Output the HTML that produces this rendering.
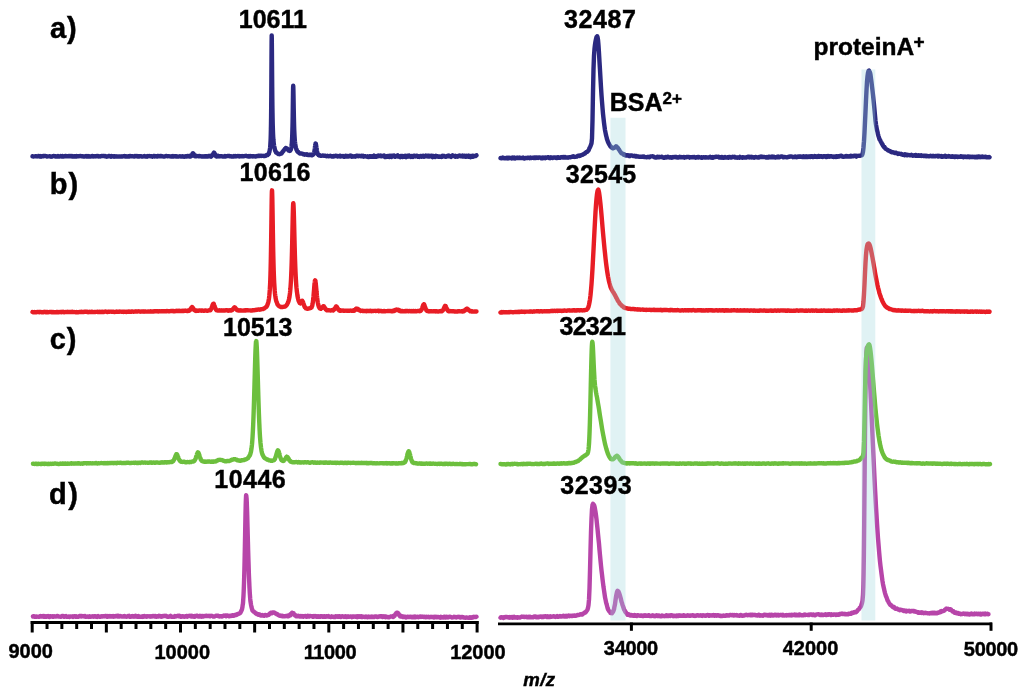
<!DOCTYPE html>
<html><head><meta charset="utf-8"><style>
html,body{margin:0;padding:0;background:#fff;}
svg{display:block;filter:blur(0.45px);}
text{font-family:"Liberation Sans",sans-serif;font-weight:bold;fill:#000;stroke:#000;stroke-width:0.45px;}
</style></head><body>
<svg width="1024" height="692" viewBox="0 0 1024 692">
<rect width="1024" height="692" fill="#fff"/>
<g fill="none" stroke-width="4.4" stroke-linejoin="round" stroke-linecap="round">
<path d="M32.5 156.27 L33.0 156.33 L33.5 156.58 L34.0 156.38 L34.5 156.33 L35.0 156.37 L35.5 156.12 L36.0 156.24 L36.5 156.36 L37.0 156.51 L37.5 156.11 L38.0 156.10 L38.5 155.96 L39.0 156.38 L39.5 156.45 L40.0 156.05 L40.5 156.53 L41.0 156.68 L41.5 156.53 L42.0 156.45 L42.5 156.13 L43.0 155.92 L43.5 156.19 L44.0 155.97 L44.5 155.98 L45.0 156.02 L45.5 155.89 L46.0 156.13 L46.5 156.20 L47.0 156.49 L47.5 156.38 L48.0 156.42 L48.5 156.34 L49.0 156.42 L49.5 156.31 L50.0 156.16 L50.5 156.57 L51.0 156.72 L51.5 156.67 L52.0 156.56 L52.5 156.27 L53.0 156.11 L53.5 156.10 L54.0 155.95 L54.5 156.35 L55.0 156.25 L55.5 156.51 L56.0 156.30 L56.5 156.59 L57.0 156.63 L57.5 156.09 L58.0 156.04 L58.5 156.47 L59.0 156.34 L59.5 156.62 L60.0 156.35 L60.5 156.04 L61.0 156.29 L61.5 156.48 L62.0 156.21 L62.5 156.00 L63.0 156.08 L63.5 156.52 L64.0 156.54 L64.5 156.14 L65.0 156.08 L65.5 155.96 L66.0 155.89 L66.5 156.35 L67.0 156.11 L67.5 156.27 L68.0 156.25 L68.5 156.08 L69.0 156.37 L69.5 156.08 L70.0 156.32 L70.5 156.05 L71.0 156.16 L71.5 156.06 L72.0 156.07 L72.5 156.52 L73.0 156.57 L73.5 156.27 L74.0 156.54 L74.5 156.19 L75.0 156.19 L75.5 156.49 L76.0 156.46 L76.5 156.09 L77.0 156.54 L77.5 156.20 L78.0 156.10 L78.5 156.41 L79.0 156.22 L79.5 156.14 L80.0 155.96 L80.5 155.91 L81.0 156.22 L81.5 156.10 L82.0 156.29 L82.5 156.21 L83.0 156.24 L83.5 156.57 L84.0 156.38 L84.5 156.38 L85.0 156.56 L85.5 156.18 L86.0 156.03 L86.5 156.47 L87.0 156.56 L87.5 156.23 L88.0 156.07 L88.5 156.37 L89.0 156.61 L89.5 156.21 L90.0 156.56 L90.5 156.64 L91.0 156.48 L91.5 156.31 L92.0 156.04 L92.5 155.91 L93.0 156.46 L93.5 156.18 L94.0 156.39 L94.5 156.17 L95.0 156.46 L95.5 156.42 L96.0 156.20 L96.5 156.05 L97.0 156.35 L97.5 156.04 L98.0 156.03 L98.5 156.24 L99.0 156.51 L99.5 156.44 L100.0 156.20 L100.5 156.54 L101.0 156.19 L101.5 155.94 L102.0 156.02 L102.5 156.16 L103.0 155.96 L103.5 155.97 L104.0 156.10 L104.5 156.27 L105.0 156.05 L105.5 156.12 L106.0 156.49 L106.5 156.68 L107.0 156.53 L107.5 156.50 L108.0 156.42 L108.5 156.11 L109.0 155.93 L109.5 155.85 L110.0 156.41 L110.5 156.47 L111.0 156.66 L111.5 156.11 L112.0 156.32 L112.5 156.29 L113.0 156.44 L113.5 156.23 L114.0 156.60 L114.5 156.12 L115.0 156.27 L115.5 156.44 L116.0 156.61 L116.5 156.56 L117.0 156.52 L117.5 156.56 L118.0 156.66 L118.5 156.33 L119.0 156.43 L119.5 156.60 L120.0 156.64 L120.5 156.36 L121.0 156.51 L121.5 156.61 L122.0 156.45 L122.5 156.43 L123.0 156.27 L123.5 156.34 L124.0 156.38 L124.5 156.05 L125.0 156.30 L125.5 156.62 L126.0 156.65 L126.5 156.57 L127.0 156.32 L127.5 156.46 L128.0 156.40 L128.5 156.29 L129.0 156.51 L129.5 156.10 L130.0 156.39 L130.5 156.02 L131.0 156.26 L131.5 156.27 L132.0 156.11 L132.5 156.36 L133.0 156.31 L133.5 156.38 L134.0 156.60 L134.5 156.24 L135.0 155.96 L135.5 156.05 L136.0 156.32 L136.5 156.11 L137.0 156.01 L137.5 156.46 L138.0 156.46 L138.5 156.31 L139.0 156.55 L139.5 156.27 L140.0 156.39 L140.5 156.13 L141.0 156.19 L141.5 156.46 L142.0 156.62 L142.5 156.65 L143.0 156.34 L143.5 156.36 L144.0 156.20 L144.5 156.02 L145.0 156.20 L145.5 156.48 L146.0 156.58 L146.5 156.53 L147.0 156.67 L147.5 156.28 L148.0 156.07 L148.5 156.18 L149.0 156.11 L149.5 156.04 L150.0 156.15 L150.5 156.32 L151.0 156.30 L151.5 156.17 L152.0 156.47 L152.5 156.67 L153.0 156.39 L153.5 156.05 L154.0 155.90 L154.5 156.40 L155.0 156.03 L155.5 156.34 L156.0 156.35 L156.5 156.19 L157.0 156.44 L157.5 156.03 L158.0 155.96 L158.5 156.15 L159.0 155.93 L159.5 156.38 L160.0 156.15 L160.5 156.01 L161.0 155.90 L161.5 156.24 L162.0 156.24 L162.5 156.36 L163.0 156.41 L163.5 156.53 L164.0 156.67 L164.5 156.54 L165.0 156.18 L165.5 156.24 L166.0 156.06 L166.5 155.89 L167.0 156.13 L167.5 156.37 L168.0 156.11 L168.5 156.08 L169.0 156.11 L169.5 156.36 L170.0 156.32 L170.5 156.38 L171.0 156.48 L171.5 156.29 L172.0 156.48 L172.5 156.62 L173.0 156.13 L173.5 156.51 L174.0 156.51 L174.5 156.12 L175.0 156.20 L175.5 156.34 L176.0 156.57 L176.5 156.30 L177.0 156.34 L177.5 156.55 L178.0 156.57 L178.5 156.67 L179.0 156.40 L179.5 156.42 L180.0 156.14 L180.5 156.38 L181.0 156.52 L181.5 156.46 L182.0 156.48 L182.5 156.16 L183.0 156.50 L183.5 156.67 L184.0 156.72 L184.5 156.45 L185.0 156.52 L185.5 156.24 L186.0 156.52 L186.5 156.59 L187.0 156.27 L187.5 155.99 L188.0 156.12 L188.5 156.23 L189.0 156.40 L189.1 156.28 L189.2 155.94 L189.3 156.32 L189.4 155.97 L189.5 156.32 L189.6 156.04 L189.7 156.04 L189.8 156.33 L189.9 156.01 L190.0 155.90 L190.1 156.09 L190.2 156.29 L190.3 156.42 L190.4 156.36 L190.5 156.50 L190.6 156.23 L190.7 156.42 L190.8 155.90 L190.9 155.78 L191.0 155.91 L191.1 155.76 L191.2 155.94 L191.3 155.89 L191.4 155.73 L191.5 155.81 L191.6 155.56 L191.7 155.22 L191.8 155.04 L191.9 155.16 L192.0 155.11 L192.1 154.51 L192.2 154.59 L192.3 154.56 L192.4 154.13 L192.5 153.90 L192.6 153.47 L192.7 153.45 L192.8 153.37 L192.9 153.37 L193.0 153.28 L193.1 153.51 L193.2 153.46 L193.3 153.45 L193.4 153.81 L193.5 153.90 L193.6 154.01 L193.7 154.32 L193.8 154.15 L193.9 154.53 L194.0 154.71 L194.1 155.24 L194.2 155.51 L194.3 155.28 L194.4 155.41 L194.5 155.31 L194.6 155.54 L194.7 155.93 L194.8 156.16 L194.9 156.01 L195.0 155.88 L195.1 155.79 L195.2 156.05 L195.3 156.36 L195.4 155.96 L195.5 156.26 L195.6 155.88 L195.7 155.87 L195.8 155.89 L195.9 156.20 L196.0 156.08 L196.1 156.06 L196.2 156.23 L196.3 155.96 L196.4 156.27 L196.5 155.99 L196.6 156.14 L196.7 156.03 L196.8 155.96 L196.9 156.15 L197.0 156.16 L197.5 156.13 L198.0 156.15 L198.5 156.24 L199.0 156.03 L199.5 155.99 L200.0 156.25 L200.5 156.35 L201.0 156.31 L201.5 156.51 L202.0 156.42 L202.5 156.55 L203.0 156.19 L203.5 156.39 L204.0 156.51 L204.5 156.61 L205.0 156.26 L205.5 156.14 L206.0 156.49 L206.5 156.15 L207.0 156.54 L207.5 156.60 L208.0 156.13 L208.5 156.03 L209.0 156.31 L209.5 156.09 L210.0 155.90 L210.1 156.32 L210.2 156.19 L210.3 156.39 L210.4 156.02 L210.5 156.07 L210.6 156.27 L210.7 155.90 L210.8 155.88 L210.9 156.19 L211.0 156.44 L211.1 156.55 L211.2 156.03 L211.3 156.10 L211.4 156.27 L211.5 156.15 L211.6 156.21 L211.7 155.89 L211.8 155.68 L211.9 155.59 L212.0 155.48 L212.1 155.73 L212.2 155.73 L212.3 155.71 L212.4 155.34 L212.5 155.15 L212.6 155.00 L212.7 155.24 L212.8 155.30 L212.9 155.14 L213.0 154.40 L213.1 153.97 L213.2 154.24 L213.3 153.86 L213.4 153.78 L213.5 153.32 L213.6 153.14 L213.7 153.00 L213.8 152.83 L213.9 152.85 L214.0 152.77 L214.1 152.83 L214.2 153.11 L214.3 152.88 L214.4 153.10 L214.5 153.50 L214.6 153.57 L214.7 153.62 L214.8 153.77 L214.9 154.20 L215.0 154.17 L215.1 154.87 L215.2 155.18 L215.3 155.34 L215.4 155.60 L215.5 155.63 L215.6 155.57 L215.7 155.74 L215.8 155.79 L215.9 156.17 L216.0 156.22 L216.1 155.91 L216.2 156.26 L216.3 156.29 L216.4 156.34 L216.5 156.39 L216.6 156.16 L216.7 156.40 L216.8 156.48 L216.9 156.40 L217.0 156.42 L217.1 156.43 L217.2 156.21 L217.3 156.34 L217.4 155.96 L217.5 156.01 L217.6 156.11 L217.7 155.85 L217.8 155.99 L217.9 156.22 L218.0 156.29 L218.5 156.08 L219.0 156.47 L219.5 156.43 L220.0 156.20 L220.5 156.33 L221.0 156.32 L221.5 156.30 L222.0 156.20 L222.5 156.56 L223.0 156.45 L223.5 156.45 L224.0 156.49 L224.5 156.65 L225.0 156.08 L225.5 156.27 L226.0 156.42 L226.5 156.15 L227.0 156.16 L227.5 155.93 L228.0 155.94 L228.5 156.06 L229.0 155.93 L229.5 155.98 L230.0 156.42 L230.5 156.34 L231.0 156.29 L231.5 156.57 L232.0 156.41 L232.5 156.63 L233.0 156.47 L233.5 156.53 L234.0 156.07 L234.5 156.25 L235.0 156.41 L235.5 156.01 L236.0 156.44 L236.5 156.09 L237.0 156.17 L237.5 156.00 L238.0 156.15 L238.5 156.28 L239.0 155.96 L239.5 156.43 L240.0 156.25 L240.5 156.26 L241.0 156.30 L241.5 156.17 L242.0 156.07 L242.5 156.27 L243.0 156.28 L243.5 156.10 L244.0 156.32 L244.5 156.12 L245.0 155.87 L245.5 155.92 L246.0 155.81 L246.5 155.85 L247.0 156.24 L247.5 156.14 L248.0 156.44 L248.5 156.44 L249.0 155.99 L249.5 156.44 L250.0 156.56 L250.5 156.04 L251.0 156.39 L251.5 156.20 L252.0 156.17 L252.5 156.47 L253.0 156.10 L253.5 156.15 L254.0 156.43 L254.5 156.39 L255.0 156.20 L255.5 156.46 L256.0 156.44 L256.5 156.29 L257.0 155.92 L257.5 156.11 L258.0 156.06 L258.5 155.87 L259.0 155.69 L259.5 155.93 L260.0 155.74 L260.5 155.87 L261.0 156.04 L261.5 155.95 L262.0 155.77 L262.5 155.90 L263.0 155.81 L263.5 155.98 L264.0 155.85 L264.5 156.06 L265.0 156.05 L265.5 155.85 L266.0 155.37 L266.5 155.02 L267.0 155.27 L267.5 155.10 L267.7 154.90 L267.8 154.63 L267.9 154.42 L268.0 154.57 L268.1 154.48 L268.2 154.40 L268.3 154.32 L268.4 154.29 L268.5 153.83 L268.6 153.61 L268.7 153.90 L268.8 153.84 L268.9 153.66 L269.0 152.90 L269.1 152.49 L269.2 152.29 L269.3 152.11 L269.4 151.94 L269.5 151.27 L269.6 151.01 L269.7 150.27 L269.8 149.62 L269.9 149.31 L270.0 148.58 L270.1 147.75 L270.2 146.56 L270.3 145.34 L270.4 143.70 L270.5 141.95 L270.6 140.06 L270.7 137.53 L270.8 133.72 L270.9 129.30 L271.0 124.11 L271.1 116.77 L271.2 107.08 L271.3 93.84 L271.4 77.46 L271.5 58.67 L271.6 42.48 L271.7 35.34 L271.8 38.91 L271.9 48.76 L272.0 61.24 L272.1 74.60 L272.2 86.94 L272.3 97.21 L272.4 105.91 L272.5 112.79 L272.6 118.25 L272.7 123.29 L272.8 126.69 L272.9 129.68 L273.0 132.54 L273.1 134.76 L273.2 136.76 L273.3 138.15 L273.4 139.77 L273.5 140.60 L273.6 141.63 L273.7 142.85 L273.8 143.42 L273.9 144.23 L274.0 145.22 L274.1 145.93 L274.2 146.28 L274.3 146.64 L274.4 147.21 L274.5 147.94 L274.6 148.23 L274.7 148.41 L274.8 149.10 L274.9 149.46 L275.0 150.03 L275.1 150.43 L275.2 150.73 L275.3 150.70 L275.4 151.08 L275.5 151.04 L275.6 151.18 L275.7 151.41 L275.8 151.97 L275.9 152.25 L276.0 152.04 L276.1 152.14 L276.2 152.27 L276.3 152.40 L276.5 152.67 L277.0 153.17 L277.5 153.37 L278.0 153.77 L278.5 154.11 L279.0 154.06 L279.5 154.21 L280.0 154.02 L280.5 153.59 L281.0 153.66 L281.5 153.53 L282.0 152.79 L282.5 151.96 L283.0 151.52 L283.5 150.85 L284.0 150.08 L284.5 149.56 L285.0 148.76 L285.5 148.37 L285.8 147.98 L286.0 147.93 L286.5 148.32 L287.0 148.37 L287.5 148.80 L288.0 149.76 L288.5 150.50 L289.0 150.42 L289.2 150.71 L289.3 150.49 L289.4 150.82 L289.5 150.87 L289.6 150.63 L289.7 150.51 L289.8 150.80 L289.9 150.71 L290.0 150.61 L290.1 150.54 L290.2 150.34 L290.3 150.60 L290.4 150.41 L290.5 150.11 L290.6 149.90 L290.7 149.80 L290.8 149.58 L290.9 149.43 L291.0 148.82 L291.1 148.60 L291.2 148.11 L291.3 147.70 L291.4 147.12 L291.5 146.45 L291.6 145.69 L291.7 144.82 L291.8 143.54 L291.9 142.11 L292.0 140.64 L292.1 138.89 L292.2 136.45 L292.3 133.68 L292.4 130.17 L292.5 126.43 L292.6 121.74 L292.7 115.45 L292.8 108.23 L292.9 100.56 L293.0 93.34 L293.1 87.75 L293.2 85.79 L293.3 86.78 L293.4 90.28 L293.5 95.23 L293.6 101.36 L293.7 107.42 L293.8 112.61 L293.9 117.35 L294.0 121.83 L294.1 125.66 L294.2 129.06 L294.3 131.25 L294.4 133.41 L294.5 135.36 L294.6 137.06 L294.7 138.53 L294.8 140.12 L294.9 141.26 L295.0 142.01 L295.1 142.77 L295.2 143.57 L295.3 144.21 L295.4 145.20 L295.5 145.61 L295.6 146.24 L295.7 146.93 L295.8 147.22 L295.9 147.44 L296.0 148.16 L296.1 148.65 L296.2 148.65 L296.3 148.98 L296.4 149.54 L296.5 149.59 L296.6 149.60 L296.7 149.64 L296.8 150.37 L296.9 150.67 L297.0 150.62 L297.1 150.82 L297.2 150.99 L297.3 150.99 L297.4 151.56 L297.5 151.63 L297.6 151.47 L298.0 151.69 L298.5 152.36 L299.0 152.72 L299.5 153.26 L300.0 153.52 L300.5 153.63 L301.0 153.47 L301.5 153.48 L302.0 153.66 L302.5 153.75 L303.0 154.23 L303.5 154.22 L304.0 154.35 L304.5 154.67 L305.0 154.36 L305.5 154.46 L306.0 154.29 L306.5 154.67 L307.0 154.34 L307.5 154.79 L308.0 155.00 L308.5 155.08 L309.0 154.65 L309.5 154.65 L310.0 154.95 L310.5 154.66 L311.0 154.81 L311.5 154.85 L311.6 155.18 L311.7 155.05 L311.8 155.17 L311.9 154.85 L312.0 155.05 L312.1 154.87 L312.2 155.12 L312.3 154.66 L312.4 154.97 L312.5 154.66 L312.6 154.76 L312.7 154.76 L312.8 154.51 L312.9 154.83 L313.0 154.58 L313.1 154.45 L313.2 154.22 L313.3 154.23 L313.4 154.28 L313.5 154.39 L313.6 154.10 L313.7 154.10 L313.8 153.58 L313.9 153.42 L314.0 153.20 L314.1 153.21 L314.2 152.84 L314.3 152.27 L314.4 151.27 L314.5 150.73 L314.6 150.28 L314.7 149.30 L314.8 148.62 L314.9 147.74 L315.0 146.57 L315.1 146.25 L315.2 145.50 L315.3 144.43 L315.4 144.02 L315.5 143.50 L315.6 143.51 L315.7 143.58 L315.8 143.71 L315.9 144.09 L316.0 144.64 L316.1 145.43 L316.2 145.91 L316.3 146.51 L316.4 147.54 L316.5 148.11 L316.6 149.16 L316.7 149.71 L316.8 150.41 L316.9 150.77 L317.0 151.55 L317.1 151.66 L317.2 152.00 L317.3 152.33 L317.4 153.04 L317.5 153.50 L317.6 153.47 L317.7 153.75 L317.8 154.25 L317.9 154.37 L318.0 154.17 L318.1 154.27 L318.2 154.32 L318.3 154.38 L318.4 154.63 L318.5 154.54 L318.6 155.10 L318.7 155.01 L318.8 155.06 L318.9 155.20 L319.0 155.34 L319.1 155.46 L319.2 155.23 L319.3 155.14 L319.4 155.18 L319.5 154.95 L319.6 155.14 L320.0 155.47 L320.5 155.84 L321.0 155.88 L321.5 155.85 L322.0 155.83 L322.5 155.45 L323.0 155.55 L323.5 155.61 L324.0 155.86 L324.5 155.58 L325.0 155.69 L325.5 155.84 L326.0 156.11 L326.5 156.24 L327.0 156.14 L327.5 155.78 L328.0 156.12 L328.5 156.35 L329.0 156.17 L329.5 155.97 L330.0 156.01 L330.5 155.76 L331.0 156.12 L331.5 156.48 L332.0 156.23 L332.5 156.31 L333.0 156.45 L333.5 155.97 L334.0 156.43 L334.5 156.33 L335.0 155.94 L335.5 155.70 L336.0 155.76 L336.5 156.07 L337.0 156.29 L337.5 156.05 L338.0 156.49 L338.5 156.15 L339.0 156.12 L339.5 155.81 L340.0 156.47 L340.5 155.94 L341.0 156.46 L341.5 156.32 L342.0 156.28 L342.5 156.27 L343.0 155.99 L343.5 156.51 L344.0 156.77 L344.5 156.70 L345.0 156.47 L345.5 155.92 L346.0 156.42 L346.5 156.07 L347.0 156.55 L347.5 156.06 L348.0 156.23 L348.5 156.55 L349.0 156.00 L349.5 156.19 L350.0 155.76 L350.5 155.56 L351.0 155.65 L351.5 156.53 L352.0 156.79 L352.5 156.59 L353.0 156.14 L353.5 156.38 L354.0 156.54 L354.5 156.20 L355.0 156.32 L355.5 156.59 L356.0 155.81 L356.5 155.74 L357.0 156.02 L357.5 155.75 L358.0 155.93 L358.5 156.21 L359.0 155.84 L359.5 156.12 L360.0 155.92 L360.5 156.20 L361.0 156.03 L361.5 156.33 L362.0 155.72 L362.5 156.26 L363.0 155.82 L363.5 156.65 L364.0 156.51 L364.5 156.30 L365.0 156.15 L365.5 156.36 L366.0 156.52 L366.5 156.67 L367.0 156.71 L367.5 156.39 L368.0 156.93 L368.5 156.92 L369.0 156.94 L369.5 156.37 L370.0 156.21 L370.5 156.32 L371.0 156.81 L371.5 156.48 L372.0 156.37 L372.5 156.20 L373.0 156.78 L373.5 156.20 L374.0 155.63 L374.5 156.34 L375.0 156.83 L375.5 156.78 L376.0 156.57 L376.5 156.72 L377.0 156.15 L377.5 156.35 L378.0 155.69 L378.5 155.53 L379.0 155.93 L379.5 156.15 L380.0 156.07 L380.5 155.55 L381.0 156.29 L381.5 156.31 L382.0 155.90 L382.5 155.86 L383.0 155.97 L383.5 155.78 L384.0 155.48 L384.5 156.58 L385.0 157.04 L385.5 156.77 L386.0 156.97 L386.5 156.40 L387.0 156.75 L387.5 156.04 L388.0 156.54 L388.5 156.46 L389.0 156.91 L389.5 155.92 L390.0 156.56 L390.5 155.83 L391.0 156.17 L391.5 156.88 L392.0 155.77 L392.5 155.73 L393.0 155.79 L393.5 155.85 L394.0 155.50 L394.5 156.56 L395.0 156.82 L395.5 156.32 L396.0 156.08 L396.5 156.33 L397.0 155.64 L397.5 155.38 L398.0 156.53 L398.5 156.09 L399.0 156.21 L399.5 156.87 L400.0 157.16 L400.5 156.55 L401.0 155.95 L401.5 155.87 L402.0 156.74 L402.5 157.00 L403.0 156.09 L403.5 156.69 L404.0 156.21 L404.5 156.21 L405.0 155.78 L405.5 156.65 L406.0 157.11 L406.5 156.14 L407.0 156.42 L407.5 155.88 L408.0 156.68 L408.5 155.77 L409.0 155.54 L409.5 156.34 L410.0 156.03 L410.5 156.76 L411.0 156.98 L411.5 156.83 L412.0 155.95 L412.5 156.44 L413.0 156.96 L413.5 156.44 L414.0 155.73 L414.5 155.69 L415.0 155.80 L415.5 156.41 L416.0 155.89 L416.5 155.69 L417.0 155.69 L417.5 156.31 L418.0 156.71 L418.5 156.25 L419.0 156.50 L419.5 156.91 L420.0 156.63 L420.5 156.01 L421.0 155.90 L421.5 156.76 L422.0 156.69 L422.5 156.10 L423.0 156.42 L423.5 155.74 L424.0 156.78 L424.5 156.37 L425.0 156.35 L425.5 156.35 L426.0 155.66 L426.5 156.21 L427.0 155.95 L427.5 155.81 L428.0 156.55 L428.5 155.79 L429.0 155.80 L429.5 156.48 L430.0 155.99 L430.5 155.86 L431.0 156.21 L431.5 155.81 L432.0 156.68 L432.5 157.12 L433.0 155.91 L433.5 156.10 L434.0 156.58 L434.5 156.22 L435.0 156.88 L435.5 156.49 L436.0 155.90 L436.5 156.23 L437.0 156.47 L437.5 156.15 L438.0 156.46 L438.5 156.75 L439.0 156.47 L439.5 156.36 L440.0 156.80 L440.5 156.73 L441.0 156.47 L441.5 157.00 L442.0 156.07 L442.5 156.61 L443.0 155.92 L443.5 156.31 L444.0 155.92 L444.5 156.07 L445.0 156.60 L445.5 156.81 L446.0 156.88 L446.5 156.12 L447.0 156.21 L447.5 155.86 L448.0 156.25 L448.5 156.27 L449.0 155.62 L449.5 156.19 L450.0 156.56 L450.5 156.49 L451.0 156.89 L451.5 156.04 L452.0 155.70 L452.5 155.39 L453.0 155.97 L453.5 156.08 L454.0 156.13 L454.5 155.89 L455.0 156.58 L455.5 155.78 L456.0 156.69 L456.5 156.53 L457.0 156.43 L457.5 156.76 L458.0 156.08 L458.5 155.71 L459.0 155.81 L459.5 155.47 L460.0 155.74 L460.5 156.27 L461.0 156.32 L461.5 155.96 L462.0 156.30 L462.5 155.70 L463.0 156.54 L463.5 155.91 L464.0 155.80 L464.5 155.63 L465.0 156.33 L465.5 156.78 L466.0 156.87 L466.5 155.86 L467.0 156.01 L467.5 156.00 L468.0 155.78 L468.5 156.78 L469.0 155.81 L469.5 156.11 L470.0 156.60 L470.5 157.09 L471.0 156.06 L471.5 156.15 L472.0 156.59 L472.5 155.74 L473.0 155.73 L473.5 156.65 L474.0 155.90 L474.5 156.00 L475.0 155.90 L475.5 156.05 L476.0 155.60 L476.5 155.38" stroke="#2b2981"/>
<path d="M500.5 158.09 L501.0 158.24 L501.5 158.30 L502.0 157.85 L502.5 157.57 L503.0 157.80 L503.5 157.78 L504.0 158.27 L504.5 158.32 L505.0 158.26 L505.5 158.20 L506.0 158.27 L506.5 157.82 L507.0 157.93 L507.5 157.72 L508.0 158.31 L508.5 157.75 L509.0 158.24 L509.5 157.74 L510.0 158.12 L510.5 157.93 L511.0 157.92 L511.5 158.32 L512.0 157.70 L512.5 157.52 L513.0 158.24 L513.5 158.11 L514.0 157.69 L514.5 158.35 L515.0 158.55 L515.5 157.86 L516.0 157.89 L516.5 157.64 L517.0 157.71 L517.5 158.02 L518.0 157.71 L518.5 158.08 L519.0 157.62 L519.5 157.57 L520.0 158.13 L520.5 157.95 L521.0 157.90 L521.5 158.04 L522.0 157.98 L522.5 157.87 L523.0 157.51 L523.5 158.02 L524.0 158.41 L524.5 158.55 L525.0 158.32 L525.5 157.95 L526.0 157.83 L526.5 158.08 L527.0 158.15 L527.5 157.66 L528.0 157.60 L528.5 157.69 L529.0 157.85 L529.5 158.18 L530.0 158.01 L530.5 157.52 L531.0 158.07 L531.5 157.90 L532.0 157.92 L532.5 157.65 L533.0 157.74 L533.5 157.74 L534.0 158.08 L534.5 157.59 L535.0 157.82 L535.5 157.56 L536.0 157.94 L536.5 157.46 L537.0 157.51 L537.5 157.59 L538.0 157.88 L538.5 157.44 L539.0 157.66 L539.5 157.50 L540.0 157.51 L540.5 157.69 L541.0 158.18 L541.5 157.92 L542.0 158.25 L542.5 157.65 L543.0 158.12 L543.5 157.78 L544.0 157.49 L544.5 157.89 L545.0 158.18 L545.5 157.45 L546.0 157.43 L546.5 157.87 L547.0 157.64 L547.5 157.46 L548.0 157.18 L548.5 157.10 L549.0 157.60 L549.5 158.10 L550.0 158.28 L550.5 157.89 L551.0 157.31 L551.5 157.37 L552.0 157.81 L552.5 158.00 L553.0 157.88 L553.5 157.46 L554.0 157.58 L554.5 157.56 L555.0 157.69 L555.5 157.39 L556.0 157.90 L556.5 158.03 L557.0 157.40 L557.5 157.28 L558.0 157.76 L558.5 157.38 L559.0 157.84 L559.5 157.61 L560.0 157.68 L560.5 157.70 L561.0 157.25 L561.5 157.15 L562.0 157.07 L562.5 157.42 L563.0 157.54 L563.5 157.06 L564.0 157.56 L564.5 157.30 L565.0 157.03 L565.5 157.10 L566.0 157.60 L566.5 157.37 L567.0 157.34 L567.5 157.57 L568.0 157.68 L568.5 157.51 L569.0 157.11 L569.5 157.11 L570.0 157.37 L570.5 157.33 L571.0 157.10 L571.5 156.78 L572.0 156.66 L572.5 156.92 L573.0 156.82 L573.5 156.26 L574.0 156.65 L574.5 156.93 L575.0 156.88 L575.5 156.91 L576.0 156.89 L576.5 156.49 L577.0 156.52 L577.5 156.11 L578.0 155.64 L578.5 155.64 L579.0 155.53 L579.5 155.98 L580.0 155.83 L580.5 155.55 L581.0 155.43 L581.5 154.83 L582.0 154.87 L582.5 154.91 L583.0 154.50 L583.5 154.07 L584.0 153.89 L584.5 153.56 L585.0 153.57 L585.5 152.84 L586.0 152.28 L586.5 151.99 L587.0 151.92 L587.5 151.58 L588.0 150.95 L588.5 150.52 L589.0 149.31 L589.5 147.97 L590.0 147.22 L590.5 146.11 L591.0 144.56 L591.5 143.32 L592.0 138.47 L592.5 120.55 L593.0 92.24 L593.5 69.55 L594.0 55.61 L594.5 48.81 L595.0 44.59 L595.5 41.35 L596.0 38.95 L596.5 36.93 L597.0 36.56 L597.2 36.20 L597.5 36.98 L598.0 39.78 L598.5 45.55 L599.0 53.12 L599.5 61.80 L600.0 70.14 L600.5 78.86 L601.0 87.47 L601.5 95.21 L602.0 101.63 L602.5 107.94 L603.0 113.69 L603.5 118.30 L604.0 122.74 L604.5 126.52 L605.0 130.08 L605.5 132.64 L606.0 135.14 L606.5 137.00 L607.0 139.12 L607.5 140.47 L608.0 141.95 L608.5 143.09 L609.0 144.09 L609.5 144.83 L610.0 145.64 L610.5 146.60 L611.0 146.97 L611.5 147.12 L612.0 147.99 L612.5 147.85 L613.0 148.33 L613.5 148.06 L614.0 147.58 L614.5 147.63 L615.0 147.45 L615.5 146.70 L616.0 146.20 L616.5 146.59 L616.7 146.66 L617.0 147.06 L617.5 147.69 L618.0 148.08 L618.5 148.97 L619.0 149.53 L619.5 150.40 L620.0 151.18 L620.5 151.89 L621.0 152.52 L621.5 153.41 L622.0 153.39 L622.5 153.61 L623.0 153.89 L623.5 154.77 L624.0 154.78 L624.5 154.44 L625.0 155.11 L625.5 155.45 L626.0 155.59 L626.5 155.28 L627.0 155.56 L627.5 155.33 L628.0 155.14 L628.5 155.78 L629.0 156.02 L629.5 155.58 L630.0 156.07 L630.5 155.50 L631.0 155.60 L631.5 155.40 L632.0 155.50 L632.5 155.56 L633.0 156.12 L633.5 155.96 L634.0 155.83 L634.5 155.80 L635.0 155.94 L635.5 156.51 L636.0 156.50 L636.5 156.06 L637.0 156.45 L637.5 156.47 L638.0 156.42 L638.5 156.49 L639.0 156.65 L639.5 156.86 L640.0 156.68 L640.5 156.75 L641.0 156.63 L641.5 156.76 L642.0 156.60 L642.5 156.57 L643.0 156.67 L643.5 156.90 L644.0 156.60 L644.5 157.09 L645.0 156.88 L645.5 157.15 L646.0 157.10 L646.5 157.34 L647.0 157.18 L647.5 156.90 L648.0 156.79 L648.5 156.95 L649.0 157.15 L649.5 157.30 L650.0 156.72 L650.5 156.46 L651.0 156.42 L651.5 156.39 L652.0 156.36 L652.5 156.31 L653.0 156.52 L653.5 156.48 L654.0 156.99 L654.5 157.11 L655.0 157.48 L655.5 157.61 L656.0 157.46 L656.5 157.60 L657.0 156.82 L657.5 156.73 L658.0 157.34 L658.5 157.15 L659.0 156.84 L659.5 157.24 L660.0 157.08 L660.5 157.14 L661.0 156.95 L661.5 156.83 L662.0 156.64 L662.5 157.06 L663.0 157.52 L663.5 157.72 L664.0 157.59 L664.5 157.70 L665.0 157.22 L665.5 157.00 L666.0 157.49 L666.5 157.37 L667.0 157.40 L667.5 156.81 L668.0 156.81 L668.5 157.04 L669.0 157.35 L669.5 157.54 L670.0 157.55 L670.5 157.18 L671.0 157.09 L671.5 157.49 L672.0 157.76 L672.5 157.39 L673.0 157.00 L673.5 157.26 L674.0 157.27 L674.5 157.11 L675.0 156.94 L675.5 157.02 L676.0 157.26 L676.5 156.90 L677.0 157.16 L677.5 157.62 L678.0 157.60 L678.5 157.14 L679.0 157.13 L679.5 156.85 L680.0 157.32 L680.5 157.40 L681.0 157.01 L681.5 157.21 L682.0 157.33 L682.5 157.35 L683.0 157.18 L683.5 157.06 L684.0 157.06 L684.5 157.64 L685.0 157.24 L685.5 157.26 L686.0 157.23 L686.5 156.96 L687.0 157.07 L687.5 156.93 L688.0 156.99 L688.5 157.05 L689.0 157.06 L689.5 157.60 L690.0 157.20 L690.5 157.10 L691.0 157.36 L691.5 157.21 L692.0 157.27 L692.5 157.41 L693.0 156.94 L693.5 157.31 L694.0 156.93 L694.5 156.93 L695.0 157.44 L695.5 157.78 L696.0 157.61 L696.5 157.10 L697.0 157.16 L697.5 157.04 L698.0 157.51 L698.5 157.12 L699.0 156.95 L699.5 157.29 L700.0 157.41 L700.5 157.41 L701.0 157.31 L701.5 157.71 L702.0 157.39 L702.5 157.72 L703.0 157.34 L703.5 157.27 L704.0 157.15 L704.5 157.43 L705.0 157.56 L705.5 157.14 L706.0 157.26 L706.5 157.48 L707.0 157.35 L707.5 157.45 L708.0 157.45 L708.5 157.53 L709.0 157.24 L709.5 157.09 L710.0 156.78 L710.5 157.46 L711.0 157.61 L711.5 157.29 L712.0 157.71 L712.5 157.79 L713.0 157.14 L713.5 157.54 L714.0 157.30 L714.5 157.11 L715.0 157.00 L715.5 157.10 L716.0 156.81 L716.5 156.70 L717.0 156.72 L717.5 156.91 L718.0 156.83 L718.5 156.77 L719.0 157.40 L719.5 157.21 L720.0 157.24 L720.5 157.35 L721.0 157.69 L721.5 157.09 L722.0 156.96 L722.5 157.49 L723.0 157.72 L723.5 157.81 L724.0 157.48 L724.5 157.22 L725.0 156.96 L725.5 157.53 L726.0 157.60 L726.5 157.42 L727.0 157.58 L727.5 157.15 L728.0 157.25 L728.5 157.62 L729.0 157.03 L729.5 157.28 L730.0 156.98 L730.5 157.46 L731.0 157.63 L731.5 157.52 L732.0 157.28 L732.5 156.83 L733.0 157.09 L733.5 157.07 L734.0 157.09 L734.5 156.81 L735.0 157.47 L735.5 157.34 L736.0 157.33 L736.5 157.58 L737.0 157.72 L737.5 157.45 L738.0 157.35 L738.5 157.59 L739.0 157.24 L739.5 157.60 L740.0 156.93 L740.5 157.40 L741.0 157.31 L741.5 157.37 L742.0 157.72 L742.5 157.15 L743.0 157.11 L743.5 157.46 L744.0 157.53 L744.5 157.35 L745.0 157.52 L745.5 157.49 L746.0 157.65 L746.5 157.51 L747.0 157.19 L747.5 157.01 L748.0 156.76 L748.5 156.71 L749.0 156.62 L749.5 157.44 L750.0 156.96 L750.5 157.21 L751.0 156.87 L751.5 157.51 L752.0 157.33 L752.5 156.94 L753.0 157.40 L753.5 157.58 L754.0 157.75 L754.5 157.12 L755.0 157.06 L755.5 157.27 L756.0 157.00 L756.5 157.16 L757.0 157.33 L757.5 157.44 L758.0 157.54 L758.5 157.50 L759.0 157.06 L759.5 157.33 L760.0 157.13 L760.5 156.82 L761.0 156.57 L761.5 157.03 L762.0 156.95 L762.5 156.67 L763.0 156.94 L763.5 156.96 L764.0 156.88 L764.5 157.07 L765.0 157.11 L765.5 157.11 L766.0 157.52 L766.5 157.59 L767.0 157.06 L767.5 157.39 L768.0 157.00 L768.5 157.42 L769.0 156.77 L769.5 156.77 L770.0 157.33 L770.5 157.28 L771.0 157.30 L771.5 156.84 L772.0 156.61 L772.5 157.28 L773.0 156.70 L773.5 156.60 L774.0 156.79 L774.5 157.21 L775.0 157.22 L775.5 157.52 L776.0 157.42 L776.5 157.07 L777.0 157.37 L777.5 156.94 L778.0 156.54 L778.5 157.22 L779.0 157.39 L779.5 157.24 L780.0 157.02 L780.5 156.69 L781.0 156.59 L781.5 156.41 L782.0 156.37 L782.5 156.70 L783.0 157.20 L783.5 157.40 L784.0 157.09 L784.5 157.12 L785.0 156.94 L785.5 157.15 L786.0 157.16 L786.5 157.42 L787.0 157.37 L787.5 157.20 L788.0 157.06 L788.5 156.63 L789.0 156.75 L789.5 156.76 L790.0 156.50 L790.5 156.45 L791.0 156.62 L791.5 156.46 L792.0 156.81 L792.5 156.66 L793.0 157.20 L793.5 157.11 L794.0 156.93 L794.5 156.78 L795.0 156.69 L795.5 156.48 L796.0 157.10 L796.5 157.27 L797.0 157.08 L797.5 157.02 L798.0 156.53 L798.5 156.72 L799.0 156.44 L799.5 156.48 L800.0 156.73 L800.5 156.44 L801.0 156.39 L801.5 156.82 L802.0 156.74 L802.5 157.08 L803.0 156.53 L803.5 156.27 L804.0 156.95 L804.5 156.89 L805.0 156.94 L805.5 156.83 L806.0 156.42 L806.5 157.02 L807.0 156.79 L807.5 157.09 L808.0 156.49 L808.5 156.40 L809.0 156.61 L809.5 156.41 L810.0 156.89 L810.5 156.51 L811.0 156.21 L811.5 156.18 L812.0 156.26 L812.5 156.91 L813.0 157.06 L813.5 156.93 L814.0 156.65 L814.5 156.20 L815.0 156.76 L815.5 156.31 L816.0 156.22 L816.5 156.40 L817.0 156.85 L817.5 156.38 L818.0 156.11 L818.5 156.78 L819.0 156.19 L819.5 156.64 L820.0 156.26 L820.5 156.26 L821.0 156.18 L821.5 156.35 L822.0 156.85 L822.5 156.95 L823.0 156.70 L823.5 156.21 L824.0 156.11 L824.5 156.18 L825.0 156.66 L825.5 156.93 L826.0 156.21 L826.5 156.24 L827.0 156.82 L827.5 156.28 L828.0 156.02 L828.5 156.10 L829.0 156.69 L829.5 156.32 L830.0 156.61 L830.5 156.16 L831.0 156.49 L831.5 156.15 L832.0 156.42 L832.5 156.64 L833.0 156.84 L833.5 156.51 L834.0 156.89 L834.5 156.49 L835.0 156.84 L835.5 156.93 L836.0 157.03 L836.5 156.25 L837.0 156.13 L837.5 156.47 L838.0 156.75 L838.5 156.28 L839.0 156.58 L839.5 156.41 L840.0 155.92 L840.5 155.82 L841.0 155.71 L841.5 155.87 L842.0 156.56 L842.5 156.57 L843.0 156.73 L843.5 156.84 L844.0 156.39 L844.5 156.51 L845.0 156.51 L845.5 156.54 L846.0 156.00 L846.5 156.53 L847.0 156.05 L847.5 156.14 L848.0 156.39 L848.5 156.52 L849.0 156.64 L849.5 156.21 L850.0 156.04 L850.5 156.37 L851.0 155.86 L851.5 156.43 L852.0 156.12 L852.5 156.07 L853.0 155.98 L853.5 156.31 L854.0 155.93 L854.5 155.75 L855.0 155.62 L855.5 155.63 L856.0 156.07 L856.5 156.56 L857.0 155.82 L857.5 155.98 L858.0 155.92 L858.5 155.86 L859.0 155.85 L859.5 155.63 L860.0 155.82 L860.5 155.71 L861.0 155.40 L861.5 155.14 L862.0 155.25 L862.5 154.01 L863.0 151.83 L863.5 147.67 L864.0 141.40 L864.5 132.56 L865.0 122.10 L865.5 111.59 L866.0 100.39 L866.5 90.36 L867.0 81.74 L867.5 76.41 L868.0 72.90 L868.5 70.94 L869.0 70.56 L869.1 70.94 L869.5 71.53 L870.0 72.49 L870.5 74.77 L871.0 78.58 L871.5 82.25 L872.0 86.50 L872.5 90.59 L873.0 95.01 L873.5 99.89 L874.0 104.79 L874.5 109.86 L875.0 115.33 L875.5 120.77 L876.0 124.61 L876.5 127.38 L877.0 130.04 L877.5 131.83 L878.0 134.22 L878.5 136.11 L879.0 137.65 L879.5 139.25 L880.0 139.85 L880.5 140.99 L881.0 142.01 L881.5 142.63 L882.0 144.08 L882.5 144.32 L883.0 145.70 L883.5 146.31 L884.0 147.17 L884.5 146.97 L885.0 147.98 L885.5 148.68 L886.0 149.03 L886.5 149.22 L887.0 149.58 L887.5 149.77 L888.0 150.38 L888.5 150.53 L889.0 150.73 L889.5 150.84 L890.0 151.23 L890.5 151.48 L891.0 152.02 L891.5 152.19 L892.0 151.96 L892.5 152.35 L893.0 152.16 L893.5 152.41 L894.0 152.64 L894.5 152.99 L895.0 152.61 L895.5 152.62 L896.0 152.74 L896.5 153.25 L897.0 153.09 L897.5 153.46 L898.0 153.94 L898.5 153.76 L899.0 153.57 L899.5 153.90 L900.0 153.90 L900.5 153.97 L901.0 153.81 L901.5 154.26 L902.0 154.16 L902.5 154.75 L903.0 154.55 L903.5 154.69 L904.0 155.00 L904.5 155.19 L905.0 154.42 L905.5 155.01 L906.0 154.50 L906.5 155.12 L907.0 155.23 L907.5 154.81 L908.0 155.11 L908.5 155.10 L909.0 155.03 L909.5 155.18 L910.0 155.11 L910.5 155.29 L911.0 155.41 L911.5 154.85 L912.0 155.25 L912.5 155.47 L913.0 155.72 L913.5 155.52 L914.0 155.48 L914.5 155.12 L915.0 155.06 L915.5 155.70 L916.0 155.18 L916.5 155.78 L917.0 155.30 L917.5 155.38 L918.0 155.64 L918.5 155.21 L919.0 155.46 L919.5 155.88 L920.0 155.66 L920.5 155.41 L921.0 155.23 L921.5 155.99 L922.0 155.50 L922.5 155.86 L923.0 155.96 L923.5 155.69 L924.0 155.86 L924.5 156.04 L925.0 155.69 L925.5 155.61 L926.0 156.21 L926.5 155.78 L927.0 155.89 L927.5 155.91 L928.0 156.22 L928.5 156.41 L929.0 156.41 L929.5 156.29 L930.0 156.18 L930.5 155.74 L931.0 156.04 L931.5 156.02 L932.0 156.32 L932.5 156.08 L933.0 155.78 L933.5 155.92 L934.0 156.38 L934.5 156.25 L935.0 156.37 L935.5 155.86 L936.0 155.84 L936.5 155.88 L937.0 156.10 L937.5 155.85 L938.0 156.53 L938.5 156.21 L939.0 155.81 L939.5 155.89 L940.0 156.16 L940.5 156.37 L941.0 156.63 L941.5 156.07 L942.0 156.68 L942.5 156.80 L943.0 156.53 L943.5 156.57 L944.0 156.28 L944.5 156.04 L945.0 155.83 L945.5 156.63 L946.0 156.86 L946.5 156.53 L947.0 156.57 L947.5 156.47 L948.0 156.64 L948.5 156.17 L949.0 156.60 L949.5 156.23 L950.0 156.49 L950.5 156.61 L951.0 156.87 L951.5 156.75 L952.0 156.31 L952.5 156.75 L953.0 156.50 L953.5 156.60 L954.0 156.85 L954.5 157.10 L955.0 156.40 L955.5 156.48 L956.0 156.39 L956.5 156.84 L957.0 156.60 L957.5 156.98 L958.0 157.02 L958.5 156.69 L959.0 156.90 L959.5 156.90 L960.0 156.39 L960.5 156.38 L961.0 156.24 L961.5 156.82 L962.0 156.64 L962.5 156.49 L963.0 156.82 L963.5 157.19 L964.0 156.55 L964.5 156.83 L965.0 156.51 L965.5 156.92 L966.0 157.02 L966.5 157.08 L967.0 156.94 L967.5 156.48 L968.0 156.98 L968.5 156.49 L969.0 156.75 L969.5 157.19 L970.0 156.72 L970.5 156.75 L971.0 156.94 L971.5 156.99 L972.0 156.71 L972.5 156.70 L973.0 157.14 L973.5 157.13 L974.0 156.64 L974.5 156.93 L975.0 157.20 L975.5 157.07 L976.0 157.29 L976.5 156.80 L977.0 156.65 L977.5 157.13 L978.0 156.75 L978.5 156.50 L979.0 156.43 L979.5 157.08 L980.0 157.26 L980.5 156.76 L981.0 157.08 L981.5 156.70 L982.0 156.96 L982.5 156.50 L983.0 156.85 L983.5 157.14 L984.0 157.02 L984.5 157.09 L985.0 156.66 L985.5 156.82 L986.0 157.18 L986.5 156.93 L987.0 157.19 L987.5 157.15 L988.0 157.33 L988.5 157.33 L989.0 156.94 L989.5 157.27" stroke="#2b2981"/>
<path d="M32.5 312.03 L33.0 312.22 L33.5 312.25 L34.0 312.19 L34.5 312.05 L35.0 312.26 L35.5 312.34 L36.0 312.23 L36.5 312.19 L37.0 312.05 L37.5 311.90 L38.0 312.01 L38.5 312.14 L39.0 311.95 L39.5 312.22 L40.0 312.05 L40.5 311.99 L41.0 311.88 L41.5 312.28 L42.0 312.30 L42.5 312.36 L43.0 312.27 L43.5 311.97 L44.0 312.00 L44.5 312.08 L45.0 311.94 L45.5 312.26 L46.0 312.11 L46.5 311.96 L47.0 312.21 L47.5 311.98 L48.0 312.26 L48.5 312.14 L49.0 312.14 L49.5 312.05 L50.0 312.08 L50.5 311.95 L51.0 311.84 L51.5 312.17 L52.0 312.00 L52.5 312.19 L53.0 311.99 L53.5 312.27 L54.0 312.33 L54.5 312.29 L55.0 312.27 L55.5 312.18 L56.0 312.22 L56.5 311.95 L57.0 312.02 L57.5 312.20 L58.0 311.98 L58.5 312.23 L59.0 312.30 L59.5 312.10 L60.0 312.01 L60.5 312.02 L61.0 311.99 L61.5 312.26 L62.0 312.07 L62.5 311.84 L63.0 311.79 L63.5 312.05 L64.0 312.27 L64.5 312.12 L65.0 312.06 L65.5 312.07 L66.0 312.16 L66.5 311.95 L67.0 312.05 L67.5 312.06 L68.0 312.09 L68.5 311.90 L69.0 311.83 L69.5 311.88 L70.0 312.16 L70.5 311.99 L71.0 312.05 L71.5 311.93 L72.0 311.80 L72.5 311.73 L73.0 312.05 L73.5 312.14 L74.0 311.99 L74.5 312.08 L75.0 312.10 L75.5 312.21 L76.0 312.27 L76.5 312.04 L77.0 312.23 L77.5 312.28 L78.0 312.12 L78.5 312.20 L79.0 312.05 L79.5 311.94 L80.0 311.84 L80.5 312.09 L81.0 311.86 L81.5 311.73 L82.0 312.02 L82.5 312.10 L83.0 312.00 L83.5 312.12 L84.0 311.81 L84.5 311.79 L85.0 311.79 L85.5 311.85 L86.0 311.76 L86.5 311.68 L87.0 311.77 L87.5 312.06 L88.0 312.20 L88.5 312.13 L89.0 311.99 L89.5 311.83 L90.0 312.10 L90.5 311.99 L91.0 312.05 L91.5 311.75 L92.0 311.72 L92.5 312.00 L93.0 312.07 L93.5 312.14 L94.0 312.03 L94.5 311.91 L95.0 311.94 L95.5 312.07 L96.0 311.87 L96.5 311.90 L97.0 311.79 L97.5 311.98 L98.0 311.69 L98.5 311.90 L99.0 312.09 L99.5 311.74 L100.0 311.87 L100.5 311.94 L101.0 312.05 L101.5 311.97 L102.0 311.79 L102.5 311.80 L103.0 312.05 L103.5 312.11 L104.0 311.78 L104.5 311.64 L105.0 311.60 L105.5 311.55 L106.0 311.72 L106.5 311.64 L107.0 311.94 L107.5 311.95 L108.0 311.71 L108.5 311.81 L109.0 311.75 L109.5 311.80 L110.0 311.69 L110.5 311.63 L111.0 311.61 L111.5 311.69 L112.0 311.87 L112.5 311.86 L113.0 311.63 L113.5 311.84 L114.0 311.99 L114.5 312.00 L115.0 312.01 L115.5 311.65 L116.0 311.73 L116.5 311.58 L117.0 311.84 L117.5 311.66 L118.0 311.84 L118.5 311.70 L119.0 311.85 L119.5 311.72 L120.0 311.55 L120.5 311.65 L121.0 311.64 L121.5 311.90 L122.0 311.71 L122.5 311.74 L123.0 311.76 L123.5 311.95 L124.0 311.62 L124.5 311.74 L125.0 311.73 L125.5 311.82 L126.0 311.96 L126.5 311.70 L127.0 311.79 L127.5 311.73 L128.0 311.73 L128.5 311.49 L129.0 311.75 L129.5 311.91 L130.0 311.68 L130.5 311.58 L131.0 311.84 L131.5 311.53 L132.0 311.40 L132.5 311.35 L133.0 311.67 L133.5 311.75 L134.0 311.63 L134.5 311.66 L135.0 311.40 L135.5 311.58 L136.0 311.55 L136.5 311.57 L137.0 311.52 L137.5 311.50 L138.0 311.41 L138.5 311.29 L139.0 311.42 L139.5 311.38 L140.0 311.57 L140.5 311.68 L141.0 311.67 L141.5 311.55 L142.0 311.40 L142.5 311.41 L143.0 311.45 L143.5 311.53 L144.0 311.71 L144.5 311.36 L145.0 311.42 L145.5 311.44 L146.0 311.54 L146.5 311.66 L147.0 311.64 L147.5 311.56 L148.0 311.59 L148.5 311.55 L149.0 311.62 L149.5 311.57 L150.0 311.54 L150.5 311.33 L151.0 311.55 L151.5 311.39 L152.0 311.43 L152.5 311.54 L153.0 311.63 L153.5 311.67 L154.0 311.24 L154.5 311.22 L155.0 311.21 L155.5 311.24 L156.0 311.13 L156.5 311.27 L157.0 311.10 L157.5 311.14 L158.0 311.44 L158.5 311.45 L159.0 311.32 L159.5 311.11 L160.0 311.42 L160.5 311.41 L161.0 311.18 L161.5 311.15 L162.0 311.27 L162.5 311.33 L163.0 311.16 L163.5 311.40 L164.0 311.20 L164.5 311.09 L165.0 311.32 L165.5 311.08 L166.0 311.23 L166.5 311.06 L167.0 311.18 L167.5 311.07 L168.0 311.08 L168.5 311.33 L169.0 311.20 L169.5 311.13 L170.0 311.19 L170.5 311.05 L171.0 310.95 L171.5 311.00 L172.0 310.97 L172.5 310.91 L173.0 311.24 L173.5 310.93 L174.0 311.17 L174.5 311.30 L175.0 311.24 L175.5 310.90 L176.0 311.00 L176.5 310.82 L177.0 311.01 L177.5 311.11 L178.0 310.94 L178.5 310.76 L179.0 310.94 L179.5 310.79 L180.0 310.83 L180.5 310.91 L181.0 311.13 L181.5 310.96 L182.0 310.79 L182.5 311.03 L183.0 311.12 L183.5 311.01 L184.0 310.74 L184.5 310.71 L185.0 310.78 L185.5 310.87 L186.0 310.74 L186.5 310.94 L187.0 311.02 L187.5 311.06 L188.0 311.03 L188.1 310.63 L188.2 310.73 L188.3 310.53 L188.4 310.83 L188.5 310.85 L188.6 310.85 L188.7 310.57 L188.8 310.40 L188.9 310.66 L189.0 310.63 L189.1 310.60 L189.2 310.49 L189.3 310.57 L189.4 310.35 L189.5 310.20 L189.6 310.14 L189.7 310.04 L189.8 310.10 L189.9 310.17 L190.0 309.76 L190.1 309.54 L190.2 309.58 L190.3 309.59 L190.4 309.28 L190.5 309.11 L190.6 308.86 L190.7 308.66 L190.8 308.70 L190.9 308.69 L191.0 308.57 L191.1 308.20 L191.2 307.95 L191.3 308.14 L191.4 307.94 L191.5 307.73 L191.6 307.72 L191.7 307.67 L191.8 307.51 L191.9 307.22 L192.0 307.45 L192.1 307.34 L192.2 307.11 L192.3 307.24 L192.4 307.41 L192.5 307.57 L192.6 307.49 L192.7 307.79 L192.8 307.88 L192.9 307.85 L193.0 308.26 L193.1 308.48 L193.2 308.70 L193.3 308.78 L193.4 308.70 L193.5 309.02 L193.6 309.29 L193.7 309.31 L193.8 309.57 L193.9 309.77 L194.0 309.66 L194.1 309.94 L194.2 310.10 L194.3 310.16 L194.4 309.87 L194.5 309.98 L194.6 310.18 L194.7 310.29 L194.8 310.43 L194.9 310.46 L195.0 310.28 L195.1 310.59 L195.2 310.54 L195.3 310.70 L195.4 310.47 L195.5 310.76 L195.6 310.67 L195.7 310.75 L195.8 310.77 L195.9 310.85 L196.0 310.65 L196.1 310.45 L196.5 310.55 L197.0 310.49 L197.5 310.64 L198.0 310.82 L198.5 310.67 L199.0 310.52 L199.5 310.41 L200.0 310.55 L200.5 310.67 L201.0 310.46 L201.5 310.68 L202.0 310.54 L202.5 310.45 L203.0 310.79 L203.5 310.72 L204.0 310.86 L204.5 310.73 L205.0 310.50 L205.5 310.46 L206.0 310.53 L206.5 310.64 L207.0 310.73 L207.5 310.73 L208.0 310.67 L208.5 310.44 L209.0 310.41 L209.4 310.32 L209.5 310.34 L209.6 310.23 L209.7 310.30 L209.8 310.26 L209.9 310.03 L210.0 310.28 L210.1 310.22 L210.2 310.26 L210.3 310.20 L210.4 310.12 L210.5 310.16 L210.6 309.82 L210.7 309.64 L210.8 309.31 L210.9 309.41 L211.0 309.30 L211.1 309.14 L211.2 309.16 L211.3 308.66 L211.4 308.35 L211.5 308.32 L211.6 308.18 L211.7 307.80 L211.8 307.28 L211.9 307.06 L212.0 306.98 L212.1 306.60 L212.2 306.25 L212.3 305.88 L212.4 305.66 L212.5 305.37 L212.6 305.13 L212.7 304.94 L212.8 304.66 L212.9 304.26 L213.0 303.94 L213.1 303.98 L213.2 303.93 L213.3 303.95 L213.4 303.67 L213.5 303.84 L213.6 303.99 L213.7 303.77 L213.8 303.92 L213.9 304.26 L214.0 304.32 L214.1 304.83 L214.2 304.94 L214.3 305.36 L214.4 305.54 L214.5 305.77 L214.6 306.05 L214.7 306.49 L214.8 306.94 L214.9 307.06 L215.0 307.50 L215.1 307.67 L215.2 308.04 L215.3 308.20 L215.4 308.32 L215.5 308.47 L215.6 308.61 L215.7 309.06 L215.8 309.19 L215.9 309.20 L216.0 309.63 L216.1 309.75 L216.2 309.57 L216.3 309.88 L216.4 309.98 L216.5 310.00 L216.6 310.06 L216.7 310.33 L216.8 310.19 L216.9 310.28 L217.0 310.33 L217.1 310.25 L217.2 310.23 L217.3 310.42 L217.4 310.45 L217.5 310.38 L218.0 310.45 L218.5 310.35 L219.0 310.58 L219.5 310.33 L220.0 310.53 L220.5 310.52 L221.0 310.41 L221.5 310.54 L222.0 310.59 L222.5 310.38 L223.0 310.49 L223.5 310.38 L224.0 310.63 L224.5 310.50 L225.0 310.45 L225.5 310.38 L226.0 310.28 L226.5 310.30 L227.0 310.29 L227.5 310.50 L228.0 310.67 L228.5 310.43 L229.0 310.29 L229.5 310.43 L230.0 310.27 L230.5 310.32 L230.6 310.50 L230.7 310.30 L230.8 310.45 L230.9 310.42 L231.0 310.20 L231.1 310.18 L231.2 310.32 L231.3 310.12 L231.4 310.09 L231.5 310.23 L231.6 310.36 L231.7 310.25 L231.8 310.24 L231.9 309.91 L232.0 309.89 L232.1 309.85 L232.2 310.07 L232.3 309.84 L232.4 309.90 L232.5 309.52 L232.6 309.54 L232.7 309.65 L232.8 309.57 L232.9 309.37 L233.0 309.04 L233.1 309.18 L233.2 308.76 L233.3 308.93 L233.4 308.81 L233.5 308.66 L233.6 308.43 L233.7 308.10 L233.8 307.98 L233.9 308.01 L234.0 307.95 L234.1 307.74 L234.2 307.81 L234.3 307.45 L234.4 307.41 L234.5 307.29 L234.6 307.51 L234.7 307.60 L234.8 307.70 L234.9 307.49 L235.0 307.55 L235.1 307.54 L235.2 307.85 L235.3 307.94 L235.4 307.95 L235.5 308.10 L235.6 308.47 L235.7 308.48 L235.8 308.70 L235.9 308.83 L236.0 308.89 L236.1 309.03 L236.2 309.07 L236.3 309.09 L236.4 309.30 L236.5 309.35 L236.6 309.44 L236.7 309.47 L236.8 309.86 L236.9 309.82 L237.0 309.75 L237.1 309.69 L237.2 309.78 L237.3 310.14 L237.4 310.06 L237.5 310.20 L237.6 310.07 L237.7 310.24 L237.8 310.22 L237.9 310.36 L238.0 310.32 L238.1 310.25 L238.2 310.19 L238.3 310.32 L238.4 310.48 L238.5 310.48 L238.6 310.39 L239.0 310.30 L239.5 310.54 L240.0 310.60 L240.5 310.31 L241.0 310.45 L241.5 310.53 L242.0 310.52 L242.5 310.64 L243.0 310.64 L243.5 310.35 L244.0 310.59 L244.5 310.36 L245.0 310.30 L245.5 310.55 L246.0 310.26 L246.5 310.25 L247.0 310.35 L247.5 310.22 L248.0 310.16 L248.5 310.37 L249.0 310.35 L249.5 310.40 L250.0 310.42 L250.5 310.46 L251.0 310.47 L251.5 310.43 L252.0 310.48 L252.5 310.26 L253.0 310.26 L253.5 310.16 L254.0 310.32 L254.5 310.21 L255.0 310.05 L255.5 310.08 L256.0 309.90 L256.5 309.74 L257.0 309.77 L257.5 309.64 L258.0 309.50 L258.5 309.46 L259.0 309.56 L259.5 309.70 L260.0 309.37 L260.5 309.47 L261.0 309.21 L261.5 309.23 L262.0 309.06 L262.5 308.98 L263.0 308.96 L263.5 308.69 L264.0 308.44 L264.5 308.32 L265.0 307.78 L265.5 307.42 L266.0 307.12 L266.5 306.63 L267.0 305.95 L267.5 304.62 L268.0 303.27 L268.1 302.80 L268.2 302.57 L268.3 302.28 L268.4 301.57 L268.5 301.10 L268.6 300.87 L268.7 300.16 L268.8 299.64 L268.9 299.11 L269.0 298.21 L269.1 297.62 L269.2 296.49 L269.3 295.64 L269.4 294.59 L269.5 293.56 L269.6 292.32 L269.7 290.89 L269.8 289.74 L269.9 287.93 L270.0 286.23 L270.1 284.24 L270.2 282.11 L270.3 279.62 L270.4 276.67 L270.5 273.22 L270.6 269.80 L270.7 265.49 L270.8 261.22 L270.9 255.93 L271.0 250.15 L271.1 243.81 L271.2 237.01 L271.3 229.85 L271.4 222.26 L271.5 214.49 L271.6 207.04 L271.7 200.18 L271.8 194.85 L271.9 191.40 L272.0 190.33 L272.1 191.30 L272.2 193.84 L272.3 197.27 L272.4 202.47 L272.5 208.29 L272.6 214.34 L272.7 220.83 L272.8 227.33 L272.9 233.34 L273.0 239.41 L273.1 245.21 L273.2 250.43 L273.3 255.23 L273.4 259.24 L273.5 263.38 L273.6 266.94 L273.7 270.40 L273.8 273.10 L273.9 275.87 L274.0 278.15 L274.1 280.61 L274.2 282.68 L274.3 284.21 L274.4 285.90 L274.5 287.36 L274.6 288.94 L274.7 290.28 L274.8 291.21 L274.9 292.60 L275.0 293.71 L275.1 294.41 L275.2 295.24 L275.3 295.91 L275.4 296.70 L275.5 297.30 L275.6 297.91 L275.7 298.62 L275.8 298.94 L275.9 299.41 L276.0 300.08 L276.5 301.80 L277.0 303.05 L277.5 304.41 L278.0 304.97 L278.5 305.60 L279.0 306.03 L279.5 306.34 L280.0 306.64 L280.5 306.93 L281.0 306.91 L281.5 307.13 L282.0 307.00 L282.5 306.95 L283.0 306.94 L283.5 306.87 L284.0 306.79 L284.5 306.59 L285.0 306.58 L285.5 306.25 L286.0 305.75 L286.5 305.32 L287.0 304.64 L287.5 303.61 L288.0 302.57 L288.5 301.20 L289.0 299.19 L289.3 297.78 L289.4 297.19 L289.5 296.71 L289.6 295.82 L289.7 295.23 L289.8 294.66 L289.9 293.73 L290.0 293.01 L290.1 291.78 L290.2 290.97 L290.3 289.77 L290.4 288.81 L290.5 287.50 L290.6 286.19 L290.7 284.64 L290.8 283.05 L290.9 281.64 L291.0 279.82 L291.1 277.84 L291.2 275.46 L291.3 273.14 L291.4 270.93 L291.5 267.97 L291.6 265.08 L291.7 261.99 L291.8 258.50 L291.9 254.82 L292.0 251.06 L292.1 246.86 L292.2 242.19 L292.3 237.59 L292.4 232.86 L292.5 228.19 L292.6 223.48 L292.7 218.72 L292.8 214.58 L292.9 210.70 L293.0 207.31 L293.1 204.97 L293.2 203.54 L293.3 203.15 L293.4 203.56 L293.5 204.93 L293.6 206.86 L293.7 209.26 L293.8 212.38 L293.9 215.74 L294.0 219.56 L294.1 223.75 L294.2 227.59 L294.3 231.83 L294.4 236.03 L294.5 240.12 L294.6 244.12 L294.7 247.78 L294.8 251.64 L294.9 255.29 L295.0 258.28 L295.1 261.21 L295.2 264.10 L295.3 266.99 L295.4 269.30 L295.5 271.81 L295.6 273.77 L295.7 275.90 L295.8 277.88 L295.9 279.64 L296.0 281.00 L296.1 282.82 L296.2 284.29 L296.3 285.46 L296.4 286.81 L296.5 287.89 L296.6 288.73 L296.7 289.76 L296.8 290.90 L296.9 291.69 L297.0 292.29 L297.1 293.04 L297.2 293.77 L297.3 294.63 L297.5 295.97 L298.0 298.44 L298.4 299.96 L298.5 300.53 L298.6 300.65 L298.7 301.02 L298.8 301.11 L298.9 301.44 L299.0 301.56 L299.1 301.70 L299.2 301.98 L299.3 302.09 L299.4 302.35 L299.5 302.65 L299.6 302.79 L299.7 303.01 L299.8 302.99 L299.9 302.85 L300.0 303.11 L300.1 303.06 L300.2 303.20 L300.3 303.34 L300.4 303.15 L300.5 302.91 L300.6 302.83 L300.7 302.79 L300.8 302.62 L300.9 302.37 L301.0 302.33 L301.1 302.33 L301.2 302.29 L301.3 302.15 L301.4 302.04 L301.5 301.86 L301.6 301.52 L301.7 301.41 L301.8 301.03 L301.9 301.16 L302.0 301.12 L302.1 300.88 L302.2 300.89 L302.3 300.82 L302.4 300.99 L302.5 301.08 L302.6 301.33 L302.7 301.61 L302.8 301.78 L302.9 301.82 L303.0 302.00 L303.1 302.52 L303.2 302.88 L303.3 302.89 L303.4 303.18 L303.5 303.68 L303.6 304.05 L303.7 304.17 L303.8 304.48 L303.9 305.02 L304.0 305.00 L304.1 305.25 L304.2 305.69 L304.3 306.11 L304.4 306.43 L304.5 306.46 L304.6 306.74 L304.7 307.04 L304.8 306.96 L304.9 306.99 L305.0 307.10 L305.1 307.46 L305.2 307.37 L305.3 307.59 L305.4 307.90 L305.5 307.74 L305.6 307.92 L305.7 307.98 L305.8 308.25 L305.9 308.17 L306.0 308.16 L306.1 308.38 L306.2 308.41 L306.3 308.17 L306.4 308.41 L306.5 308.32 L307.0 308.67 L307.5 308.82 L308.0 308.68 L308.5 308.59 L309.0 308.45 L309.5 308.37 L310.0 308.22 L310.5 308.00 L311.0 307.92 L311.1 307.61 L311.2 307.68 L311.3 307.63 L311.4 307.58 L311.5 307.39 L311.6 307.38 L311.7 306.95 L311.8 306.57 L311.9 306.50 L312.0 306.15 L312.1 306.14 L312.2 305.88 L312.3 305.42 L312.4 305.03 L312.5 304.30 L312.6 303.80 L312.7 303.18 L312.8 302.50 L312.9 301.80 L313.0 301.08 L313.1 300.35 L313.2 299.20 L313.3 298.38 L313.4 297.22 L313.5 296.47 L313.6 295.25 L313.7 294.05 L313.8 292.69 L313.9 291.55 L314.0 290.31 L314.1 289.12 L314.2 287.73 L314.3 286.29 L314.4 285.19 L314.5 283.85 L314.6 283.07 L314.7 282.08 L314.8 281.51 L314.9 280.77 L315.0 280.58 L315.1 280.48 L315.2 280.30 L315.3 280.60 L315.4 281.27 L315.5 281.68 L315.6 282.35 L315.7 283.23 L315.8 284.20 L315.9 284.85 L316.0 285.93 L316.1 287.04 L316.2 288.13 L316.3 289.02 L316.4 290.10 L316.5 291.33 L316.6 292.21 L316.7 293.31 L316.8 294.42 L316.9 295.55 L317.0 296.29 L317.1 297.32 L317.2 298.05 L317.3 298.80 L317.4 299.72 L317.5 300.59 L317.6 301.34 L317.7 302.15 L317.8 302.47 L317.9 303.10 L318.0 303.63 L318.1 304.02 L318.2 304.74 L318.3 304.89 L318.4 305.23 L318.5 305.47 L318.6 306.02 L318.7 306.40 L318.8 306.49 L318.9 306.99 L319.0 307.16 L319.1 307.14 L319.5 308.01 L319.6 308.18 L319.7 308.05 L319.8 308.31 L319.9 308.12 L320.0 308.19 L320.1 308.29 L320.2 308.59 L320.3 308.43 L320.4 308.43 L320.5 308.36 L320.6 308.62 L320.7 308.42 L320.8 308.65 L320.9 308.49 L321.0 308.51 L321.1 308.64 L321.2 308.38 L321.3 308.37 L321.4 308.37 L321.5 308.30 L321.6 308.14 L321.7 308.13 L321.8 307.90 L321.9 307.68 L322.0 307.46 L322.1 307.57 L322.2 307.51 L322.3 307.50 L322.4 307.12 L322.5 307.14 L322.6 306.96 L322.7 306.85 L322.8 306.88 L322.9 306.68 L323.0 306.51 L323.1 306.51 L323.2 306.24 L323.3 306.46 L323.4 306.37 L323.5 306.33 L323.6 306.28 L323.7 306.59 L323.8 306.77 L323.9 306.65 L324.0 306.61 L324.1 307.00 L324.2 306.93 L324.3 306.89 L324.4 307.09 L324.5 307.37 L324.6 307.67 L324.7 307.61 L324.8 307.82 L324.9 308.18 L325.0 308.24 L325.1 308.28 L325.2 308.64 L325.3 308.73 L325.4 308.96 L325.5 309.02 L325.6 309.27 L325.7 309.29 L325.8 309.57 L325.9 309.65 L326.0 309.69 L326.1 309.64 L326.2 309.72 L326.3 309.68 L326.4 309.57 L326.5 309.92 L326.6 310.04 L326.7 310.09 L326.8 310.17 L326.9 310.08 L327.0 310.26 L327.1 310.11 L327.2 310.30 L327.3 309.97 L327.4 310.00 L327.5 310.11 L328.0 310.32 L328.5 310.28 L329.0 310.41 L329.5 310.28 L330.0 310.39 L330.5 310.49 L331.0 310.45 L331.5 310.17 L332.0 310.35 L332.3 310.10 L332.4 310.15 L332.5 310.07 L332.6 310.33 L332.7 310.14 L332.8 310.31 L332.9 310.06 L333.0 310.02 L333.1 310.21 L333.2 310.35 L333.3 309.99 L333.4 310.08 L333.5 309.98 L333.6 310.00 L333.7 309.72 L333.8 309.54 L333.9 309.45 L334.0 309.72 L334.1 309.57 L334.2 309.49 L334.3 309.17 L334.4 309.22 L334.5 309.24 L334.6 308.83 L334.7 308.85 L334.8 308.77 L334.9 308.70 L335.0 308.37 L335.1 308.17 L335.2 307.85 L335.3 307.82 L335.4 307.49 L335.5 307.41 L335.6 307.28 L335.7 307.31 L335.8 307.15 L335.9 306.72 L336.0 306.55 L336.1 306.54 L336.2 306.54 L336.3 306.62 L336.4 306.55 L336.5 306.68 L336.6 306.73 L336.7 306.75 L336.8 306.99 L336.9 307.07 L337.0 307.45 L337.1 307.31 L337.2 307.73 L337.3 307.87 L337.4 307.96 L337.5 307.93 L337.6 308.30 L337.7 308.62 L337.8 308.63 L337.9 308.91 L338.0 309.03 L338.1 308.97 L338.2 309.38 L338.3 309.37 L338.4 309.52 L338.5 309.77 L338.6 309.97 L338.7 310.10 L338.8 309.97 L338.9 310.19 L339.0 310.00 L339.1 310.15 L339.2 310.18 L339.3 310.42 L339.4 310.47 L339.5 310.48 L339.6 310.57 L339.7 310.41 L339.8 310.42 L339.9 310.28 L340.0 310.35 L340.1 310.32 L340.2 310.56 L340.3 310.38 L340.5 310.69 L341.0 310.69 L341.5 310.64 L342.0 310.48 L342.5 310.59 L343.0 310.69 L343.5 310.54 L344.0 310.87 L344.5 310.72 L345.0 310.70 L345.5 310.63 L346.0 310.66 L346.5 310.62 L347.0 310.88 L347.5 310.62 L348.0 310.66 L348.5 310.78 L349.0 310.78 L349.5 310.70 L350.0 310.75 L350.5 310.57 L351.0 310.62 L351.5 310.69 L352.0 310.85 L352.5 310.72 L353.0 310.62 L353.1 310.70 L353.2 310.54 L353.3 310.60 L353.4 310.44 L353.5 310.56 L353.6 310.55 L353.7 310.58 L353.8 310.67 L353.9 310.64 L354.0 310.69 L354.1 310.34 L354.2 310.52 L354.3 310.32 L354.4 310.18 L354.5 310.14 L354.6 310.30 L354.7 310.34 L354.8 310.24 L354.9 309.94 L355.0 309.71 L355.1 309.63 L355.2 309.77 L355.3 309.79 L355.4 309.46 L355.5 309.28 L355.6 309.62 L355.7 309.40 L355.8 309.15 L355.9 309.21 L356.0 309.03 L356.1 309.25 L356.2 309.17 L356.3 309.15 L356.4 309.25 L356.5 308.90 L356.6 308.80 L356.7 309.01 L356.8 309.00 L356.9 308.91 L357.0 308.91 L357.1 308.94 L357.2 309.14 L357.3 309.23 L357.4 309.26 L357.5 309.33 L357.6 308.99 L357.7 308.86 L357.8 309.21 L357.9 309.11 L358.0 309.24 L358.1 309.30 L358.2 309.60 L358.3 309.50 L358.4 309.37 L358.5 309.40 L358.6 309.78 L358.7 309.91 L358.8 309.70 L358.9 310.04 L359.0 309.93 L359.1 310.10 L359.2 310.12 L359.3 310.30 L359.4 310.23 L359.5 310.03 L359.6 310.23 L359.7 310.47 L359.8 310.38 L359.9 310.57 L360.0 310.49 L360.1 310.44 L360.2 310.45 L360.3 310.41 L360.4 310.54 L360.5 310.82 L360.6 310.76 L360.7 310.83 L360.8 310.61 L360.9 310.63 L361.0 310.74 L361.5 310.76 L362.0 310.61 L362.5 310.96 L363.0 310.76 L363.5 310.93 L364.0 311.15 L364.5 310.92 L365.0 310.83 L365.5 310.83 L366.0 310.93 L366.5 311.17 L367.0 310.88 L367.5 310.83 L368.0 311.11 L368.5 310.93 L369.0 311.04 L369.5 311.11 L370.0 310.81 L370.5 310.72 L371.0 311.03 L371.5 311.21 L372.0 311.17 L372.5 311.06 L373.0 310.85 L373.5 310.98 L374.0 310.84 L374.5 310.89 L375.0 310.77 L375.5 310.95 L376.0 311.00 L376.5 310.93 L377.0 310.88 L377.5 310.80 L378.0 310.75 L378.5 310.78 L379.0 311.18 L379.5 310.90 L380.0 311.11 L380.5 311.06 L381.0 311.11 L381.5 311.00 L382.0 311.27 L382.5 311.29 L383.0 311.11 L383.5 311.07 L384.0 311.27 L384.5 311.00 L385.0 311.23 L385.5 311.20 L386.0 311.16 L386.5 311.14 L387.0 311.15 L387.5 310.93 L388.0 310.93 L388.5 310.97 L389.0 310.93 L389.5 310.85 L390.0 311.11 L390.5 311.06 L391.0 311.19 L391.5 311.07 L392.0 311.26 L392.5 310.99 L393.0 310.98 L393.1 310.94 L393.2 311.09 L393.3 310.83 L393.4 310.91 L393.5 310.89 L393.6 310.94 L393.7 310.77 L393.8 310.83 L393.9 311.04 L394.0 310.69 L394.1 310.94 L394.2 311.01 L394.3 310.77 L394.4 310.50 L394.5 310.57 L394.6 310.78 L394.7 310.39 L394.8 310.56 L394.9 310.61 L395.0 310.29 L395.1 310.37 L395.2 310.16 L395.3 310.03 L395.4 310.14 L395.5 310.05 L395.6 310.15 L395.7 310.09 L395.8 309.90 L395.9 310.12 L396.0 309.75 L396.1 309.96 L396.2 309.77 L396.3 309.96 L396.4 309.87 L396.5 309.76 L396.6 309.59 L396.7 309.81 L396.8 309.89 L396.9 309.95 L397.0 309.67 L397.1 309.92 L397.2 309.95 L397.3 309.87 L397.4 309.70 L397.5 309.79 L397.6 309.72 L397.7 309.93 L397.8 309.91 L397.9 310.08 L398.0 310.18 L398.1 310.18 L398.2 309.96 L398.3 309.98 L398.4 309.91 L398.5 310.03 L398.6 310.02 L398.7 310.12 L398.8 310.41 L398.9 310.24 L399.0 310.57 L399.1 310.72 L399.2 310.73 L399.3 310.52 L399.4 310.50 L399.5 310.59 L399.6 310.72 L399.7 310.93 L399.8 310.62 L399.9 310.56 L400.0 310.89 L400.1 310.66 L400.2 310.99 L400.3 310.80 L400.4 311.11 L400.5 311.00 L400.6 311.04 L400.7 311.16 L400.8 311.21 L400.9 311.05 L401.0 311.03 L401.5 311.22 L402.0 311.05 L402.5 311.03 L403.0 311.28 L403.5 311.38 L404.0 311.39 L404.5 311.18 L405.0 311.11 L405.5 310.98 L406.0 311.27 L406.5 311.02 L407.0 310.99 L407.5 310.91 L408.0 311.08 L408.5 311.39 L409.0 311.08 L409.5 311.05 L410.0 311.05 L410.5 311.25 L411.0 311.16 L411.5 311.05 L412.0 311.24 L412.5 311.41 L413.0 311.13 L413.5 310.98 L414.0 311.09 L414.5 311.36 L415.0 311.06 L415.5 310.99 L416.0 311.19 L416.5 311.30 L417.0 311.20 L417.5 310.97 L418.0 311.10 L418.5 310.93 L419.0 310.83 L419.5 310.75 L419.8 311.09 L419.9 310.83 L420.0 310.89 L420.1 311.05 L420.2 310.80 L420.3 310.77 L420.4 310.92 L420.5 310.83 L420.6 310.59 L420.7 310.62 L420.8 310.79 L420.9 310.71 L421.0 310.68 L421.1 310.17 L421.2 309.92 L421.3 309.94 L421.4 309.63 L421.5 309.83 L421.6 309.48 L421.7 309.34 L421.8 309.29 L421.9 308.91 L422.0 308.76 L422.1 308.26 L422.2 308.03 L422.3 307.88 L422.4 307.52 L422.5 307.05 L422.6 306.99 L422.7 306.54 L422.8 306.43 L422.9 305.92 L423.0 305.79 L423.1 305.25 L423.2 305.15 L423.3 305.10 L423.4 304.82 L423.5 304.53 L423.6 304.63 L423.7 304.62 L423.8 304.31 L423.9 304.29 L424.0 304.21 L424.1 304.51 L424.2 304.51 L424.3 304.62 L424.4 305.05 L424.5 305.55 L424.6 305.61 L424.7 306.08 L424.8 306.51 L424.9 306.86 L425.0 306.80 L425.1 307.01 L425.2 307.65 L425.3 308.08 L425.4 308.05 L425.5 308.22 L425.6 308.69 L425.7 308.73 L425.8 308.89 L425.9 309.11 L426.0 309.50 L426.1 309.66 L426.2 310.03 L426.3 309.94 L426.4 310.33 L426.5 310.49 L426.6 310.42 L426.7 310.56 L426.8 310.69 L426.9 310.53 L427.0 310.88 L427.1 310.82 L427.2 310.86 L427.3 311.05 L427.4 310.76 L427.5 310.79 L427.6 310.71 L427.7 311.02 L427.8 310.91 L428.0 311.12 L428.5 311.25 L429.0 311.43 L429.5 311.14 L430.0 311.16 L430.5 311.34 L431.0 311.26 L431.5 311.12 L432.0 311.30 L432.5 311.42 L433.0 311.31 L433.5 311.25 L434.0 311.11 L434.5 311.19 L435.0 311.42 L435.5 311.28 L436.0 311.50 L436.5 311.31 L437.0 311.29 L437.5 311.42 L438.0 311.53 L438.5 311.53 L439.0 311.33 L439.5 311.27 L440.0 311.09 L440.5 311.19 L441.0 311.32 L441.3 311.06 L441.4 311.02 L441.5 310.88 L441.6 311.00 L441.7 311.03 L441.8 311.25 L441.9 311.16 L442.0 311.22 L442.1 310.88 L442.2 310.83 L442.3 310.90 L442.4 310.59 L442.5 310.66 L442.6 310.65 L442.7 310.31 L442.8 310.19 L442.9 310.34 L443.0 310.02 L443.1 310.02 L443.2 309.82 L443.3 309.62 L443.4 309.65 L443.5 309.31 L443.6 309.27 L443.7 309.09 L443.8 308.75 L443.9 308.27 L444.0 308.05 L444.1 308.09 L444.2 307.63 L444.3 307.46 L444.4 307.06 L444.5 307.02 L444.6 306.85 L444.7 306.75 L444.8 306.48 L444.9 306.07 L445.0 306.16 L445.1 306.05 L445.2 306.15 L445.3 305.91 L445.4 305.88 L445.5 305.94 L445.6 306.09 L445.7 306.30 L445.8 306.46 L445.9 306.74 L446.0 306.83 L446.1 306.86 L446.2 307.33 L446.3 307.58 L446.4 307.58 L446.5 307.88 L446.6 308.33 L446.7 308.52 L446.8 308.53 L446.9 309.01 L447.0 309.26 L447.1 309.24 L447.2 309.58 L447.3 309.89 L447.4 309.97 L447.5 310.27 L447.6 310.28 L447.7 310.12 L447.8 310.43 L447.9 310.68 L448.0 310.87 L448.1 310.91 L448.2 311.06 L448.3 311.09 L448.4 310.98 L448.5 310.79 L448.6 310.80 L448.7 310.77 L448.8 311.18 L448.9 311.29 L449.0 311.38 L449.1 311.37 L449.2 311.23 L449.3 311.25 L449.5 311.03 L450.0 311.05 L450.5 311.18 L451.0 311.08 L451.5 311.18 L452.0 311.31 L452.5 311.20 L453.0 311.18 L453.5 311.13 L454.0 311.29 L454.5 311.52 L455.0 311.43 L455.5 311.51 L456.0 311.55 L456.5 311.61 L457.0 311.62 L457.5 311.50 L458.0 311.24 L458.5 311.21 L459.0 311.25 L459.5 311.29 L460.0 311.42 L460.5 311.41 L461.0 311.31 L461.5 311.21 L462.0 311.41 L462.5 311.56 L463.0 311.41 L463.1 311.12 L463.2 311.25 L463.3 311.32 L463.4 311.21 L463.5 311.19 L463.6 311.27 L463.7 311.09 L463.8 311.11 L463.9 310.84 L464.0 311.02 L464.1 310.93 L464.2 310.69 L464.3 310.76 L464.4 310.84 L464.5 310.65 L464.6 310.48 L464.7 310.56 L464.8 310.66 L464.9 310.64 L465.0 310.28 L465.1 310.18 L465.2 310.04 L465.3 309.83 L465.4 309.89 L465.5 309.74 L465.6 309.72 L465.7 309.81 L465.8 309.67 L465.9 309.77 L466.0 309.40 L466.1 309.21 L466.2 309.05 L466.3 309.25 L466.4 309.09 L466.5 308.98 L466.6 309.10 L466.7 309.29 L466.8 309.23 L466.9 309.30 L467.0 309.02 L467.1 309.14 L467.2 308.96 L467.3 309.16 L467.4 309.00 L467.5 308.91 L467.6 309.06 L467.7 309.31 L467.8 309.40 L467.9 309.37 L468.0 309.28 L468.1 309.32 L468.2 309.59 L468.3 309.68 L468.4 309.80 L468.5 309.98 L468.6 310.02 L468.7 310.23 L468.8 310.38 L468.9 310.30 L469.0 310.25 L469.1 310.35 L469.2 310.32 L469.3 310.32 L469.4 310.62 L469.5 310.64 L469.6 310.49 L469.7 310.65 L469.8 310.71 L469.9 310.64 L470.0 310.64 L470.1 310.93 L470.2 311.15 L470.3 311.27 L470.4 311.22 L470.5 311.06 L470.6 311.21 L470.7 311.12 L470.8 311.08 L470.9 311.13 L471.0 311.07 L471.5 311.12 L472.0 311.56 L472.5 311.31 L473.0 311.64 L473.5 311.64 L474.0 311.66 L474.5 311.39 L475.0 311.56 L475.5 311.41 L476.0 311.49 L476.5 311.51" stroke="#e81d25"/>
<path d="M500.5 312.54 L501.0 312.23 L501.5 312.06 L502.0 312.43 L502.5 312.19 L503.0 312.06 L503.5 312.25 L504.0 312.17 L504.5 312.38 L505.0 312.15 L505.5 312.39 L506.0 312.17 L506.5 312.22 L507.0 312.38 L507.5 312.31 L508.0 312.39 L508.5 312.31 L509.0 311.97 L509.5 312.23 L510.0 312.17 L510.5 312.02 L511.0 311.90 L511.5 312.15 L512.0 312.11 L512.5 312.25 L513.0 312.22 L513.5 312.28 L514.0 312.11 L514.5 312.11 L515.0 312.06 L515.5 311.87 L516.0 312.12 L516.5 311.90 L517.0 312.03 L517.5 312.15 L518.0 312.04 L518.5 311.76 L519.0 311.97 L519.5 311.96 L520.0 311.73 L520.5 311.58 L521.0 311.74 L521.5 311.56 L522.0 311.89 L522.5 311.81 L523.0 311.78 L523.5 311.71 L524.0 311.79 L524.5 311.93 L525.0 311.69 L525.5 311.63 L526.0 311.69 L526.5 311.58 L527.0 311.67 L527.5 311.66 L528.0 311.60 L528.5 311.68 L529.0 311.64 L529.5 311.41 L530.0 311.74 L530.5 311.55 L531.0 311.52 L531.5 311.48 L532.0 311.70 L532.5 311.78 L533.0 311.60 L533.5 311.47 L534.0 311.28 L534.5 311.57 L535.0 311.34 L535.5 311.42 L536.0 311.35 L536.5 311.30 L537.0 311.29 L537.5 311.21 L538.0 311.10 L538.5 311.28 L539.0 311.45 L539.5 311.43 L540.0 311.22 L540.5 311.36 L541.0 311.11 L541.5 311.17 L542.0 311.38 L542.5 311.48 L543.0 311.30 L543.5 311.41 L544.0 311.28 L544.5 311.23 L545.0 311.24 L545.5 311.42 L546.0 311.36 L546.5 311.21 L547.0 311.26 L547.5 311.23 L548.0 311.08 L548.5 311.22 L549.0 311.27 L549.5 311.19 L550.0 311.30 L550.5 310.91 L551.0 310.99 L551.5 311.07 L552.0 310.95 L552.5 310.82 L553.0 311.01 L553.5 310.95 L554.0 310.84 L554.5 310.69 L555.0 311.06 L555.5 310.89 L556.0 310.72 L556.5 310.70 L557.0 310.70 L557.5 310.97 L558.0 310.74 L558.5 310.70 L559.0 310.59 L559.5 310.72 L560.0 310.63 L560.5 310.66 L561.0 310.84 L561.5 310.98 L562.0 310.97 L562.5 310.60 L563.0 310.62 L563.5 310.83 L564.0 310.53 L564.5 310.49 L565.0 310.60 L565.5 310.58 L566.0 310.73 L566.5 310.76 L567.0 310.65 L567.5 310.50 L568.0 310.43 L568.5 310.42 L569.0 310.31 L569.5 310.54 L570.0 310.38 L570.5 310.65 L571.0 310.62 L571.5 310.33 L572.0 310.43 L572.5 310.50 L573.0 310.26 L573.5 310.37 L574.0 310.19 L574.5 310.46 L575.0 310.19 L575.5 310.38 L576.0 310.59 L576.5 310.60 L577.0 310.31 L577.5 310.34 L578.0 310.16 L578.5 310.18 L579.0 310.42 L579.5 310.47 L580.0 310.11 L580.5 310.16 L581.0 310.30 L581.5 310.13 L582.0 310.36 L582.5 310.48 L583.0 310.36 L583.5 310.22 L584.0 310.38 L584.5 310.26 L585.0 310.03 L585.5 309.91 L586.0 309.69 L586.5 309.73 L587.0 309.29 L587.5 308.76 L588.0 307.96 L588.5 306.79 L589.0 304.70 L589.5 302.29 L590.0 299.34 L590.5 295.31 L591.0 290.11 L591.5 284.08 L592.0 276.75 L592.5 268.53 L593.0 259.47 L593.5 250.00 L594.0 240.06 L594.5 230.29 L595.0 221.07 L595.5 212.11 L596.0 204.65 L596.5 198.69 L597.0 194.09 L597.5 191.15 L598.0 189.92 L598.3 189.61 L598.5 190.08 L599.0 192.15 L599.5 195.49 L600.0 199.69 L600.5 204.19 L601.0 209.36 L601.5 214.95 L602.0 220.84 L602.5 226.86 L603.0 232.64 L603.5 238.01 L604.0 243.41 L604.5 248.61 L605.0 253.32 L605.5 258.14 L606.0 262.50 L606.5 266.39 L607.0 270.10 L607.5 273.41 L608.0 276.35 L608.5 278.88 L609.0 281.20 L609.5 283.26 L610.0 285.00 L610.5 286.94 L611.0 288.12 L611.5 289.09 L612.0 290.15 L612.5 290.95 L613.0 291.87 L613.5 292.63 L614.0 293.34 L614.5 294.37 L615.0 295.19 L615.5 296.07 L616.0 297.18 L616.5 297.95 L617.0 298.92 L617.5 300.00 L618.0 300.98 L618.5 301.60 L619.0 302.17 L619.5 303.25 L620.0 303.87 L620.5 304.35 L621.0 304.83 L621.5 305.37 L622.0 305.87 L622.5 306.22 L623.0 306.51 L623.5 307.24 L624.0 307.57 L624.5 307.51 L625.0 307.77 L625.5 308.12 L626.0 308.19 L626.5 308.10 L627.0 308.26 L627.5 308.40 L628.0 308.74 L628.5 308.76 L629.0 308.76 L629.5 308.87 L630.0 308.69 L630.5 308.95 L631.0 309.13 L631.5 309.16 L632.0 309.06 L632.5 309.01 L633.0 308.90 L633.5 308.92 L634.0 308.98 L634.5 309.16 L635.0 309.39 L635.5 309.24 L636.0 309.32 L636.5 309.44 L637.0 309.50 L637.5 309.26 L638.0 309.60 L638.5 309.58 L639.0 309.46 L639.5 309.41 L640.0 309.61 L640.5 309.80 L641.0 309.61 L641.5 309.58 L642.0 309.66 L642.5 309.52 L643.0 309.59 L643.5 309.86 L644.0 309.80 L644.5 309.91 L645.0 309.70 L645.5 309.92 L646.0 309.96 L646.5 309.73 L647.0 309.80 L647.5 309.90 L648.0 309.90 L648.5 309.92 L649.0 309.77 L649.5 309.86 L650.0 309.82 L650.5 310.01 L651.0 309.89 L651.5 310.13 L652.0 310.04 L652.5 309.85 L653.0 309.88 L653.5 309.76 L654.0 310.01 L654.5 309.78 L655.0 309.97 L655.5 309.90 L656.0 310.10 L656.5 309.87 L657.0 310.05 L657.5 310.14 L658.0 309.95 L658.5 309.85 L659.0 309.92 L659.5 310.08 L660.0 309.96 L660.5 309.81 L661.0 309.96 L661.5 310.18 L662.0 309.97 L662.5 310.26 L663.0 310.16 L663.5 309.98 L664.0 309.89 L664.5 309.98 L665.0 310.07 L665.5 309.97 L666.0 309.89 L666.5 310.06 L667.0 310.01 L667.5 310.08 L668.0 310.11 L668.5 310.24 L669.0 310.23 L669.5 310.07 L670.0 310.00 L670.5 310.28 L671.0 310.02 L671.5 309.96 L672.0 309.92 L672.5 310.26 L673.0 310.24 L673.5 310.42 L674.0 310.35 L674.5 310.19 L675.0 310.18 L675.5 310.32 L676.0 310.14 L676.5 310.34 L677.0 310.24 L677.5 310.03 L678.0 310.10 L678.5 310.23 L679.0 310.09 L679.5 310.38 L680.0 310.50 L680.5 310.35 L681.0 310.48 L681.5 310.43 L682.0 310.35 L682.5 310.15 L683.0 310.44 L683.5 310.53 L684.0 310.35 L684.5 310.26 L685.0 310.09 L685.5 310.28 L686.0 310.46 L686.5 310.31 L687.0 310.21 L687.5 310.33 L688.0 310.45 L688.5 310.21 L689.0 310.18 L689.5 310.34 L690.0 310.12 L690.5 310.40 L691.0 310.27 L691.5 310.46 L692.0 310.36 L692.5 310.19 L693.0 310.07 L693.5 310.07 L694.0 310.14 L694.5 310.39 L695.0 310.50 L695.5 310.46 L696.0 310.31 L696.5 310.41 L697.0 310.49 L697.5 310.35 L698.0 310.17 L698.5 310.28 L699.0 310.21 L699.5 310.17 L700.0 310.25 L700.5 310.14 L701.0 310.48 L701.5 310.31 L702.0 310.54 L702.5 310.55 L703.0 310.22 L703.5 310.51 L704.0 310.57 L704.5 310.47 L705.0 310.60 L705.5 310.46 L706.0 310.20 L706.5 310.17 L707.0 310.24 L707.5 310.51 L708.0 310.59 L708.5 310.30 L709.0 310.30 L709.5 310.20 L710.0 310.22 L710.5 310.28 L711.0 310.33 L711.5 310.23 L712.0 310.43 L712.5 310.31 L713.0 310.56 L713.5 310.47 L714.0 310.41 L714.5 310.54 L715.0 310.40 L715.5 310.31 L716.0 310.22 L716.5 310.27 L717.0 310.26 L717.5 310.48 L718.0 310.39 L718.5 310.52 L719.0 310.37 L719.5 310.23 L720.0 310.28 L720.5 310.34 L721.0 310.60 L721.5 310.37 L722.0 310.29 L722.5 310.24 L723.0 310.27 L723.5 310.60 L724.0 310.71 L724.5 310.43 L725.0 310.25 L725.5 310.38 L726.0 310.48 L726.5 310.30 L727.0 310.37 L727.5 310.56 L728.0 310.28 L728.5 310.51 L729.0 310.57 L729.5 310.64 L730.0 310.53 L730.5 310.48 L731.0 310.49 L731.5 310.32 L732.0 310.44 L732.5 310.35 L733.0 310.36 L733.5 310.24 L734.0 310.25 L734.5 310.21 L735.0 310.41 L735.5 310.35 L736.0 310.47 L736.5 310.49 L737.0 310.38 L737.5 310.29 L738.0 310.47 L738.5 310.57 L739.0 310.62 L739.5 310.55 L740.0 310.56 L740.5 310.31 L741.0 310.35 L741.5 310.59 L742.0 310.49 L742.5 310.33 L743.0 310.41 L743.5 310.63 L744.0 310.38 L744.5 310.29 L745.0 310.44 L745.5 310.66 L746.0 310.52 L746.5 310.41 L747.0 310.61 L747.5 310.37 L748.0 310.38 L748.5 310.52 L749.0 310.69 L749.5 310.75 L750.0 310.53 L750.5 310.43 L751.0 310.44 L751.5 310.33 L752.0 310.36 L752.5 310.60 L753.0 310.78 L753.5 310.52 L754.0 310.34 L754.5 310.58 L755.0 310.77 L755.5 310.76 L756.0 310.58 L756.5 310.67 L757.0 310.71 L757.5 310.72 L758.0 310.61 L758.5 310.80 L759.0 310.77 L759.5 310.51 L760.0 310.51 L760.5 310.36 L761.0 310.43 L761.5 310.66 L762.0 310.59 L762.5 310.58 L763.0 310.70 L763.5 310.42 L764.0 310.45 L764.5 310.52 L765.0 310.55 L765.5 310.65 L766.0 310.80 L766.5 310.79 L767.0 310.67 L767.5 310.69 L768.0 310.63 L768.5 310.82 L769.0 310.71 L769.5 310.67 L770.0 310.56 L770.5 310.54 L771.0 310.69 L771.5 310.56 L772.0 310.76 L772.5 310.75 L773.0 310.85 L773.5 310.77 L774.0 310.68 L774.5 310.56 L775.0 310.36 L775.5 310.58 L776.0 310.70 L776.5 310.73 L777.0 310.76 L777.5 310.44 L778.0 310.63 L778.5 310.51 L779.0 310.52 L779.5 310.74 L780.0 310.60 L780.5 310.59 L781.0 310.39 L781.5 310.38 L782.0 310.40 L782.5 310.40 L783.0 310.54 L783.5 310.38 L784.0 310.34 L784.5 310.33 L785.0 310.62 L785.5 310.83 L786.0 310.80 L786.5 310.68 L787.0 310.47 L787.5 310.69 L788.0 310.47 L788.5 310.37 L789.0 310.54 L789.5 310.75 L790.0 310.58 L790.5 310.77 L791.0 310.60 L791.5 310.82 L792.0 310.80 L792.5 310.85 L793.0 310.92 L793.5 310.87 L794.0 310.57 L794.5 310.61 L795.0 310.64 L795.5 310.73 L796.0 310.54 L796.5 310.63 L797.0 310.53 L797.5 310.45 L798.0 310.55 L798.5 310.74 L799.0 310.69 L799.5 310.59 L800.0 310.49 L800.5 310.52 L801.0 310.55 L801.5 310.50 L802.0 310.50 L802.5 310.47 L803.0 310.48 L803.5 310.66 L804.0 310.70 L804.5 310.72 L805.0 310.86 L805.5 310.79 L806.0 310.53 L806.5 310.56 L807.0 310.62 L807.5 310.75 L808.0 310.69 L808.5 310.48 L809.0 310.57 L809.5 310.69 L810.0 310.79 L810.5 310.67 L811.0 310.53 L811.5 310.39 L812.0 310.56 L812.5 310.73 L813.0 310.50 L813.5 310.61 L814.0 310.68 L814.5 310.69 L815.0 310.54 L815.5 310.43 L816.0 310.35 L816.5 310.46 L817.0 310.76 L817.5 310.65 L818.0 310.87 L818.5 310.88 L819.0 310.77 L819.5 310.66 L820.0 310.68 L820.5 310.82 L821.0 310.63 L821.5 310.49 L822.0 310.78 L822.5 310.75 L823.0 310.63 L823.5 310.60 L824.0 310.45 L824.5 310.61 L825.0 310.77 L825.5 310.69 L826.0 310.75 L826.5 310.79 L827.0 310.62 L827.5 310.70 L828.0 310.88 L828.5 310.83 L829.0 310.56 L829.5 310.69 L830.0 310.72 L830.5 310.80 L831.0 310.79 L831.5 310.88 L832.0 310.94 L832.5 310.61 L833.0 310.62 L833.5 310.42 L834.0 310.78 L834.5 310.50 L835.0 310.55 L835.5 310.65 L836.0 310.60 L836.5 310.46 L837.0 310.57 L837.5 310.47 L838.0 310.56 L838.5 310.69 L839.0 310.54 L839.5 310.56 L840.0 310.65 L840.5 310.63 L841.0 310.74 L841.5 310.82 L842.0 310.88 L842.5 310.53 L843.0 310.55 L843.5 310.39 L844.0 310.59 L844.5 310.52 L845.0 310.69 L845.5 310.58 L846.0 310.68 L846.5 310.36 L847.0 310.51 L847.5 310.46 L848.0 310.63 L848.5 310.35 L849.0 310.24 L849.5 310.46 L850.0 310.36 L850.5 310.37 L851.0 310.35 L851.5 310.59 L852.0 310.50 L852.5 310.54 L853.0 310.55 L853.5 310.54 L854.0 310.33 L854.5 310.16 L855.0 310.18 L855.5 310.33 L856.0 310.35 L856.5 310.14 L857.0 310.23 L857.5 310.15 L858.0 309.75 L858.5 309.83 L859.0 309.87 L859.5 309.47 L860.0 309.41 L860.5 309.43 L861.0 309.27 L861.5 309.10 L862.0 308.62 L862.5 307.93 L863.0 306.29 L863.5 301.87 L864.0 294.44 L864.5 284.36 L865.0 273.07 L865.5 262.86 L866.0 254.92 L866.5 249.70 L867.0 246.55 L867.5 244.59 L868.0 243.86 L868.5 243.69 L868.8 243.55 L869.0 243.75 L869.5 244.58 L870.0 245.96 L870.5 247.77 L871.0 250.03 L871.5 252.54 L872.0 255.20 L872.5 257.60 L873.0 260.61 L873.5 263.44 L874.0 266.29 L874.5 269.10 L875.0 272.30 L875.5 275.20 L876.0 277.77 L876.5 280.30 L877.0 282.62 L877.5 285.25 L878.0 287.48 L878.5 289.31 L879.0 291.35 L879.5 293.39 L880.0 294.81 L880.5 296.33 L881.0 297.74 L881.5 299.04 L882.0 300.12 L882.5 301.40 L883.0 302.29 L883.5 303.34 L884.0 304.11 L884.5 304.99 L885.0 305.65 L885.5 306.28 L886.0 306.50 L886.5 307.15 L887.0 307.62 L887.5 307.78 L888.0 307.91 L888.5 308.17 L889.0 308.72 L889.5 309.13 L890.0 308.99 L890.5 309.12 L891.0 309.33 L891.5 309.34 L892.0 309.67 L892.5 309.95 L893.0 310.10 L893.5 309.90 L894.0 310.21 L894.5 310.30 L895.0 310.08 L895.5 310.36 L896.0 310.52 L896.5 310.58 L897.0 310.56 L897.5 310.61 L898.0 310.52 L898.5 310.27 L899.0 310.50 L899.5 310.52 L900.0 310.38 L900.5 310.34 L901.0 310.68 L901.5 310.82 L902.0 310.50 L902.5 310.38 L903.0 310.66 L903.5 310.58 L904.0 310.83 L904.5 310.74 L905.0 310.83 L905.5 310.57 L906.0 310.82 L906.5 310.66 L907.0 310.71 L907.5 310.76 L908.0 310.72 L908.5 310.67 L909.0 310.76 L909.5 310.61 L910.0 310.62 L910.5 310.61 L911.0 310.95 L911.5 310.83 L912.0 311.10 L912.5 311.16 L913.0 310.85 L913.5 311.07 L914.0 311.21 L914.5 311.02 L915.0 310.97 L915.5 311.05 L916.0 311.00 L916.5 310.88 L917.0 311.06 L917.5 310.90 L918.0 310.92 L918.5 310.77 L919.0 310.86 L919.5 311.11 L920.0 310.90 L920.5 310.86 L921.0 310.94 L921.5 310.93 L922.0 310.80 L922.5 310.78 L923.0 310.84 L923.5 311.14 L924.0 311.24 L924.5 311.30 L925.0 311.27 L925.5 311.40 L926.0 311.11 L926.5 311.22 L927.0 311.15 L927.5 311.36 L928.0 311.20 L928.5 311.28 L929.0 311.33 L929.5 311.44 L930.0 311.39 L930.5 311.18 L931.0 311.26 L931.5 311.35 L932.0 311.46 L932.5 311.18 L933.0 311.31 L933.5 311.35 L934.0 311.12 L934.5 311.02 L935.0 311.19 L935.5 311.27 L936.0 311.18 L936.5 311.28 L937.0 311.11 L937.5 311.25 L938.0 311.28 L938.5 311.43 L939.0 311.44 L939.5 311.15 L940.0 311.27 L940.5 311.12 L941.0 311.25 L941.5 311.37 L942.0 311.43 L942.5 311.14 L943.0 311.27 L943.5 311.16 L944.0 311.28 L944.5 311.32 L945.0 311.33 L945.5 311.46 L946.0 311.30 L946.5 311.33 L947.0 311.24 L947.5 311.19 L948.0 311.37 L948.5 311.22 L949.0 311.47 L949.5 311.36 L950.0 311.21 L950.5 311.46 L951.0 311.21 L951.5 311.25 L952.0 311.43 L952.5 311.20 L953.0 311.44 L953.5 311.46 L954.0 311.66 L954.5 311.43 L955.0 311.59 L955.5 311.72 L956.0 311.54 L956.5 311.30 L957.0 311.33 L957.5 311.56 L958.0 311.28 L958.5 311.47 L959.0 311.49 L959.5 311.59 L960.0 311.47 L960.5 311.68 L961.0 311.39 L961.5 311.43 L962.0 311.39 L962.5 311.50 L963.0 311.38 L963.5 311.42 L964.0 311.47 L964.5 311.70 L965.0 311.38 L965.5 311.38 L966.0 311.33 L966.5 311.57 L967.0 311.68 L967.5 311.38 L968.0 311.63 L968.5 311.76 L969.0 311.62 L969.5 311.63 L970.0 311.73 L970.5 311.83 L971.0 311.55 L971.5 311.67 L972.0 311.43 L972.5 311.48 L973.0 311.75 L973.5 311.72 L974.0 311.66 L974.5 311.61 L975.0 311.60 L975.5 311.40 L976.0 311.58 L976.5 311.82 L977.0 311.53 L977.5 311.39 L978.0 311.61 L978.5 311.79 L979.0 311.67 L979.5 311.47 L980.0 311.66 L980.5 311.74 L981.0 311.57 L981.5 311.78 L982.0 311.74 L982.5 311.83 L983.0 311.62 L983.5 311.61 L984.0 311.74 L984.5 311.79 L985.0 311.89 L985.5 311.98 L986.0 311.91 L986.5 311.56 L987.0 311.65 L987.5 311.78 L988.0 311.87 L988.5 311.70 L989.0 311.53 L989.5 311.70" stroke="#e81d25"/>
<path d="M33.0 616.39 L33.5 616.21 L34.0 616.09 L34.5 616.73 L35.0 616.64 L35.5 616.72 L36.0 616.62 L36.5 616.43 L37.0 616.68 L37.5 616.62 L38.0 616.79 L38.5 616.74 L39.0 616.88 L39.5 616.57 L40.0 616.20 L40.5 616.06 L41.0 616.54 L41.5 616.20 L42.0 616.52 L42.5 616.60 L43.0 616.12 L43.5 616.61 L44.0 616.10 L44.5 616.68 L45.0 616.86 L45.5 616.35 L46.0 616.64 L46.5 616.74 L47.0 616.23 L47.5 616.54 L48.0 616.15 L48.5 616.74 L49.0 616.73 L49.5 617.00 L50.0 616.25 L50.5 616.22 L51.0 616.49 L51.5 616.57 L52.0 616.21 L52.5 616.73 L53.0 616.87 L53.5 616.43 L54.0 616.13 L54.5 616.50 L55.0 616.39 L55.5 616.58 L56.0 616.50 L56.5 616.38 L57.0 615.99 L57.5 615.96 L58.0 616.25 L58.5 616.59 L59.0 616.43 L59.5 616.67 L60.0 616.57 L60.5 616.84 L61.0 616.73 L61.5 616.39 L62.0 616.10 L62.5 615.93 L63.0 615.85 L63.5 616.57 L64.0 616.83 L64.5 616.81 L65.0 616.22 L65.5 616.51 L66.0 616.13 L66.5 616.69 L67.0 616.67 L67.5 616.75 L68.0 616.65 L68.5 616.44 L69.0 616.76 L69.5 616.97 L70.0 616.39 L70.5 616.36 L71.0 616.62 L71.5 616.67 L72.0 616.43 L72.5 616.39 L73.0 616.84 L73.5 616.37 L74.0 616.15 L74.5 616.50 L75.0 616.25 L75.5 616.73 L76.0 616.38 L76.5 616.80 L77.0 616.45 L77.5 616.79 L78.0 616.78 L78.5 616.76 L79.0 616.28 L79.5 616.07 L80.0 615.87 L80.5 615.94 L81.0 616.40 L81.5 616.02 L82.0 616.04 L82.5 616.35 L83.0 616.08 L83.5 616.14 L84.0 616.07 L84.5 616.46 L85.0 616.08 L85.5 616.75 L86.0 616.62 L86.5 616.68 L87.0 616.55 L87.5 616.46 L88.0 616.86 L88.5 616.93 L89.0 616.88 L89.5 616.15 L90.0 616.40 L90.5 616.81 L91.0 616.67 L91.5 616.51 L92.0 616.58 L92.5 616.17 L93.0 616.53 L93.5 616.71 L94.0 616.12 L94.5 616.31 L95.0 616.46 L95.5 616.29 L96.0 616.52 L96.5 616.83 L97.0 616.92 L97.5 616.40 L98.0 616.08 L98.5 616.61 L99.0 616.57 L99.5 616.76 L100.0 616.86 L100.5 616.35 L101.0 616.46 L101.5 616.24 L102.0 616.61 L102.5 616.64 L103.0 616.24 L103.5 616.34 L104.0 616.46 L104.5 616.17 L105.0 616.02 L105.5 616.23 L106.0 615.94 L106.5 616.22 L107.0 616.73 L107.5 616.80 L108.0 616.12 L108.5 616.59 L109.0 616.65 L109.5 616.66 L110.0 616.05 L110.5 616.50 L111.0 616.14 L111.5 616.57 L112.0 616.28 L112.5 616.22 L113.0 616.02 L113.5 616.58 L114.0 616.19 L114.5 616.65 L115.0 616.48 L115.5 616.09 L116.0 616.41 L116.5 616.41 L117.0 615.95 L117.5 616.52 L118.0 616.21 L118.5 615.88 L119.0 616.44 L119.5 616.60 L120.0 616.34 L120.5 616.07 L121.0 616.28 L121.5 616.41 L122.0 616.55 L122.5 616.42 L123.0 616.44 L123.5 616.59 L124.0 616.15 L124.5 615.99 L125.0 616.21 L125.5 616.54 L126.0 616.69 L126.5 616.79 L127.0 616.45 L127.5 616.58 L128.0 616.07 L128.5 616.15 L129.0 615.88 L129.5 616.49 L130.0 616.85 L130.5 616.68 L131.0 616.69 L131.5 616.35 L132.0 616.61 L132.5 616.06 L133.0 616.13 L133.5 616.13 L134.0 616.60 L134.5 616.13 L135.0 615.96 L135.5 615.83 L136.0 616.47 L136.5 616.22 L137.0 616.66 L137.5 616.28 L138.0 616.62 L138.5 616.16 L139.0 616.64 L139.5 616.87 L140.0 616.86 L140.5 616.69 L141.0 616.82 L141.5 616.88 L142.0 616.94 L142.5 616.34 L143.0 616.65 L143.5 616.69 L144.0 616.31 L144.5 616.02 L145.0 616.58 L145.5 616.39 L146.0 616.37 L146.5 616.69 L147.0 616.43 L147.5 616.13 L148.0 616.42 L148.5 616.38 L149.0 616.13 L149.5 616.42 L150.0 616.72 L150.5 616.22 L151.0 616.56 L151.5 616.63 L152.0 616.44 L152.5 616.08 L153.0 616.38 L153.5 616.13 L154.0 616.02 L154.5 616.53 L155.0 616.17 L155.5 615.89 L156.0 616.47 L156.5 616.81 L157.0 616.30 L157.5 616.21 L158.0 616.31 L158.5 616.53 L159.0 615.93 L159.5 616.30 L160.0 616.06 L160.5 616.60 L161.0 616.32 L161.5 616.71 L162.0 616.39 L162.5 616.47 L163.0 615.93 L163.5 615.89 L164.0 615.96 L164.5 616.05 L165.0 615.91 L165.5 616.08 L166.0 615.84 L166.5 616.19 L167.0 616.67 L167.5 616.74 L168.0 616.55 L168.5 616.81 L169.0 616.67 L169.5 616.54 L170.0 616.33 L170.5 615.91 L171.0 616.50 L171.5 616.71 L172.0 616.70 L172.5 616.59 L173.0 616.67 L173.5 616.82 L174.0 616.89 L174.5 616.73 L175.0 615.99 L175.5 616.57 L176.0 616.43 L176.5 616.28 L177.0 616.20 L177.5 616.03 L178.0 615.75 L178.5 616.19 L179.0 616.34 L179.5 615.91 L180.0 616.52 L180.5 616.71 L181.0 616.74 L181.5 616.46 L182.0 616.22 L182.5 616.21 L183.0 616.11 L183.5 616.61 L184.0 616.75 L184.5 616.78 L185.0 616.45 L185.5 616.32 L186.0 616.44 L186.5 616.11 L187.0 615.90 L187.5 616.56 L188.0 616.14 L188.5 615.99 L189.0 616.14 L189.5 615.82 L190.0 616.11 L190.5 615.87 L191.0 616.40 L191.5 615.90 L192.0 616.38 L192.5 616.06 L193.0 616.42 L193.5 616.56 L194.0 616.75 L194.5 616.10 L195.0 616.61 L195.5 616.03 L196.0 616.01 L196.5 615.69 L197.0 616.02 L197.5 615.75 L198.0 616.09 L198.5 616.55 L199.0 616.58 L199.5 616.46 L200.0 615.91 L200.5 616.53 L201.0 616.18 L201.5 616.59 L202.0 616.00 L202.5 615.93 L203.0 616.50 L203.5 616.51 L204.0 616.00 L204.5 616.07 L205.0 616.17 L205.5 615.94 L206.0 615.83 L206.5 615.66 L207.0 615.99 L207.5 616.02 L208.0 615.96 L208.5 616.06 L209.0 615.97 L209.5 615.98 L210.0 616.32 L210.5 615.87 L211.0 615.67 L211.5 615.91 L212.0 615.85 L212.5 616.00 L213.0 616.40 L213.5 616.61 L214.0 616.57 L214.5 616.64 L215.0 616.04 L215.5 615.93 L216.0 615.67 L216.5 615.74 L217.0 615.73 L217.5 615.71 L218.0 615.78 L218.5 616.35 L219.0 616.16 L219.5 616.44 L220.0 616.19 L220.5 616.30 L221.0 616.26 L221.5 616.17 L222.0 616.43 L222.5 616.22 L223.0 616.05 L223.5 615.74 L224.0 615.50 L224.5 615.71 L225.0 615.75 L225.5 615.50 L226.0 616.15 L226.5 615.52 L227.0 615.67 L227.5 615.53 L228.0 615.61 L228.5 616.02 L229.0 616.26 L229.5 615.81 L230.0 615.91 L230.5 616.09 L231.0 615.58 L231.5 615.47 L232.0 615.43 L232.5 615.76 L233.0 615.34 L233.5 615.70 L234.0 615.13 L234.5 615.32 L235.0 615.28 L235.5 614.66 L236.0 614.63 L236.5 614.98 L237.0 614.61 L237.5 614.03 L238.0 614.06 L238.5 613.95 L239.0 613.63 L239.5 613.21 L240.0 613.21 L240.5 612.55 L241.0 611.57 L241.5 610.50 L242.0 609.31 L242.2 608.14 L242.3 607.76 L242.4 607.54 L242.5 606.46 L242.6 605.70 L242.7 604.86 L242.8 604.57 L242.9 603.98 L243.0 602.95 L243.1 601.77 L243.2 599.95 L243.3 598.64 L243.4 597.17 L243.5 595.33 L243.6 593.25 L243.7 591.14 L243.8 588.61 L243.9 585.78 L244.0 583.26 L244.1 579.73 L244.2 576.54 L244.3 572.90 L244.4 569.32 L244.5 565.14 L244.6 560.45 L244.7 555.26 L244.8 550.83 L244.9 545.92 L245.0 540.68 L245.1 535.70 L245.2 530.02 L245.3 524.54 L245.4 519.44 L245.5 514.14 L245.6 509.88 L245.7 505.39 L245.8 502.16 L245.9 499.29 L246.0 497.20 L246.1 495.44 L246.2 495.20 L246.3 495.87 L246.4 496.72 L246.5 497.71 L246.6 498.66 L246.7 500.97 L246.8 502.87 L246.9 506.09 L247.0 508.35 L247.1 511.27 L247.2 514.90 L247.3 518.22 L247.4 522.59 L247.5 526.55 L247.6 529.80 L247.7 533.98 L247.8 537.44 L247.9 541.52 L248.0 544.72 L248.1 548.94 L248.2 552.27 L248.3 555.48 L248.4 558.96 L248.5 561.85 L248.6 564.90 L248.7 568.29 L248.8 571.41 L248.9 574.61 L249.0 576.96 L249.1 579.17 L249.2 581.35 L249.3 583.29 L249.4 586.09 L249.5 588.09 L249.6 589.54 L249.7 591.55 L249.8 593.19 L249.9 594.64 L250.0 595.82 L250.1 597.41 L250.2 598.75 L250.5 601.66 L251.0 604.72 L251.5 607.16 L252.0 608.98 L252.5 610.48 L253.0 611.05 L253.5 611.60 L254.0 611.73 L254.5 612.03 L255.0 612.54 L255.5 613.29 L256.0 613.29 L256.5 613.93 L257.0 614.17 L257.5 614.04 L258.0 614.31 L258.5 614.77 L259.0 614.28 L259.5 614.71 L260.0 615.04 L260.5 615.40 L261.0 615.00 L261.5 615.17 L262.0 615.42 L262.5 615.08 L263.0 615.42 L263.5 615.53 L264.0 615.76 L264.5 615.35 L265.0 614.92 L265.5 615.11 L266.0 615.29 L266.5 615.51 L267.0 615.37 L267.5 615.04 L268.0 615.09 L268.5 614.97 L269.0 614.56 L269.5 613.94 L270.0 613.30 L270.5 613.42 L271.0 612.77 L271.5 612.68 L272.0 613.10 L272.5 612.48 L273.0 612.61 L273.5 612.45 L274.0 612.43 L274.5 612.71 L275.0 613.22 L275.5 613.43 L276.0 613.35 L276.5 614.13 L277.0 614.30 L277.5 614.16 L278.0 614.80 L278.5 615.16 L279.0 615.50 L279.5 615.70 L280.0 615.83 L280.5 615.59 L281.0 615.89 L281.5 616.06 L282.0 616.21 L282.5 615.74 L283.0 616.30 L283.5 616.14 L284.0 616.40 L284.5 616.15 L285.0 616.31 L285.5 616.21 L286.0 615.89 L286.5 615.95 L287.0 616.27 L287.5 615.87 L288.0 616.27 L288.5 616.16 L288.6 616.19 L288.7 615.94 L288.8 615.99 L288.9 615.92 L289.0 615.68 L289.1 615.18 L289.2 615.49 L289.3 615.69 L289.4 615.60 L289.5 615.39 L289.6 615.41 L289.7 614.97 L289.8 615.26 L289.9 614.79 L290.0 614.63 L290.1 614.48 L290.2 615.17 L290.3 615.31 L290.4 615.04 L290.5 615.17 L290.6 614.49 L290.7 614.60 L290.8 614.40 L290.9 613.94 L291.0 614.13 L291.1 613.71 L291.2 613.66 L291.3 613.45 L291.4 613.41 L291.5 613.93 L291.6 613.69 L291.7 613.61 L291.8 613.17 L291.9 612.98 L292.0 612.83 L292.1 613.30 L292.2 613.33 L292.3 613.47 L292.4 613.37 L292.5 613.21 L292.6 613.06 L292.7 613.06 L292.8 613.59 L292.9 613.60 L293.0 613.76 L293.1 613.70 L293.2 614.00 L293.3 613.98 L293.4 613.34 L293.5 613.24 L293.6 613.23 L293.7 614.07 L293.8 613.81 L293.9 614.02 L294.0 614.27 L294.1 614.09 L294.2 614.14 L294.3 614.78 L294.4 614.43 L294.5 614.96 L294.6 614.88 L294.7 615.11 L294.8 614.98 L294.9 615.24 L295.0 615.41 L295.1 615.26 L295.2 615.15 L295.3 615.27 L295.4 615.64 L295.5 615.14 L295.6 615.18 L295.7 615.36 L295.8 615.77 L295.9 615.77 L296.0 615.54 L296.1 616.07 L296.2 616.01 L296.3 616.29 L296.4 615.95 L296.5 616.36 L297.0 616.27 L297.5 616.05 L298.0 615.81 L298.5 616.33 L299.0 615.95 L299.5 616.42 L300.0 616.58 L300.5 616.03 L301.0 616.38 L301.5 616.49 L302.0 615.98 L302.5 616.41 L303.0 616.74 L303.5 616.30 L304.0 616.33 L304.5 616.23 L305.0 616.05 L305.5 615.91 L306.0 616.33 L306.5 616.75 L307.0 616.14 L307.5 615.84 L308.0 616.20 L308.5 616.08 L309.0 616.60 L309.5 616.25 L310.0 615.89 L310.5 616.03 L311.0 616.17 L311.5 616.24 L312.0 616.25 L312.5 616.14 L313.0 616.72 L313.5 616.07 L314.0 616.03 L314.5 616.56 L315.0 616.19 L315.5 616.07 L316.0 616.19 L316.5 616.46 L317.0 616.73 L317.5 616.79 L318.0 616.26 L318.5 616.76 L319.0 616.25 L319.5 616.65 L320.0 616.84 L320.5 616.23 L321.0 616.26 L321.5 616.12 L322.0 616.30 L322.5 616.66 L323.0 616.81 L323.5 616.82 L324.0 616.16 L324.5 616.17 L325.0 616.76 L325.5 616.79 L326.0 616.83 L326.5 616.31 L327.0 616.11 L327.5 616.35 L328.0 616.54 L328.5 616.17 L329.0 616.73 L329.5 616.65 L330.0 616.95 L330.5 617.03 L331.0 616.61 L331.5 616.34 L332.0 616.77 L332.5 616.61 L333.0 616.65 L333.5 616.77 L334.0 617.05 L334.5 616.73 L335.0 616.57 L335.5 616.88 L336.0 616.28 L336.5 616.40 L337.0 616.24 L337.5 616.55 L338.0 616.85 L338.5 616.59 L339.0 616.31 L339.5 616.13 L340.0 616.78 L340.5 616.72 L341.0 617.02 L341.5 616.52 L342.0 616.37 L342.5 616.22 L343.0 616.58 L343.5 616.64 L344.0 616.93 L344.5 616.79 L345.0 616.52 L345.5 616.21 L346.0 616.73 L346.5 617.06 L347.0 616.61 L347.5 616.44 L348.0 616.58 L348.5 616.49 L349.0 616.80 L349.5 616.67 L350.0 616.62 L350.5 616.52 L351.0 616.36 L351.5 616.93 L352.0 617.14 L352.5 616.55 L353.0 616.50 L353.5 616.79 L354.0 616.57 L354.5 616.57 L355.0 616.68 L355.5 616.46 L356.0 616.49 L356.5 616.80 L357.0 617.11 L357.5 616.43 L358.0 616.93 L358.5 616.39 L359.0 616.72 L359.5 616.29 L360.0 616.58 L360.5 616.40 L361.0 616.87 L361.5 616.32 L362.0 616.57 L362.5 617.07 L363.0 616.86 L363.5 616.70 L364.0 616.84 L364.5 617.02 L365.0 616.99 L365.5 616.73 L366.0 616.45 L366.5 616.88 L367.0 616.78 L367.5 617.16 L368.0 616.73 L368.5 616.55 L369.0 616.64 L369.5 617.14 L370.0 617.13 L370.5 616.69 L371.0 616.90 L371.5 617.09 L372.0 616.46 L372.5 616.87 L373.0 616.77 L373.5 617.10 L374.0 617.10 L374.5 616.75 L375.0 616.37 L375.5 616.54 L376.0 616.57 L376.5 616.43 L377.0 616.82 L377.5 617.12 L378.0 616.84 L378.5 616.45 L379.0 616.71 L379.5 616.61 L380.0 616.30 L380.5 616.25 L381.0 616.49 L381.5 616.26 L382.0 616.26 L382.5 617.01 L383.0 616.89 L383.5 616.54 L384.0 616.28 L384.5 616.42 L385.0 616.50 L385.5 617.09 L386.0 616.61 L386.5 617.11 L387.0 616.90 L387.5 617.10 L388.0 616.95 L388.5 617.25 L389.0 617.36 L389.5 617.08 L390.0 616.72 L390.5 616.55 L391.0 616.36 L391.5 616.33 L392.0 616.65 L392.5 616.53 L393.0 616.51 L393.2 616.86 L393.3 616.77 L393.4 616.89 L393.5 616.75 L393.6 616.20 L393.7 615.79 L393.8 616.21 L393.9 615.81 L394.0 616.09 L394.1 615.62 L394.2 615.85 L394.3 615.84 L394.4 615.71 L394.5 615.92 L394.6 615.83 L394.7 615.30 L394.8 615.29 L394.9 615.14 L395.0 614.98 L395.1 614.70 L395.2 614.52 L395.3 614.73 L395.4 614.21 L395.5 614.28 L395.6 614.27 L395.7 614.15 L395.8 614.23 L395.9 614.28 L396.0 613.96 L396.1 613.43 L396.2 613.18 L396.3 613.71 L396.4 613.40 L396.5 613.25 L396.6 612.90 L396.7 613.10 L396.8 612.91 L396.9 612.98 L397.0 612.97 L397.1 613.29 L397.2 612.88 L397.3 613.40 L397.4 613.44 L397.5 612.77 L397.6 613.05 L397.7 612.88 L397.8 612.94 L397.9 613.19 L398.0 613.35 L398.1 613.53 L398.2 613.54 L398.3 613.33 L398.4 614.14 L398.5 613.65 L398.6 614.39 L398.7 614.78 L398.8 614.71 L398.9 614.36 L399.0 614.77 L399.1 614.66 L399.2 614.73 L399.3 615.28 L399.4 615.44 L399.5 614.93 L399.6 615.66 L399.7 615.48 L399.8 615.40 L399.9 615.52 L400.0 615.45 L400.1 615.68 L400.2 616.19 L400.3 616.54 L400.4 616.58 L400.5 616.46 L400.6 616.25 L400.7 616.27 L400.8 616.00 L400.9 616.03 L401.0 615.88 L401.1 616.52 L401.2 616.15 L401.5 616.17 L402.0 616.47 L402.5 616.95 L403.0 616.46 L403.5 616.93 L404.0 616.68 L404.5 616.70 L405.0 616.76 L405.5 617.27 L406.0 617.47 L406.5 616.87 L407.0 616.98 L407.5 616.77 L408.0 616.70 L408.5 617.13 L409.0 617.12 L409.5 617.02 L410.0 616.78 L410.5 616.77 L411.0 616.85 L411.5 617.20 L412.0 616.82 L412.5 616.96 L413.0 617.22 L413.5 616.64 L414.0 616.60 L414.5 617.07 L415.0 616.61 L415.5 617.25 L416.0 617.01 L416.5 617.11 L417.0 616.67 L417.5 616.82 L418.0 616.90 L418.5 617.21 L419.0 617.15 L419.5 616.73 L420.0 616.52 L420.5 616.61 L421.0 616.94 L421.5 616.63 L422.0 616.56 L422.5 616.72 L423.0 616.67 L423.5 616.99 L424.0 616.76 L424.5 616.66 L425.0 617.13 L425.5 617.17 L426.0 617.30 L426.5 616.80 L427.0 617.07 L427.5 616.94 L428.0 616.98 L428.5 616.76 L429.0 617.24 L429.5 617.40 L430.0 617.14 L430.5 616.96 L431.0 616.80 L431.5 616.97 L432.0 616.85 L432.5 616.94 L433.0 617.12 L433.5 617.41 L434.0 617.51 L434.5 616.83 L435.0 617.25 L435.5 617.04 L436.0 616.72 L436.5 616.92 L437.0 617.37 L437.5 617.09 L438.0 616.92 L438.5 617.07 L439.0 617.15 L439.5 617.50 L440.0 617.61 L440.5 617.72 L441.0 616.93 L441.5 617.26 L442.0 617.15 L442.5 617.21 L443.0 617.46 L443.5 617.06 L444.0 616.65 L444.5 616.74 L445.0 617.42 L445.5 617.62 L446.0 617.28 L446.5 616.86 L447.0 617.26 L447.5 617.02 L448.0 617.45 L448.5 617.26 L449.0 617.01 L449.5 616.71 L450.0 616.79 L450.5 616.88 L451.0 616.88 L451.5 617.29 L452.0 617.53 L452.5 617.44 L453.0 617.22 L453.5 617.35 L454.0 616.83 L454.5 617.07 L455.0 617.18 L455.5 617.29 L456.0 617.01 L456.5 617.46 L457.0 617.15 L457.5 617.14 L458.0 616.83 L458.5 617.09 L459.0 616.71 L459.5 617.06 L460.0 616.89 L460.5 617.51 L461.0 617.27 L461.5 617.00 L462.0 617.29 L462.5 616.92 L463.0 617.14 L463.5 617.15 L464.0 617.61 L464.5 617.58 L465.0 617.69 L465.5 617.84 L466.0 617.54 L466.5 617.50 L467.0 617.51 L467.5 617.64 L468.0 617.72 L468.5 617.76 L469.0 617.82 L469.5 617.85 L470.0 617.17 L470.5 617.48 L471.0 617.54 L471.5 617.72 L472.0 617.31 L472.5 617.53 L473.0 616.92 L473.5 617.05 L474.0 616.95 L474.5 616.94 L475.0 616.79 L475.5 617.13 L476.0 616.91 L476.5 616.75" stroke="#b745a9"/>
<path d="M500.5 617.65 L501.0 617.13 L501.5 617.17 L502.0 617.13 L502.5 617.58 L503.0 617.67 L503.5 617.90 L504.0 617.24 L504.5 617.31 L505.0 616.97 L505.5 617.02 L506.0 617.29 L506.5 616.94 L507.0 616.97 L507.5 617.39 L508.0 617.43 L508.5 617.15 L509.0 617.38 L509.5 617.65 L510.0 617.01 L510.5 617.51 L511.0 617.58 L511.5 617.28 L512.0 616.99 L512.5 617.62 L513.0 617.27 L513.5 616.92 L514.0 616.79 L514.5 617.43 L515.0 617.42 L515.5 617.60 L516.0 617.58 L516.5 617.40 L517.0 617.72 L517.5 617.29 L518.0 617.29 L518.5 617.54 L519.0 617.43 L519.5 617.61 L520.0 617.40 L520.5 617.44 L521.0 616.85 L521.5 616.80 L522.0 616.84 L522.5 616.65 L523.0 616.72 L523.5 616.62 L524.0 616.74 L524.5 617.10 L525.0 616.97 L525.5 616.93 L526.0 616.76 L526.5 616.75 L527.0 617.35 L527.5 617.29 L528.0 617.23 L528.5 616.80 L529.0 617.15 L529.5 616.76 L530.0 616.81 L530.5 617.38 L531.0 617.25 L531.5 617.13 L532.0 617.19 L532.5 617.35 L533.0 617.34 L533.5 616.83 L534.0 616.47 L534.5 616.60 L535.0 616.59 L535.5 616.53 L536.0 617.17 L536.5 617.33 L537.0 616.86 L537.5 617.00 L538.0 616.81 L538.5 617.21 L539.0 616.93 L539.5 616.65 L540.0 616.53 L540.5 616.76 L541.0 616.57 L541.5 616.79 L542.0 617.14 L542.5 616.80 L543.0 616.52 L543.5 617.12 L544.0 616.88 L544.5 616.40 L545.0 616.19 L545.5 616.17 L546.0 616.62 L546.5 616.93 L547.0 616.69 L547.5 616.27 L548.0 616.41 L548.5 617.01 L549.0 616.78 L549.5 617.10 L550.0 617.10 L550.5 616.33 L551.0 616.69 L551.5 616.78 L552.0 616.67 L552.5 616.37 L553.0 616.60 L553.5 616.19 L554.0 616.34 L554.5 616.40 L555.0 616.86 L555.5 616.95 L556.0 616.41 L556.5 616.43 L557.0 616.13 L557.5 616.69 L558.0 616.84 L558.5 616.36 L559.0 616.49 L559.5 616.50 L560.0 616.08 L560.5 616.48 L561.0 616.40 L561.5 616.59 L562.0 616.41 L562.5 615.86 L563.0 615.95 L563.5 615.69 L564.0 616.42 L564.5 616.62 L565.0 616.63 L565.5 616.15 L566.0 615.74 L566.5 616.33 L567.0 616.58 L567.5 615.87 L568.0 615.97 L568.5 615.61 L569.0 616.10 L569.5 616.26 L570.0 615.72 L570.5 615.82 L571.0 615.91 L571.5 615.66 L572.0 616.10 L572.5 615.82 L573.0 615.51 L573.5 615.67 L574.0 615.87 L574.5 615.43 L575.0 615.34 L575.5 615.90 L576.0 615.74 L576.5 615.46 L577.0 615.38 L577.5 614.95 L578.0 614.84 L578.5 614.85 L579.0 615.02 L579.5 614.68 L580.0 614.48 L580.5 614.19 L581.0 614.51 L581.5 614.15 L582.0 614.52 L582.5 614.48 L583.0 613.59 L583.5 613.26 L584.0 613.34 L584.5 612.72 L585.0 612.17 L585.5 612.39 L586.0 611.76 L586.5 611.00 L587.0 610.48 L587.5 609.65 L588.0 607.83 L588.5 605.10 L589.0 599.67 L589.5 588.37 L590.0 570.90 L590.5 550.69 L591.0 532.06 L591.5 518.52 L592.0 509.24 L592.5 504.91 L593.0 503.80 L593.5 504.40 L594.0 505.03 L594.5 506.53 L595.0 509.03 L595.5 511.99 L596.0 515.33 L596.5 519.21 L597.0 524.17 L597.5 528.64 L598.0 533.92 L598.5 538.91 L599.0 543.68 L599.5 549.70 L600.0 555.11 L600.5 560.51 L601.0 565.63 L601.5 570.48 L602.0 574.54 L602.5 579.05 L603.0 582.99 L603.5 586.94 L604.0 590.22 L604.5 593.66 L605.0 597.22 L605.5 599.42 L606.0 602.08 L606.5 603.96 L607.0 605.68 L607.5 607.70 L608.0 609.24 L608.5 610.05 L609.0 611.04 L609.5 611.32 L610.0 611.90 L610.5 612.97 L611.0 613.13 L611.5 613.18 L612.0 613.24 L612.5 612.30 L613.0 611.84 L613.5 610.67 L614.0 609.27 L614.5 606.47 L615.0 604.20 L615.5 600.39 L616.0 596.94 L616.5 594.21 L617.0 592.10 L617.5 590.72 L617.6 590.88 L618.0 591.26 L618.5 591.51 L619.0 592.74 L619.5 594.21 L620.0 595.69 L620.5 597.59 L621.0 599.44 L621.5 601.69 L622.0 602.98 L622.5 605.00 L623.0 606.26 L623.5 607.74 L624.0 609.29 L624.5 610.17 L625.0 611.05 L625.5 612.23 L626.0 612.41 L626.5 613.14 L627.0 614.13 L627.5 614.68 L628.0 614.18 L628.5 614.26 L629.0 614.43 L629.5 615.18 L630.0 615.45 L630.5 615.60 L631.0 615.22 L631.5 614.94 L632.0 615.48 L632.5 615.58 L633.0 615.55 L633.5 615.90 L634.0 615.74 L634.5 615.11 L635.0 615.64 L635.5 615.37 L636.0 615.62 L636.5 615.97 L637.0 615.37 L637.5 615.15 L638.0 615.08 L638.5 615.47 L639.0 615.35 L639.5 615.62 L640.0 615.83 L640.5 615.44 L641.0 615.70 L641.5 615.46 L642.0 615.58 L642.5 616.01 L643.0 616.11 L643.5 615.46 L644.0 615.54 L644.5 615.43 L645.0 615.15 L645.5 615.75 L646.0 615.85 L646.5 615.54 L647.0 615.87 L647.5 615.81 L648.0 615.68 L648.5 615.26 L649.0 615.17 L649.5 615.88 L650.0 616.14 L650.5 615.91 L651.0 616.09 L651.5 615.93 L652.0 615.48 L652.5 615.30 L653.0 615.40 L653.5 615.98 L654.0 616.08 L654.5 616.18 L655.0 616.25 L655.5 615.65 L656.0 615.47 L656.5 615.28 L657.0 615.82 L657.5 616.11 L658.0 615.77 L658.5 615.85 L659.0 615.45 L659.5 616.02 L660.0 616.16 L660.5 616.31 L661.0 616.21 L661.5 616.24 L662.0 615.47 L662.5 615.85 L663.0 615.61 L663.5 616.07 L664.0 616.11 L664.5 616.18 L665.0 616.16 L665.5 615.65 L666.0 615.95 L666.5 615.44 L667.0 615.95 L667.5 616.12 L668.0 615.59 L668.5 615.95 L669.0 615.75 L669.5 615.54 L670.0 615.91 L670.5 615.52 L671.0 615.20 L671.5 615.24 L672.0 615.37 L672.5 615.91 L673.0 616.19 L673.5 615.66 L674.0 615.80 L674.5 615.63 L675.0 616.10 L675.5 615.86 L676.0 616.14 L676.5 615.48 L677.0 616.03 L677.5 615.50 L678.0 616.03 L678.5 615.58 L679.0 615.27 L679.5 615.46 L680.0 615.80 L680.5 615.53 L681.0 615.71 L681.5 615.68 L682.0 615.55 L682.5 615.68 L683.0 615.43 L683.5 615.76 L684.0 615.23 L684.5 615.88 L685.0 615.75 L685.5 615.87 L686.0 615.93 L686.5 615.89 L687.0 615.59 L687.5 615.22 L688.0 615.63 L688.5 615.47 L689.0 615.39 L689.5 615.85 L690.0 615.89 L690.5 615.52 L691.0 615.40 L691.5 615.45 L692.0 615.46 L692.5 615.36 L693.0 615.17 L693.5 615.37 L694.0 615.91 L694.5 615.86 L695.0 616.05 L695.5 615.85 L696.0 615.49 L696.5 615.59 L697.0 615.13 L697.5 615.22 L698.0 615.38 L698.5 615.58 L699.0 615.71 L699.5 615.58 L700.0 615.51 L700.5 615.28 L701.0 615.43 L701.5 615.87 L702.0 615.93 L702.5 615.38 L703.0 615.11 L703.5 615.40 L704.0 615.61 L704.5 615.41 L705.0 615.78 L705.5 615.85 L706.0 615.80 L706.5 615.37 L707.0 615.19 L707.5 614.97 L708.0 615.09 L708.5 615.34 L709.0 615.77 L709.5 615.21 L710.0 615.33 L710.5 615.56 L711.0 615.24 L711.5 615.59 L712.0 615.52 L712.5 615.27 L713.0 615.56 L713.5 615.06 L714.0 615.57 L714.5 615.76 L715.0 615.22 L715.5 615.32 L716.0 615.12 L716.5 615.77 L717.0 615.59 L717.5 615.10 L718.0 615.11 L718.5 615.65 L719.0 615.49 L719.5 615.74 L720.0 615.71 L720.5 615.98 L721.0 615.72 L721.5 615.95 L722.0 615.98 L722.5 615.73 L723.0 615.74 L723.5 615.54 L724.0 615.77 L724.5 615.59 L725.0 615.84 L725.5 615.79 L726.0 615.53 L726.5 615.24 L727.0 615.12 L727.5 615.44 L728.0 615.66 L728.5 615.51 L729.0 615.56 L729.5 615.25 L730.0 614.96 L730.5 615.05 L731.0 615.06 L731.5 615.11 L732.0 615.33 L732.5 615.03 L733.0 615.01 L733.5 615.43 L734.0 615.58 L734.5 615.05 L735.0 615.17 L735.5 615.34 L736.0 615.28 L736.5 615.07 L737.0 615.18 L737.5 615.66 L738.0 615.54 L738.5 615.59 L739.0 615.76 L739.5 615.73 L740.0 615.37 L740.5 614.90 L741.0 615.05 L741.5 615.46 L742.0 615.70 L742.5 615.87 L743.0 615.44 L743.5 615.59 L744.0 615.45 L744.5 615.46 L745.0 615.11 L745.5 614.98 L746.0 615.14 L746.5 614.82 L747.0 614.98 L747.5 615.35 L748.0 615.23 L748.5 614.96 L749.0 615.15 L749.5 614.90 L750.0 615.26 L750.5 614.84 L751.0 615.03 L751.5 615.25 L752.0 614.83 L752.5 615.25 L753.0 614.93 L753.5 615.11 L754.0 614.80 L754.5 614.99 L755.0 614.90 L755.5 614.97 L756.0 615.39 L756.5 615.19 L757.0 615.45 L757.5 615.62 L758.0 615.14 L758.5 614.82 L759.0 614.65 L759.5 615.06 L760.0 615.62 L760.5 615.22 L761.0 615.36 L761.5 615.52 L762.0 615.46 L762.5 615.53 L763.0 615.73 L763.5 615.11 L764.0 614.73 L764.5 614.72 L765.0 614.69 L765.5 615.17 L766.0 615.24 L766.5 614.95 L767.0 615.28 L767.5 615.46 L768.0 614.97 L768.5 615.20 L769.0 615.41 L769.5 614.90 L770.0 615.36 L770.5 615.65 L771.0 614.97 L771.5 614.66 L772.0 614.81 L772.5 615.19 L773.0 615.58 L773.5 615.20 L774.0 615.35 L774.5 614.83 L775.0 615.20 L775.5 615.27 L776.0 614.81 L776.5 615.26 L777.0 615.49 L777.5 615.34 L778.0 614.85 L778.5 615.46 L779.0 615.49 L779.5 615.10 L780.0 615.03 L780.5 614.96 L781.0 615.05 L781.5 614.93 L782.0 615.35 L782.5 615.47 L783.0 614.86 L783.5 615.42 L784.0 615.32 L784.5 615.45 L785.0 615.39 L785.5 615.12 L786.0 615.29 L786.5 615.56 L787.0 615.02 L787.5 615.32 L788.0 615.18 L788.5 615.07 L789.0 614.99 L789.5 615.23 L790.0 614.89 L790.5 615.30 L791.0 615.42 L791.5 614.78 L792.0 615.28 L792.5 614.87 L793.0 614.93 L793.5 615.08 L794.0 614.92 L794.5 614.54 L795.0 615.15 L795.5 614.76 L796.0 614.64 L796.5 615.14 L797.0 614.89 L797.5 615.29 L798.0 615.27 L798.5 614.87 L799.0 614.48 L799.5 615.20 L800.0 614.66 L800.5 615.05 L801.0 614.97 L801.5 615.19 L802.0 615.20 L802.5 615.16 L803.0 615.00 L803.5 615.22 L804.0 614.66 L804.5 614.57 L805.0 614.97 L805.5 614.75 L806.0 614.93 L806.5 614.89 L807.0 614.92 L807.5 614.83 L808.0 615.09 L808.5 614.80 L809.0 615.04 L809.5 614.72 L810.0 614.59 L810.5 614.42 L811.0 614.43 L811.5 614.36 L812.0 614.71 L812.5 615.04 L813.0 614.62 L813.5 614.50 L814.0 614.70 L814.5 614.98 L815.0 615.31 L815.5 615.01 L816.0 614.68 L816.5 614.39 L817.0 614.38 L817.5 614.40 L818.0 614.36 L818.5 614.19 L819.0 614.60 L819.5 614.50 L820.0 615.10 L820.5 614.92 L821.0 614.99 L821.5 614.49 L822.0 614.98 L822.5 614.81 L823.0 615.09 L823.5 614.91 L824.0 614.75 L824.5 614.66 L825.0 614.39 L825.5 614.17 L826.0 614.90 L826.5 614.72 L827.0 614.97 L827.5 614.67 L828.0 614.26 L828.5 614.62 L829.0 614.21 L829.5 614.15 L830.0 614.50 L830.5 614.38 L831.0 614.96 L831.5 614.35 L832.0 614.72 L832.5 614.70 L833.0 614.85 L833.5 614.39 L834.0 614.48 L834.5 614.44 L835.0 614.41 L835.5 614.77 L836.0 615.01 L836.5 614.45 L837.0 614.54 L837.5 614.55 L838.0 614.66 L838.5 614.87 L839.0 614.26 L839.5 614.04 L840.0 614.35 L840.5 613.99 L841.0 613.86 L841.5 613.71 L842.0 613.58 L842.5 613.92 L843.0 614.15 L843.5 613.94 L844.0 613.78 L844.5 614.14 L845.0 614.24 L845.5 614.02 L846.0 614.13 L846.5 614.35 L847.0 614.28 L847.5 614.07 L848.0 613.99 L848.5 614.17 L849.0 613.73 L849.5 613.64 L850.0 613.65 L850.5 613.84 L851.0 613.77 L851.5 613.00 L852.0 612.74 L852.5 612.70 L853.0 613.01 L853.5 612.85 L854.0 612.44 L854.5 612.03 L855.0 612.26 L855.5 612.21 L856.0 612.24 L856.5 611.66 L857.0 611.23 L857.5 610.45 L858.0 609.85 L858.5 609.65 L859.0 609.09 L859.5 608.35 L860.0 607.38 L860.5 607.15 L861.0 606.12 L861.5 604.50 L862.0 602.99 L862.5 600.58 L863.0 594.80 L863.1 592.35 L863.2 589.52 L863.3 587.01 L863.4 583.24 L863.5 578.95 L863.6 574.00 L863.7 567.34 L863.8 560.52 L863.9 552.74 L864.0 543.92 L864.1 533.98 L864.2 523.84 L864.3 513.03 L864.4 502.06 L864.5 490.76 L864.6 478.65 L864.7 467.14 L864.8 455.31 L864.9 444.59 L865.0 433.86 L865.1 423.41 L865.2 413.64 L865.3 404.54 L865.4 396.29 L865.5 389.42 L865.6 382.41 L865.7 376.44 L865.8 371.60 L865.9 366.86 L866.0 362.74 L866.1 359.18 L866.2 356.06 L866.3 353.75 L866.4 352.19 L866.5 350.66 L866.6 349.60 L866.7 348.26 L866.8 347.81 L866.9 347.87 L867.0 347.37 L867.1 347.65 L867.2 347.37 L867.3 348.27 L867.4 348.53 L867.5 348.63 L867.6 348.98 L867.7 349.90 L867.8 350.72 L867.9 351.13 L868.0 352.68 L868.1 353.78 L868.2 354.43 L868.3 355.06 L868.4 356.70 L868.5 357.77 L868.6 359.18 L868.7 360.36 L868.8 361.47 L868.9 363.32 L869.0 365.08 L869.1 366.04 L869.2 367.70 L869.3 369.21 L869.4 371.33 L869.5 372.82 L869.6 374.84 L869.7 376.71 L869.8 378.04 L869.9 380.20 L870.0 381.86 L870.1 384.18 L870.2 385.89 L870.3 388.08 L870.4 389.68 L870.5 391.59 L870.6 393.87 L870.7 396.41 L870.8 398.21 L870.9 399.92 L871.0 402.27 L871.5 413.07 L872.0 424.33 L872.5 435.53 L873.0 446.54 L873.5 457.29 L874.0 467.74 L874.5 478.42 L875.0 488.34 L875.5 497.49 L876.0 506.86 L876.5 514.83 L877.0 523.29 L877.5 530.92 L878.0 538.07 L878.5 544.25 L879.0 550.43 L879.5 556.20 L880.0 561.55 L880.5 565.90 L881.0 569.67 L881.5 573.83 L882.0 577.57 L882.5 581.13 L883.0 584.19 L883.5 586.49 L884.0 588.84 L884.5 590.92 L885.0 593.07 L885.5 594.60 L886.0 596.31 L886.5 597.31 L887.0 598.70 L887.5 600.33 L888.0 600.94 L888.5 602.03 L889.0 602.86 L889.5 603.78 L890.0 604.50 L890.5 605.12 L891.0 605.22 L891.5 605.49 L892.0 606.22 L892.5 606.76 L893.0 607.27 L893.5 606.90 L894.0 606.98 L894.5 607.70 L895.0 608.37 L895.5 608.83 L896.0 608.90 L896.5 608.77 L897.0 608.54 L897.5 609.06 L898.0 609.57 L898.5 609.46 L899.0 609.74 L899.5 610.13 L900.0 609.57 L900.5 610.14 L901.0 609.96 L901.5 610.05 L902.0 609.95 L902.5 610.33 L903.0 610.56 L903.5 610.91 L904.0 610.53 L904.5 610.37 L905.0 611.09 L905.5 611.16 L906.0 610.88 L906.5 611.44 L907.0 610.96 L907.5 611.11 L908.0 610.99 L908.5 610.95 L909.0 610.70 L909.5 611.32 L910.0 611.59 L910.5 611.45 L911.0 610.89 L911.5 610.92 L912.0 610.83 L912.5 611.02 L913.0 611.04 L913.5 611.08 L914.0 610.98 L914.5 611.58 L915.0 611.31 L915.5 611.49 L916.0 611.74 L916.5 611.69 L917.0 612.05 L917.5 612.25 L918.0 612.76 L918.5 612.35 L919.0 612.87 L919.5 612.79 L920.0 612.44 L920.5 612.61 L921.0 612.81 L921.5 612.95 L922.0 612.39 L922.5 612.72 L923.0 612.75 L923.5 613.15 L924.0 612.75 L924.5 613.09 L925.0 613.05 L925.5 612.82 L926.0 613.01 L926.5 613.08 L927.0 613.17 L927.5 613.25 L928.0 613.23 L928.5 613.40 L929.0 613.28 L929.5 613.50 L930.0 613.34 L930.5 612.99 L931.0 612.99 L931.5 613.12 L932.0 613.31 L932.5 612.79 L933.0 612.79 L933.5 613.19 L934.0 612.80 L934.5 612.61 L935.0 612.89 L935.5 613.35 L936.0 613.08 L936.5 613.29 L937.0 613.24 L937.5 612.63 L938.0 612.86 L938.5 612.55 L939.0 612.64 L939.5 612.50 L940.0 611.97 L940.5 611.44 L941.0 611.88 L941.5 611.13 L942.0 611.46 L942.5 611.30 L943.0 610.95 L943.5 610.88 L944.0 610.67 L944.5 610.28 L945.0 609.59 L945.5 609.60 L946.0 608.77 L946.5 608.87 L947.0 608.76 L947.5 608.90 L948.0 608.75 L948.5 608.95 L949.0 609.27 L949.5 609.64 L950.0 609.19 L950.5 609.35 L951.0 609.44 L951.5 610.48 L952.0 610.78 L952.5 611.43 L953.0 611.24 L953.5 611.23 L954.0 612.10 L954.5 612.65 L955.0 612.44 L955.5 612.60 L956.0 612.52 L956.5 613.33 L957.0 613.11 L957.5 613.27 L958.0 613.03 L958.5 613.71 L959.0 613.31 L959.5 613.49 L960.0 613.78 L960.5 613.97 L961.0 614.24 L961.5 613.87 L962.0 614.05 L962.5 613.60 L963.0 613.68 L963.5 613.44 L964.0 613.72 L964.5 613.75 L965.0 614.26 L965.5 613.62 L966.0 613.70 L966.5 613.81 L967.0 614.31 L967.5 614.41 L968.0 613.76 L968.5 614.07 L969.0 614.06 L969.5 614.46 L970.0 614.04 L970.5 613.93 L971.0 613.71 L971.5 613.58 L972.0 614.20 L972.5 614.06 L973.0 614.21 L973.5 614.24 L974.0 614.22 L974.5 613.69 L975.0 614.21 L975.5 613.90 L976.0 613.69 L976.5 614.01 L977.0 613.68 L977.5 614.20 L978.0 613.88 L978.5 613.78 L979.0 614.34 L979.5 614.05 L980.0 613.79 L980.5 614.39 L981.0 613.78 L981.5 614.35 L982.0 613.90 L982.5 613.74 L983.0 613.79 L983.5 613.74 L984.0 614.17 L984.5 613.75 L985.0 613.59 L985.5 614.25 L986.0 613.98 L986.5 613.96 L987.0 613.82 L987.5 613.67 L988.0 614.24 L988.5 614.25" stroke="#b745a9"/>
<path d="M33.0 463.75 L33.5 463.71 L34.0 463.82 L34.5 463.99 L35.0 463.80 L35.5 463.71 L36.0 463.73 L36.5 463.98 L37.0 463.78 L37.5 463.98 L38.0 464.01 L38.5 463.78 L39.0 463.87 L39.5 463.86 L40.0 463.84 L40.5 464.09 L41.0 463.77 L41.5 463.62 L42.0 463.98 L42.5 463.86 L43.0 463.72 L43.5 463.73 L44.0 463.74 L44.5 464.01 L45.0 463.76 L45.5 463.68 L46.0 463.81 L46.5 463.84 L47.0 464.03 L47.5 464.04 L48.0 463.82 L48.5 463.67 L49.0 463.90 L49.5 464.05 L50.0 463.66 L50.5 463.84 L51.0 463.96 L51.5 463.90 L52.0 463.68 L52.5 463.86 L53.0 463.89 L53.5 463.65 L54.0 463.77 L54.5 463.61 L55.0 463.48 L55.5 463.56 L56.0 463.58 L56.5 463.62 L57.0 463.74 L57.5 463.86 L58.0 463.96 L58.5 464.00 L59.0 464.01 L59.5 463.92 L60.0 463.67 L60.5 463.52 L61.0 463.66 L61.5 463.68 L62.0 463.73 L62.5 463.49 L63.0 463.44 L63.5 463.75 L64.0 463.71 L64.5 463.74 L65.0 463.47 L65.5 463.51 L66.0 463.76 L66.5 463.72 L67.0 463.86 L67.5 463.54 L68.0 463.54 L68.5 463.70 L69.0 463.59 L69.5 463.70 L70.0 463.63 L70.5 463.41 L71.0 463.31 L71.5 463.68 L72.0 463.41 L72.5 463.35 L73.0 463.39 L73.5 463.57 L74.0 463.69 L74.5 463.56 L75.0 463.52 L75.5 463.63 L76.0 463.44 L76.5 463.41 L77.0 463.50 L77.5 463.54 L78.0 463.28 L78.5 463.22 L79.0 463.21 L79.5 463.47 L80.0 463.54 L80.5 463.69 L81.0 463.64 L81.5 463.39 L82.0 463.53 L82.5 463.68 L83.0 463.43 L83.5 463.19 L84.0 463.27 L84.5 463.25 L85.0 463.19 L85.5 463.11 L86.0 463.11 L86.5 463.45 L87.0 463.19 L87.5 463.35 L88.0 463.22 L88.5 463.16 L89.0 463.43 L89.5 463.28 L90.0 463.17 L90.5 463.25 L91.0 463.38 L91.5 463.35 L92.0 463.49 L92.5 463.32 L93.0 463.32 L93.5 463.40 L94.0 463.31 L94.5 463.39 L95.0 463.30 L95.5 463.11 L96.0 463.04 L96.5 463.31 L97.0 463.38 L97.5 463.50 L98.0 463.42 L98.5 463.33 L99.0 463.11 L99.5 463.35 L100.0 463.09 L100.5 463.14 L101.0 463.02 L101.5 463.08 L102.0 463.07 L102.5 463.11 L103.0 463.26 L103.5 463.22 L104.0 463.07 L104.5 463.26 L105.0 463.30 L105.5 463.36 L106.0 463.01 L106.5 463.15 L107.0 463.32 L107.5 463.09 L108.0 462.98 L108.5 463.21 L109.0 463.09 L109.5 463.06 L110.0 463.23 L110.5 463.09 L111.0 462.96 L111.5 462.91 L112.0 462.95 L112.5 463.12 L113.0 463.03 L113.5 463.18 L114.0 462.90 L114.5 462.89 L115.0 463.05 L115.5 463.03 L116.0 463.04 L116.5 463.23 L117.0 463.00 L117.5 462.87 L118.0 462.75 L118.5 462.91 L119.0 462.88 L119.5 462.94 L120.0 462.75 L120.5 462.67 L121.0 462.82 L121.5 463.04 L122.0 462.90 L122.5 463.13 L123.0 463.05 L123.5 462.94 L124.0 463.07 L124.5 462.86 L125.0 462.96 L125.5 463.10 L126.0 463.00 L126.5 462.86 L127.0 462.71 L127.5 462.87 L128.0 462.75 L128.5 462.78 L129.0 462.87 L129.5 463.08 L130.0 463.02 L130.5 462.93 L131.0 463.05 L131.5 462.84 L132.0 462.80 L132.5 462.91 L133.0 462.89 L133.5 462.73 L134.0 462.75 L134.5 462.94 L135.0 462.74 L135.5 462.88 L136.0 462.63 L136.5 462.94 L137.0 462.93 L137.5 462.76 L138.0 462.99 L138.5 462.99 L139.0 462.65 L139.5 462.61 L140.0 462.70 L140.5 462.96 L141.0 462.66 L141.5 462.50 L142.0 462.57 L142.5 462.46 L143.0 462.59 L143.5 462.69 L144.0 462.67 L144.5 462.53 L145.0 462.42 L145.5 462.73 L146.0 462.67 L146.5 462.67 L147.0 462.66 L147.5 462.75 L148.0 462.87 L148.5 462.88 L149.0 462.83 L149.5 462.63 L150.0 462.48 L150.5 462.39 L151.0 462.70 L151.5 462.44 L152.0 462.58 L152.5 462.78 L153.0 462.58 L153.5 462.53 L154.0 462.53 L154.5 462.76 L155.0 462.72 L155.5 462.77 L156.0 462.42 L156.5 462.61 L157.0 462.54 L157.5 462.49 L158.0 462.66 L158.5 462.67 L159.0 462.75 L159.5 462.70 L160.0 462.75 L160.5 462.54 L161.0 462.52 L161.5 462.62 L162.0 462.49 L162.5 462.30 L163.0 462.43 L163.5 462.60 L164.0 462.65 L164.5 462.32 L165.0 462.31 L165.5 462.23 L166.0 462.25 L166.5 462.52 L167.0 462.37 L167.5 462.25 L168.0 462.18 L168.5 462.21 L169.0 462.31 L169.5 462.18 L170.0 462.04 L170.5 461.97 L171.0 461.92 L171.5 462.13 L172.0 461.75 L172.5 461.68 L172.6 461.39 L172.7 461.54 L172.8 461.31 L172.9 461.40 L173.0 461.21 L173.1 460.91 L173.2 460.74 L173.3 460.92 L173.4 460.77 L173.5 460.60 L173.6 460.37 L173.7 460.34 L173.8 460.12 L173.9 459.72 L174.0 459.70 L174.1 459.42 L174.2 459.43 L174.3 459.14 L174.4 458.99 L174.5 458.47 L174.6 458.39 L174.7 458.15 L174.8 458.00 L174.9 457.79 L175.0 457.39 L175.1 457.09 L175.2 456.88 L175.3 456.41 L175.4 456.20 L175.5 456.08 L175.6 455.79 L175.7 455.51 L175.8 455.42 L175.9 455.32 L176.0 454.85 L176.1 454.50 L176.2 454.55 L176.3 454.29 L176.4 454.53 L176.5 454.37 L176.6 454.31 L176.7 454.48 L176.8 454.59 L176.9 454.36 L177.0 454.50 L177.1 454.52 L177.2 454.77 L177.3 454.83 L177.4 455.32 L177.5 455.41 L177.6 455.61 L177.7 456.07 L177.8 456.37 L177.9 456.42 L178.0 456.69 L178.1 457.04 L178.2 457.12 L178.3 457.29 L178.4 457.86 L178.5 457.90 L178.6 458.33 L178.7 458.66 L178.8 458.86 L178.9 458.97 L179.0 459.38 L179.1 459.62 L179.2 459.51 L179.3 459.97 L179.4 460.13 L179.5 460.13 L179.6 460.18 L179.7 460.26 L179.8 460.70 L179.9 460.95 L180.0 460.88 L180.1 460.85 L180.2 460.85 L180.3 461.07 L180.4 461.14 L180.5 461.10 L180.6 461.24 L181.0 461.72 L181.5 461.64 L182.0 461.80 L182.5 461.93 L183.0 461.82 L183.5 461.74 L184.0 461.74 L184.5 461.77 L185.0 462.16 L185.5 462.25 L186.0 462.20 L186.5 462.27 L187.0 462.03 L187.5 461.91 L188.0 462.14 L188.5 462.09 L189.0 462.21 L189.5 461.98 L190.0 461.91 L190.5 462.01 L191.0 462.09 L191.5 461.77 L192.0 461.66 L192.5 461.46 L193.0 461.54 L193.5 461.58 L194.0 461.18 L194.1 460.88 L194.2 460.95 L194.3 460.89 L194.4 460.55 L194.5 460.71 L194.6 460.56 L194.7 460.33 L194.8 460.08 L194.9 459.80 L195.0 459.72 L195.1 459.51 L195.2 459.24 L195.3 459.19 L195.4 459.02 L195.5 458.93 L195.6 458.73 L195.7 458.26 L195.8 458.02 L195.9 457.59 L196.0 457.27 L196.1 457.02 L196.2 456.91 L196.3 456.24 L196.4 455.98 L196.5 455.62 L196.6 455.50 L196.7 455.32 L196.8 454.84 L196.9 454.30 L197.0 454.15 L197.1 453.93 L197.2 453.72 L197.3 453.55 L197.4 453.21 L197.5 453.02 L197.6 452.96 L197.7 452.53 L197.8 452.43 L197.9 452.57 L198.0 452.53 L198.1 452.83 L198.2 452.60 L198.3 452.90 L198.4 452.79 L198.5 452.94 L198.6 452.99 L198.7 453.36 L198.8 453.56 L198.9 453.93 L199.0 454.37 L199.1 454.34 L199.2 454.78 L199.3 455.11 L199.4 455.28 L199.5 455.44 L199.6 456.12 L199.7 456.45 L199.8 456.74 L199.9 456.80 L200.0 457.38 L200.1 457.55 L200.2 457.82 L200.3 458.13 L200.4 458.36 L200.5 458.83 L200.6 458.93 L200.7 459.20 L200.8 459.48 L200.9 459.77 L201.0 459.65 L201.1 459.79 L201.2 460.23 L201.3 460.32 L201.4 460.33 L201.5 460.65 L201.6 460.49 L201.7 460.56 L201.8 460.56 L201.9 460.89 L202.0 460.98 L202.5 461.20 L203.0 461.41 L203.5 461.44 L204.0 461.69 L204.5 461.81 L205.0 461.70 L205.5 461.89 L206.0 461.58 L206.5 461.72 L207.0 461.58 L207.5 461.52 L208.0 461.70 L208.5 461.54 L209.0 461.48 L209.5 461.48 L210.0 461.59 L210.5 461.83 L211.0 461.65 L211.5 461.51 L212.0 461.74 L212.5 461.83 L213.0 461.92 L213.5 461.49 L214.0 461.35 L214.5 461.37 L215.0 461.56 L215.5 461.33 L216.0 461.29 L216.5 460.85 L217.0 460.66 L217.5 460.54 L218.0 460.13 L218.5 459.98 L219.0 459.95 L219.5 459.87 L220.0 459.63 L220.5 459.86 L221.0 460.06 L221.5 460.08 L222.0 460.07 L222.5 460.19 L223.0 460.29 L223.5 460.83 L224.0 460.95 L224.5 461.08 L225.0 461.30 L225.5 461.32 L226.0 461.21 L226.5 461.26 L227.0 461.04 L227.5 461.02 L228.0 461.01 L228.5 461.16 L229.0 461.07 L229.5 460.92 L230.0 460.66 L230.5 460.42 L231.0 460.21 L231.5 459.83 L232.0 459.68 L232.5 459.73 L233.0 459.59 L233.5 459.22 L234.0 459.20 L234.5 459.33 L235.0 459.23 L235.5 459.38 L236.0 459.67 L236.5 459.72 L237.0 460.18 L237.5 460.04 L238.0 460.46 L238.5 460.57 L239.0 460.51 L239.5 460.46 L240.0 460.70 L240.5 460.69 L241.0 460.43 L241.5 460.34 L242.0 460.16 L242.5 460.28 L243.0 460.16 L243.5 459.99 L244.0 460.01 L244.5 459.71 L245.0 459.43 L245.5 459.50 L246.0 459.40 L246.5 459.15 L247.0 458.73 L247.5 458.41 L248.0 458.07 L248.5 457.21 L249.0 456.59 L249.5 455.84 L250.0 455.00 L250.5 453.48 L251.0 451.62 L251.5 448.46 L252.0 444.28 L252.2 441.83 L252.3 440.57 L252.4 439.21 L252.5 437.83 L252.6 436.16 L252.7 434.27 L252.8 432.50 L252.9 430.65 L253.0 428.41 L253.1 426.52 L253.2 424.09 L253.3 421.91 L253.4 419.21 L253.5 416.75 L253.6 413.94 L253.7 410.87 L253.8 407.94 L253.9 404.53 L254.0 401.23 L254.1 398.11 L254.2 394.64 L254.3 391.18 L254.4 387.78 L254.5 384.13 L254.6 380.55 L254.7 376.99 L254.8 373.44 L254.9 369.55 L255.0 366.26 L255.1 362.87 L255.2 359.36 L255.3 356.09 L255.4 353.15 L255.5 350.40 L255.6 348.17 L255.7 346.31 L255.8 344.38 L255.9 342.81 L256.0 341.67 L256.1 341.37 L256.2 341.01 L256.3 341.11 L256.4 341.93 L256.5 342.75 L256.6 344.27 L256.7 345.78 L256.8 347.57 L256.9 349.73 L257.0 352.13 L257.1 355.19 L257.2 358.00 L257.3 361.23 L257.4 364.55 L257.5 367.70 L257.6 371.09 L257.7 374.63 L257.8 378.09 L257.9 381.44 L258.0 384.78 L258.1 388.21 L258.2 391.48 L258.3 395.05 L258.4 398.40 L258.5 401.67 L258.6 404.64 L258.7 407.73 L258.8 410.58 L258.9 413.49 L259.0 416.08 L259.1 418.68 L259.2 421.11 L259.3 423.27 L259.4 425.38 L259.5 427.79 L259.6 429.85 L259.7 431.68 L259.8 433.63 L259.9 435.04 L260.0 436.77 L260.1 438.21 L260.2 439.40 L260.5 442.99 L261.0 447.49 L261.5 450.69 L262.0 453.13 L262.5 454.60 L263.0 455.49 L263.5 456.46 L264.0 457.38 L264.5 457.92 L265.0 458.16 L265.5 458.54 L266.0 458.82 L266.5 459.02 L267.0 459.43 L267.5 459.42 L268.0 459.73 L268.5 460.14 L269.0 460.29 L269.5 460.37 L270.0 460.54 L270.5 460.70 L271.0 460.49 L271.5 460.75 L272.0 460.83 L272.5 460.66 L273.0 460.39 L273.5 460.34 L274.0 460.05 L274.1 460.20 L274.2 459.84 L274.3 459.86 L274.4 459.80 L274.5 459.62 L274.6 459.32 L274.7 459.39 L274.8 459.00 L274.9 459.02 L275.0 458.90 L275.1 458.56 L275.2 458.06 L275.3 457.83 L275.4 457.48 L275.5 457.23 L275.6 457.03 L275.7 456.86 L275.8 456.69 L275.9 456.07 L276.0 455.95 L276.1 455.39 L276.2 455.24 L276.3 454.63 L276.4 454.34 L276.5 454.26 L276.6 453.97 L276.7 453.26 L276.8 452.94 L276.9 452.84 L277.0 452.27 L277.1 451.99 L277.2 451.62 L277.3 451.34 L277.4 451.19 L277.5 450.84 L277.6 450.63 L277.7 450.85 L277.8 450.78 L277.9 450.65 L278.0 450.54 L278.1 450.35 L278.2 450.61 L278.3 450.79 L278.4 450.69 L278.5 451.22 L278.6 451.30 L278.7 451.45 L278.8 451.86 L278.9 452.34 L279.0 452.47 L279.1 452.82 L279.2 452.96 L279.3 453.45 L279.4 454.05 L279.5 454.53 L279.6 454.67 L279.7 455.20 L279.8 455.68 L279.9 455.77 L280.0 456.28 L280.1 456.42 L280.2 457.00 L280.3 457.38 L280.4 457.74 L280.5 457.80 L280.6 458.12 L280.7 458.41 L280.8 458.62 L280.9 458.60 L281.0 459.01 L281.1 459.35 L281.2 459.51 L281.3 459.80 L281.4 460.02 L281.5 460.05 L281.6 460.01 L281.7 460.14 L281.8 460.11 L281.9 460.18 L282.0 460.60 L282.5 460.76 L283.0 460.80 L283.1 460.97 L283.2 460.98 L283.3 460.62 L283.4 460.64 L283.5 460.67 L283.6 460.52 L283.7 460.66 L283.8 460.61 L283.9 460.64 L284.0 460.28 L284.1 460.12 L284.2 460.05 L284.3 460.06 L284.4 459.87 L284.5 459.84 L284.6 459.68 L284.7 459.40 L284.8 459.56 L284.9 459.40 L285.0 459.41 L285.1 459.14 L285.2 459.10 L285.3 458.86 L285.4 458.63 L285.5 458.64 L285.6 458.28 L285.7 458.33 L285.8 458.07 L285.9 458.05 L286.0 457.56 L286.1 457.50 L286.2 457.30 L286.3 457.39 L286.4 457.39 L286.5 457.32 L286.6 457.03 L286.7 456.76 L286.8 457.05 L286.9 456.80 L287.0 456.87 L287.1 456.97 L287.2 457.06 L287.3 457.12 L287.4 456.98 L287.5 457.06 L287.6 457.17 L287.7 457.43 L287.8 457.60 L287.9 457.90 L288.0 457.90 L288.1 457.92 L288.2 457.93 L288.3 458.19 L288.4 458.47 L288.5 458.72 L288.6 458.62 L288.7 458.77 L288.8 459.14 L288.9 459.44 L289.0 459.73 L289.1 459.56 L289.2 459.88 L289.3 459.95 L289.4 460.14 L289.5 460.33 L289.6 460.36 L289.7 460.54 L289.8 460.84 L289.9 460.59 L290.0 460.80 L290.1 461.15 L290.2 461.27 L290.3 461.08 L290.4 461.30 L290.5 461.49 L290.6 461.36 L290.7 461.42 L290.8 461.36 L290.9 461.70 L291.0 461.47 L291.5 461.80 L292.0 462.09 L292.5 462.22 L293.0 462.24 L293.5 462.08 L294.0 462.27 L294.5 462.31 L295.0 462.15 L295.5 462.08 L296.0 462.05 L296.5 462.05 L297.0 462.17 L297.5 462.16 L298.0 462.41 L298.5 462.07 L299.0 462.23 L299.5 462.22 L300.0 462.48 L300.5 462.58 L301.0 462.49 L301.5 462.48 L302.0 462.32 L302.5 462.42 L303.0 462.25 L303.5 462.46 L304.0 462.43 L304.5 462.27 L305.0 462.21 L305.5 462.27 L306.0 462.28 L306.5 462.44 L307.0 462.40 L307.5 462.20 L308.0 462.27 L308.5 462.36 L309.0 462.64 L309.5 462.71 L310.0 462.60 L310.5 462.73 L311.0 462.41 L311.5 462.32 L312.0 462.27 L312.5 462.31 L313.0 462.34 L313.5 462.47 L314.0 462.68 L314.5 462.51 L315.0 462.45 L315.5 462.49 L316.0 462.73 L316.5 462.62 L317.0 462.80 L317.5 462.56 L318.0 462.59 L318.5 462.64 L319.0 462.71 L319.5 462.79 L320.0 462.49 L320.5 462.43 L321.0 462.37 L321.5 462.66 L322.0 462.63 L322.5 462.63 L323.0 462.42 L323.5 462.70 L324.0 462.88 L324.5 462.51 L325.0 462.83 L325.5 462.72 L326.0 462.51 L326.5 462.41 L327.0 462.68 L327.5 462.82 L328.0 462.70 L328.5 462.87 L329.0 462.54 L329.5 462.82 L330.0 462.60 L330.5 462.54 L331.0 462.59 L331.5 462.61 L332.0 462.88 L332.5 462.80 L333.0 462.74 L333.5 462.89 L334.0 462.78 L334.5 462.69 L335.0 462.68 L335.5 462.78 L336.0 462.97 L336.5 463.05 L337.0 462.67 L337.5 462.70 L338.0 462.86 L338.5 462.83 L339.0 462.93 L339.5 463.06 L340.0 462.71 L340.5 462.88 L341.0 462.74 L341.5 462.88 L342.0 462.72 L342.5 462.65 L343.0 462.95 L343.5 462.97 L344.0 462.97 L344.5 462.88 L345.0 462.77 L345.5 462.65 L346.0 463.01 L346.5 463.07 L347.0 463.08 L347.5 462.78 L348.0 462.65 L348.5 462.81 L349.0 462.70 L349.5 462.90 L350.0 462.84 L350.5 463.03 L351.0 462.82 L351.5 462.91 L352.0 462.90 L352.5 462.82 L353.0 462.84 L353.5 462.79 L354.0 462.82 L354.5 462.90 L355.0 462.91 L355.5 463.04 L356.0 463.18 L356.5 463.07 L357.0 462.89 L357.5 462.98 L358.0 462.84 L358.5 463.12 L359.0 462.84 L359.5 462.87 L360.0 463.17 L360.5 463.13 L361.0 463.00 L361.5 462.82 L362.0 462.83 L362.5 463.14 L363.0 462.90 L363.5 463.10 L364.0 462.93 L364.5 463.15 L365.0 462.93 L365.5 462.87 L366.0 462.88 L366.5 463.23 L367.0 462.93 L367.5 463.04 L368.0 463.28 L368.5 463.26 L369.0 462.95 L369.5 463.14 L370.0 463.05 L370.5 462.98 L371.0 462.92 L371.5 462.90 L372.0 463.09 L372.5 463.25 L373.0 463.38 L373.5 463.31 L374.0 463.19 L374.5 463.37 L375.0 463.10 L375.5 463.35 L376.0 463.47 L376.5 463.31 L377.0 463.35 L377.5 463.31 L378.0 463.34 L378.5 463.34 L379.0 463.35 L379.5 463.35 L380.0 463.26 L380.5 463.10 L381.0 463.12 L381.5 463.12 L382.0 463.29 L382.5 463.10 L383.0 463.29 L383.5 463.26 L384.0 463.45 L384.5 463.30 L385.0 463.39 L385.5 463.15 L386.0 463.07 L386.5 463.37 L387.0 463.46 L387.5 463.23 L388.0 463.24 L388.5 463.39 L389.0 463.14 L389.5 463.33 L390.0 463.40 L390.5 463.55 L391.0 463.62 L391.5 463.54 L392.0 463.22 L392.5 463.43 L393.0 463.20 L393.5 463.18 L394.0 463.41 L394.5 463.35 L395.0 463.29 L395.5 463.48 L396.0 463.53 L396.5 463.30 L397.0 463.46 L397.5 463.58 L398.0 463.48 L398.5 463.23 L399.0 463.28 L399.5 463.30 L400.0 463.17 L400.5 463.33 L401.0 463.08 L401.5 463.00 L402.0 463.30 L402.5 463.09 L403.0 462.88 L403.5 463.00 L404.0 462.91 L404.5 462.46 L404.7 462.25 L404.8 461.92 L404.9 461.72 L405.0 461.97 L405.1 461.99 L405.2 461.78 L405.3 461.58 L405.4 461.26 L405.5 460.97 L405.6 460.92 L405.7 460.78 L405.8 460.25 L405.9 459.90 L406.0 459.58 L406.1 459.56 L406.2 459.25 L406.3 458.74 L406.4 458.53 L406.5 458.42 L406.6 458.07 L406.7 457.68 L406.8 457.25 L406.9 456.64 L407.0 456.32 L407.1 455.90 L407.2 455.71 L407.3 454.97 L407.4 454.45 L407.5 454.02 L407.6 453.64 L407.7 453.39 L407.8 453.22 L407.9 453.01 L408.0 452.78 L408.1 452.20 L408.2 452.01 L408.3 451.90 L408.4 451.66 L408.5 451.49 L408.6 451.36 L408.7 451.53 L408.8 451.32 L408.9 451.77 L409.0 451.89 L409.1 452.16 L409.2 451.99 L409.3 452.13 L409.4 452.61 L409.5 453.13 L409.6 453.27 L409.7 453.52 L409.8 453.89 L409.9 454.10 L410.0 454.52 L410.1 454.91 L410.2 455.31 L410.3 456.09 L410.4 456.48 L410.5 456.96 L410.6 457.19 L410.7 457.57 L410.8 457.87 L410.9 458.26 L411.0 458.76 L411.1 459.10 L411.2 459.19 L411.3 459.47 L411.4 459.92 L411.5 460.19 L411.6 460.46 L411.7 460.48 L411.8 460.75 L411.9 461.04 L412.0 461.47 L412.1 461.77 L412.2 461.58 L412.3 461.76 L412.4 461.80 L412.5 462.00 L412.6 462.23 L412.7 462.43 L413.0 462.67 L413.5 462.97 L414.0 463.14 L414.5 463.06 L415.0 463.07 L415.5 463.24 L416.0 463.13 L416.5 463.25 L417.0 463.42 L417.5 463.61 L418.0 463.74 L418.5 463.61 L419.0 463.38 L419.5 463.51 L420.0 463.61 L420.5 463.44 L421.0 463.67 L421.5 463.47 L422.0 463.61 L422.5 463.80 L423.0 463.83 L423.5 463.81 L424.0 463.59 L424.5 463.58 L425.0 463.80 L425.5 463.69 L426.0 463.53 L426.5 463.54 L427.0 463.43 L427.5 463.80 L428.0 463.67 L428.5 463.67 L429.0 463.49 L429.5 463.68 L430.0 463.54 L430.5 463.52 L431.0 463.77 L431.5 463.74 L432.0 463.76 L432.5 463.64 L433.0 463.52 L433.5 463.59 L434.0 463.65 L434.5 463.90 L435.0 463.91 L435.5 463.80 L436.0 463.81 L436.5 463.89 L437.0 463.94 L437.5 463.96 L438.0 463.76 L438.5 463.74 L439.0 463.69 L439.5 463.72 L440.0 463.93 L440.5 463.84 L441.0 463.63 L441.5 463.87 L442.0 463.78 L442.5 463.92 L443.0 464.07 L443.5 464.11 L444.0 463.98 L444.5 463.69 L445.0 463.99 L445.5 463.71 L446.0 463.83 L446.5 463.66 L447.0 463.62 L447.5 463.96 L448.0 464.01 L448.5 464.00 L449.0 463.80 L449.5 463.76 L450.0 463.78 L450.5 464.02 L451.0 463.84 L451.5 463.94 L452.0 464.11 L452.5 463.82 L453.0 463.86 L453.5 463.81 L454.0 463.95 L454.5 463.89 L455.0 464.15 L455.5 463.96 L456.0 464.14 L456.5 464.00 L457.0 464.00 L457.5 464.11 L458.0 464.15 L458.5 464.13 L459.0 463.93 L459.5 463.97 L460.0 463.81 L460.5 463.83 L461.0 463.95 L461.5 464.18 L462.0 464.26 L462.5 464.02 L463.0 464.14 L463.5 464.31 L464.0 464.24 L464.5 464.29 L465.0 464.13 L465.5 464.23 L466.0 464.19 L466.5 464.14 L467.0 464.09 L467.5 464.14 L468.0 464.12 L468.5 464.14 L469.0 463.91 L469.5 464.15 L470.0 463.99 L470.5 463.90 L471.0 464.23 L471.5 464.32 L472.0 464.34 L472.5 464.18 L473.0 464.01 L473.5 464.05 L474.0 463.95 L474.5 464.07 L475.0 464.02 L475.5 464.09 L476.0 464.33" stroke="#6cbf3d"/>
<path d="M500.5 464.06 L501.0 464.05 L501.5 464.08 L502.0 464.36 L502.5 464.28 L503.0 464.34 L503.5 464.08 L504.0 464.17 L504.5 464.35 L505.0 464.27 L505.5 464.43 L506.0 464.45 L506.5 464.22 L507.0 463.97 L507.5 464.22 L508.0 464.02 L508.5 463.89 L509.0 464.17 L509.5 464.32 L510.0 464.37 L510.5 464.43 L511.0 464.11 L511.5 463.94 L512.0 463.89 L512.5 464.26 L513.0 463.99 L513.5 463.92 L514.0 463.83 L514.5 463.80 L515.0 463.79 L515.5 463.92 L516.0 463.88 L516.5 463.93 L517.0 464.22 L517.5 463.98 L518.0 464.18 L518.5 464.21 L519.0 464.14 L519.5 464.12 L520.0 464.20 L520.5 464.14 L521.0 463.95 L521.5 463.93 L522.0 463.88 L522.5 463.93 L523.0 464.21 L523.5 464.05 L524.0 463.82 L524.5 463.93 L525.0 464.11 L525.5 464.01 L526.0 464.08 L526.5 463.83 L527.0 463.72 L527.5 463.96 L528.0 463.75 L528.5 463.80 L529.0 463.84 L529.5 463.77 L530.0 463.67 L530.5 463.62 L531.0 464.03 L531.5 464.04 L532.0 464.17 L532.5 464.00 L533.0 464.14 L533.5 464.15 L534.0 464.04 L534.5 463.95 L535.0 463.91 L535.5 463.76 L536.0 463.78 L536.5 463.94 L537.0 463.75 L537.5 463.98 L538.0 463.90 L538.5 463.91 L539.0 464.01 L539.5 463.96 L540.0 463.71 L540.5 463.66 L541.0 463.53 L541.5 463.49 L542.0 463.90 L542.5 463.87 L543.0 464.03 L543.5 463.99 L544.0 463.77 L544.5 463.98 L545.0 464.03 L545.5 463.83 L546.0 463.59 L546.5 463.60 L547.0 463.54 L547.5 463.60 L548.0 463.49 L548.5 463.73 L549.0 463.93 L549.5 463.65 L550.0 463.80 L550.5 463.76 L551.0 463.70 L551.5 463.86 L552.0 463.68 L552.5 463.81 L553.0 463.49 L553.5 463.80 L554.0 463.54 L554.5 463.37 L555.0 463.70 L555.5 463.74 L556.0 463.72 L556.5 463.76 L557.0 463.58 L557.5 463.40 L558.0 463.42 L558.5 463.71 L559.0 463.82 L559.5 463.51 L560.0 463.49 L560.5 463.48 L561.0 463.67 L561.5 463.32 L562.0 463.57 L562.5 463.38 L563.0 463.45 L563.5 463.27 L564.0 463.18 L564.5 463.50 L565.0 463.43 L565.5 463.60 L566.0 463.60 L566.5 463.54 L567.0 463.19 L567.5 463.29 L568.0 463.49 L568.5 463.32 L569.0 463.04 L569.5 462.97 L570.0 463.28 L570.5 463.36 L571.0 463.02 L571.5 462.89 L572.0 462.98 L572.5 462.87 L573.0 462.62 L573.5 462.82 L574.0 462.65 L574.5 462.38 L575.0 462.02 L575.5 462.00 L576.0 461.97 L576.5 461.55 L577.0 461.20 L577.5 461.19 L578.0 461.07 L578.5 460.57 L579.0 460.22 L579.5 459.92 L580.0 459.51 L580.5 458.92 L581.0 458.51 L581.5 458.05 L582.0 457.60 L582.5 457.11 L583.0 456.80 L583.5 456.34 L584.0 456.21 L584.5 455.70 L585.0 455.61 L585.5 455.33 L586.0 454.83 L586.5 454.44 L587.0 454.25 L587.5 453.61 L588.0 452.27 L588.3 450.67 L588.4 450.16 L588.5 449.57 L588.6 448.63 L588.7 447.53 L588.8 446.68 L588.9 445.22 L589.0 444.05 L589.1 442.39 L589.2 440.26 L589.3 438.36 L589.4 436.05 L589.5 433.89 L589.6 431.18 L589.7 428.14 L589.8 425.39 L589.9 422.14 L590.0 418.56 L590.1 414.81 L590.2 410.67 L590.3 406.92 L590.4 402.51 L590.5 398.20 L590.6 393.76 L590.7 389.25 L590.8 384.52 L590.9 380.34 L591.0 375.82 L591.1 371.39 L591.2 367.37 L591.3 363.41 L591.4 359.58 L591.5 356.13 L591.6 352.70 L591.7 349.66 L591.8 347.24 L591.9 345.34 L592.0 343.88 L592.1 342.77 L592.2 342.09 L592.3 341.84 L592.4 342.19 L592.5 342.69 L592.6 343.24 L592.7 344.47 L592.8 345.73 L592.9 347.16 L593.0 349.12 L593.1 351.20 L593.2 353.06 L593.3 355.31 L593.4 357.55 L593.5 359.83 L593.6 362.19 L593.7 364.38 L593.8 366.28 L593.9 368.55 L594.0 370.53 L594.1 372.48 L594.2 374.45 L594.3 376.00 L594.4 377.76 L594.5 379.45 L594.6 380.51 L594.7 382.03 L594.8 383.23 L594.9 384.18 L595.0 385.29 L595.1 385.93 L595.2 386.71 L595.3 387.86 L595.4 388.54 L595.5 389.00 L595.6 389.55 L595.7 390.27 L595.8 390.94 L595.9 391.75 L596.0 392.01 L596.1 392.66 L596.2 393.15 L596.3 393.72 L596.5 394.96 L597.0 397.35 L597.5 400.38 L598.0 403.35 L598.5 406.20 L599.0 409.20 L599.5 412.62 L600.0 415.95 L600.5 418.95 L601.0 421.95 L601.5 425.19 L602.0 428.31 L602.5 431.12 L603.0 433.91 L603.5 436.44 L604.0 438.95 L604.5 441.36 L605.0 443.85 L605.5 445.73 L606.0 447.62 L606.5 449.50 L607.0 451.04 L607.5 452.49 L608.0 454.03 L608.5 455.06 L609.0 456.20 L609.5 456.92 L610.0 457.83 L610.5 458.59 L611.0 459.02 L611.5 459.22 L612.0 459.29 L612.5 459.38 L613.0 459.31 L613.5 458.89 L614.0 458.54 L614.5 458.03 L615.0 457.21 L615.5 456.77 L616.0 456.41 L616.5 455.97 L617.0 455.71 L617.1 455.69 L617.5 456.11 L618.0 456.61 L618.5 457.31 L619.0 458.06 L619.5 458.98 L620.0 459.78 L620.5 460.35 L621.0 460.88 L621.5 461.56 L622.0 462.17 L622.5 462.38 L623.0 462.64 L623.5 462.71 L624.0 462.78 L624.5 462.96 L625.0 463.33 L625.5 463.12 L626.0 463.11 L626.5 463.24 L627.0 463.55 L627.5 463.33 L628.0 463.19 L628.5 463.15 L629.0 463.27 L629.5 463.17 L630.0 463.44 L630.5 463.26 L631.0 463.27 L631.5 463.22 L632.0 463.29 L632.5 463.24 L633.0 463.26 L633.5 463.28 L634.0 463.31 L634.5 463.51 L635.0 463.46 L635.5 463.37 L636.0 463.25 L636.5 463.60 L637.0 463.72 L637.5 463.80 L638.0 463.73 L638.5 463.57 L639.0 463.48 L639.5 463.38 L640.0 463.46 L640.5 463.48 L641.0 463.72 L641.5 463.48 L642.0 463.62 L642.5 463.68 L643.0 463.67 L643.5 463.65 L644.0 463.38 L644.5 463.34 L645.0 463.49 L645.5 463.58 L646.0 463.78 L646.5 463.77 L647.0 463.51 L647.5 463.38 L648.0 463.63 L648.5 463.36 L649.0 463.68 L649.5 463.42 L650.0 463.56 L650.5 463.72 L651.0 463.43 L651.5 463.34 L652.0 463.55 L652.5 463.66 L653.0 463.38 L653.5 463.49 L654.0 463.68 L654.5 463.73 L655.0 463.58 L655.5 463.35 L656.0 463.55 L656.5 463.58 L657.0 463.54 L657.5 463.61 L658.0 463.62 L658.5 463.58 L659.0 463.60 L659.5 463.61 L660.0 463.71 L660.5 463.76 L661.0 463.42 L661.5 463.65 L662.0 463.49 L662.5 463.51 L663.0 463.42 L663.5 463.44 L664.0 463.48 L664.5 463.52 L665.0 463.38 L665.5 463.41 L666.0 463.50 L666.5 463.50 L667.0 463.56 L667.5 463.38 L668.0 463.53 L668.5 463.75 L669.0 463.75 L669.5 463.66 L670.0 463.75 L670.5 463.58 L671.0 463.43 L671.5 463.58 L672.0 463.46 L672.5 463.44 L673.0 463.65 L673.5 463.61 L674.0 463.44 L674.5 463.40 L675.0 463.62 L675.5 463.66 L676.0 463.79 L676.5 463.76 L677.0 463.55 L677.5 463.66 L678.0 463.78 L678.5 463.82 L679.0 463.85 L679.5 463.51 L680.0 463.44 L680.5 463.38 L681.0 463.66 L681.5 463.69 L682.0 463.65 L682.5 463.47 L683.0 463.50 L683.5 463.64 L684.0 463.39 L684.5 463.69 L685.0 463.71 L685.5 463.81 L686.0 463.86 L686.5 463.69 L687.0 463.53 L687.5 463.51 L688.0 463.55 L688.5 463.62 L689.0 463.49 L689.5 463.45 L690.0 463.54 L690.5 463.68 L691.0 463.39 L691.5 463.70 L692.0 463.69 L692.5 463.62 L693.0 463.62 L693.5 463.74 L694.0 463.60 L694.5 463.51 L695.0 463.37 L695.5 463.43 L696.0 463.33 L696.5 463.38 L697.0 463.57 L697.5 463.51 L698.0 463.74 L698.5 463.62 L699.0 463.75 L699.5 463.51 L700.0 463.77 L700.5 463.81 L701.0 463.84 L701.5 463.81 L702.0 463.67 L702.5 463.45 L703.0 463.69 L703.5 463.83 L704.0 463.65 L704.5 463.72 L705.0 463.69 L705.5 463.74 L706.0 463.82 L706.5 463.73 L707.0 463.47 L707.5 463.51 L708.0 463.58 L708.5 463.45 L709.0 463.63 L709.5 463.52 L710.0 463.37 L710.5 463.44 L711.0 463.64 L711.5 463.66 L712.0 463.53 L712.5 463.52 L713.0 463.65 L713.5 463.76 L714.0 463.46 L714.5 463.40 L715.0 463.48 L715.5 463.41 L716.0 463.38 L716.5 463.42 L717.0 463.36 L717.5 463.29 L718.0 463.44 L718.5 463.50 L719.0 463.60 L719.5 463.78 L720.0 463.85 L720.5 463.66 L721.0 463.51 L721.5 463.61 L722.0 463.56 L722.5 463.61 L723.0 463.78 L723.5 463.77 L724.0 463.86 L724.5 463.82 L725.0 463.78 L725.5 463.87 L726.0 463.79 L726.5 463.76 L727.0 463.72 L727.5 463.84 L728.0 463.68 L728.5 463.56 L729.0 463.62 L729.5 463.45 L730.0 463.66 L730.5 463.62 L731.0 463.52 L731.5 463.64 L732.0 463.69 L732.5 463.67 L733.0 463.52 L733.5 463.56 L734.0 463.35 L734.5 463.45 L735.0 463.31 L735.5 463.53 L736.0 463.36 L736.5 463.38 L737.0 463.63 L737.5 463.69 L738.0 463.49 L738.5 463.33 L739.0 463.69 L739.5 463.58 L740.0 463.37 L740.5 463.51 L741.0 463.70 L741.5 463.66 L742.0 463.51 L742.5 463.55 L743.0 463.50 L743.5 463.75 L744.0 463.77 L744.5 463.51 L745.0 463.60 L745.5 463.72 L746.0 463.49 L746.5 463.38 L747.0 463.53 L747.5 463.62 L748.0 463.55 L748.5 463.58 L749.0 463.62 L749.5 463.68 L750.0 463.42 L750.5 463.44 L751.0 463.36 L751.5 463.37 L752.0 463.69 L752.5 463.66 L753.0 463.75 L753.5 463.59 L754.0 463.44 L754.5 463.33 L755.0 463.61 L755.5 463.74 L756.0 463.73 L756.5 463.50 L757.0 463.66 L757.5 463.78 L758.0 463.55 L758.5 463.56 L759.0 463.78 L759.5 463.50 L760.0 463.61 L760.5 463.70 L761.0 463.64 L761.5 463.78 L762.0 463.64 L762.5 463.43 L763.0 463.45 L763.5 463.44 L764.0 463.52 L764.5 463.49 L765.0 463.68 L765.5 463.66 L766.0 463.73 L766.5 463.66 L767.0 463.40 L767.5 463.36 L768.0 463.32 L768.5 463.57 L769.0 463.50 L769.5 463.68 L770.0 463.78 L770.5 463.79 L771.0 463.71 L771.5 463.49 L772.0 463.34 L772.5 463.47 L773.0 463.66 L773.5 463.76 L774.0 463.43 L774.5 463.31 L775.0 463.43 L775.5 463.55 L776.0 463.47 L776.5 463.61 L777.0 463.69 L777.5 463.75 L778.0 463.81 L778.5 463.49 L779.0 463.73 L779.5 463.41 L780.0 463.55 L780.5 463.67 L781.0 463.41 L781.5 463.39 L782.0 463.57 L782.5 463.52 L783.0 463.36 L783.5 463.27 L784.0 463.49 L784.5 463.36 L785.0 463.32 L785.5 463.35 L786.0 463.49 L786.5 463.33 L787.0 463.39 L787.5 463.38 L788.0 463.37 L788.5 463.59 L789.0 463.54 L789.5 463.66 L790.0 463.77 L790.5 463.82 L791.0 463.51 L791.5 463.60 L792.0 463.39 L792.5 463.27 L793.0 463.49 L793.5 463.53 L794.0 463.37 L794.5 463.38 L795.0 463.57 L795.5 463.59 L796.0 463.36 L796.5 463.63 L797.0 463.34 L797.5 463.41 L798.0 463.53 L798.5 463.40 L799.0 463.32 L799.5 463.45 L800.0 463.67 L800.5 463.41 L801.0 463.30 L801.5 463.34 L802.0 463.66 L802.5 463.35 L803.0 463.49 L803.5 463.56 L804.0 463.72 L804.5 463.41 L805.0 463.58 L805.5 463.49 L806.0 463.67 L806.5 463.75 L807.0 463.63 L807.5 463.60 L808.0 463.35 L808.5 463.35 L809.0 463.62 L809.5 463.59 L810.0 463.41 L810.5 463.31 L811.0 463.56 L811.5 463.63 L812.0 463.59 L812.5 463.65 L813.0 463.40 L813.5 463.43 L814.0 463.62 L814.5 463.61 L815.0 463.46 L815.5 463.40 L816.0 463.60 L816.5 463.58 L817.0 463.35 L817.5 463.33 L818.0 463.28 L818.5 463.31 L819.0 463.37 L819.5 463.19 L820.0 463.12 L820.5 463.42 L821.0 463.39 L821.5 463.18 L822.0 463.31 L822.5 463.43 L823.0 463.34 L823.5 463.24 L824.0 463.51 L824.5 463.57 L825.0 463.45 L825.5 463.48 L826.0 463.48 L826.5 463.44 L827.0 463.31 L827.5 463.28 L828.0 463.20 L828.5 463.22 L829.0 463.10 L829.5 463.38 L830.0 463.25 L830.5 463.07 L831.0 463.09 L831.5 463.37 L832.0 463.36 L832.5 463.17 L833.0 463.03 L833.5 463.13 L834.0 463.24 L834.5 463.29 L835.0 463.08 L835.5 463.29 L836.0 463.39 L836.5 463.28 L837.0 463.43 L837.5 463.14 L838.0 463.03 L838.5 462.97 L839.0 463.25 L839.5 463.32 L840.0 463.04 L840.5 463.17 L841.0 463.03 L841.5 463.17 L842.0 462.98 L842.5 463.05 L843.0 463.05 L843.5 463.03 L844.0 463.12 L844.5 463.03 L845.0 462.80 L845.5 462.76 L846.0 462.69 L846.5 462.75 L847.0 462.70 L847.5 462.70 L848.0 462.58 L848.5 462.74 L849.0 462.60 L849.5 462.52 L850.0 462.45 L850.5 462.41 L851.0 462.29 L851.5 462.25 L852.0 461.98 L852.5 462.05 L853.0 461.89 L853.5 461.85 L854.0 461.63 L854.5 461.47 L855.0 461.46 L855.5 461.47 L856.0 461.10 L856.5 461.27 L857.0 460.87 L857.5 460.65 L858.0 460.38 L858.5 460.43 L859.0 460.21 L859.5 459.95 L860.0 459.51 L860.5 459.08 L861.0 458.30 L861.5 457.73 L862.0 457.38 L862.5 456.55 L863.0 455.45 L863.5 452.63 L864.0 441.67 L864.5 419.10 L865.0 392.64 L865.5 371.83 L866.0 359.15 L866.5 352.65 L867.0 349.22 L867.5 346.97 L868.0 345.73 L868.5 344.63 L869.0 344.25 L869.5 345.07 L870.0 347.52 L870.5 350.97 L871.0 355.60 L871.5 360.81 L872.0 366.40 L872.5 372.55 L873.0 378.86 L873.5 384.92 L874.0 391.42 L874.5 397.16 L875.0 403.33 L875.5 408.95 L876.0 414.26 L876.5 418.85 L877.0 423.70 L877.5 427.75 L878.0 431.58 L878.5 435.37 L879.0 438.47 L879.5 441.53 L880.0 444.03 L880.5 446.38 L881.0 448.30 L881.5 450.20 L882.0 451.66 L882.5 452.87 L883.0 453.97 L883.5 455.09 L884.0 455.88 L884.5 456.96 L885.0 457.72 L885.5 458.31 L886.0 458.76 L886.5 459.22 L887.0 459.50 L887.5 459.97 L888.0 459.90 L888.5 460.08 L889.0 460.39 L889.5 460.46 L890.0 460.56 L890.5 460.97 L891.0 461.25 L891.5 461.50 L892.0 461.57 L892.5 461.74 L893.0 461.58 L893.5 461.57 L894.0 461.72 L894.5 461.61 L895.0 461.65 L895.5 461.82 L896.0 462.05 L896.5 462.30 L897.0 462.23 L897.5 462.30 L898.0 462.18 L898.5 462.50 L899.0 462.55 L899.5 462.46 L900.0 462.27 L900.5 462.57 L901.0 462.53 L901.5 462.72 L902.0 462.56 L902.5 462.83 L903.0 462.82 L903.5 462.80 L904.0 462.76 L904.5 462.72 L905.0 462.75 L905.5 462.77 L906.0 462.89 L906.5 462.74 L907.0 462.73 L907.5 463.04 L908.0 462.87 L908.5 462.76 L909.0 463.15 L909.5 462.99 L910.0 463.19 L910.5 463.07 L911.0 463.33 L911.5 463.05 L912.0 463.03 L912.5 463.22 L913.0 463.07 L913.5 463.11 L914.0 463.17 L914.5 463.38 L915.0 463.39 L915.5 463.32 L916.0 463.21 L916.5 463.10 L917.0 463.48 L917.5 463.34 L918.0 463.19 L918.5 463.28 L919.0 463.19 L919.5 463.29 L920.0 463.25 L920.5 463.43 L921.0 463.45 L921.5 463.67 L922.0 463.74 L922.5 463.49 L923.0 463.53 L923.5 463.35 L924.0 463.68 L924.5 463.74 L925.0 463.58 L925.5 463.66 L926.0 463.46 L926.5 463.31 L927.0 463.26 L927.5 463.39 L928.0 463.52 L928.5 463.46 L929.0 463.44 L929.5 463.65 L930.0 463.51 L930.5 463.50 L931.0 463.52 L931.5 463.39 L932.0 463.76 L932.5 463.77 L933.0 463.50 L933.5 463.41 L934.0 463.47 L934.5 463.45 L935.0 463.50 L935.5 463.75 L936.0 463.89 L936.5 463.90 L937.0 463.57 L937.5 463.78 L938.0 463.84 L938.5 463.83 L939.0 463.64 L939.5 463.77 L940.0 463.60 L940.5 463.72 L941.0 463.91 L941.5 463.94 L942.0 464.00 L942.5 464.06 L943.0 463.81 L943.5 463.69 L944.0 463.70 L944.5 463.88 L945.0 463.74 L945.5 463.63 L946.0 463.82 L946.5 463.97 L947.0 463.68 L947.5 463.83 L948.0 463.78 L948.5 463.78 L949.0 463.92 L949.5 464.04 L950.0 463.87 L950.5 463.74 L951.0 463.71 L951.5 464.04 L952.0 463.80 L952.5 463.89 L953.0 463.85 L953.5 464.02 L954.0 463.91 L954.5 464.05 L955.0 464.19 L955.5 463.85 L956.0 463.94 L956.5 464.13 L957.0 464.16 L957.5 464.19 L958.0 464.12 L958.5 464.03 L959.0 463.89 L959.5 463.97 L960.0 463.79 L960.5 463.95 L961.0 463.96 L961.5 464.17 L962.0 464.26 L962.5 464.06 L963.0 463.97 L963.5 464.16 L964.0 464.03 L964.5 464.06 L965.0 463.89 L965.5 464.13 L966.0 464.13 L966.5 464.05 L967.0 463.81 L967.5 463.91 L968.0 464.16 L968.5 464.23 L969.0 464.33 L969.5 464.05 L970.0 464.04 L970.5 463.92 L971.0 464.13 L971.5 464.05 L972.0 463.86 L972.5 464.00 L973.0 463.91 L973.5 464.17 L974.0 464.24 L974.5 463.94 L975.0 464.06 L975.5 464.11 L976.0 464.07 L976.5 463.90 L977.0 463.96 L977.5 463.88 L978.0 464.26 L978.5 464.00 L979.0 463.88 L979.5 463.96 L980.0 464.09 L980.5 464.04 L981.0 464.21 L981.5 464.34 L982.0 464.15 L982.5 464.05 L983.0 463.93 L983.5 464.06 L984.0 464.05 L984.5 463.94 L985.0 464.14 L985.5 464.37 L986.0 464.35 L986.5 464.12 L987.0 464.28 L987.5 464.27 L988.0 464.37 L988.5 464.04 L989.0 464.12 L989.5 464.21 L990.0 464.07" stroke="#6cbf3d"/>
</g>
<g fill="#a1d8de" fill-opacity="0.33">
<rect x="610.4" y="117.8" width="15.1" height="502.7"/>
<rect x="861.5" y="69.5" width="13.8" height="551"/>
</g>
<g stroke="#000" stroke-width="3">
<line x1="30.7" y1="622.5" x2="478.6" y2="622.5"/>
<line x1="498" y1="623.8" x2="992" y2="623.8" stroke-width="2.7"/>
</g>
<g stroke="#000" stroke-width="3">
<line x1="32.20" y1="621" x2="32.20" y2="632.5"/>
<line x1="47.03" y1="621" x2="47.03" y2="629"/>
<line x1="61.86" y1="621" x2="61.86" y2="629"/>
<line x1="76.69" y1="621" x2="76.69" y2="629"/>
<line x1="91.52" y1="621" x2="91.52" y2="629"/>
<line x1="106.35" y1="621" x2="106.35" y2="632.5"/>
<line x1="121.18" y1="621" x2="121.18" y2="629"/>
<line x1="136.01" y1="621" x2="136.01" y2="629"/>
<line x1="150.84" y1="621" x2="150.84" y2="629"/>
<line x1="165.67" y1="621" x2="165.67" y2="629"/>
<line x1="180.50" y1="621" x2="180.50" y2="632.5"/>
<line x1="195.33" y1="621" x2="195.33" y2="629"/>
<line x1="210.16" y1="621" x2="210.16" y2="629"/>
<line x1="224.99" y1="621" x2="224.99" y2="629"/>
<line x1="239.82" y1="621" x2="239.82" y2="629"/>
<line x1="254.65" y1="621" x2="254.65" y2="632.5"/>
<line x1="269.48" y1="621" x2="269.48" y2="629"/>
<line x1="284.31" y1="621" x2="284.31" y2="629"/>
<line x1="299.14" y1="621" x2="299.14" y2="629"/>
<line x1="313.97" y1="621" x2="313.97" y2="629"/>
<line x1="328.80" y1="621" x2="328.80" y2="632.5"/>
<line x1="343.63" y1="621" x2="343.63" y2="629"/>
<line x1="358.46" y1="621" x2="358.46" y2="629"/>
<line x1="373.29" y1="621" x2="373.29" y2="629"/>
<line x1="388.12" y1="621" x2="388.12" y2="629"/>
<line x1="402.95" y1="621" x2="402.95" y2="632.5"/>
<line x1="417.78" y1="621" x2="417.78" y2="629"/>
<line x1="432.61" y1="621" x2="432.61" y2="629"/>
<line x1="447.44" y1="621" x2="447.44" y2="629"/>
<line x1="462.27" y1="621" x2="462.27" y2="629"/>
<line x1="477.10" y1="621" x2="477.10" y2="632.5"/>
<line x1="631.40" y1="622.5" x2="631.40" y2="630.8"/>
<line x1="811.20" y1="622.5" x2="811.20" y2="630.8"/>
<line x1="991.00" y1="622.5" x2="991.00" y2="630.8"/>
</g>
<text x="50.00" y="37.60" font-size="29" letter-spacing="0.8">a)</text>
<text x="49.80" y="193.90" font-size="29" letter-spacing="1">b)</text>
<text x="49.65" y="349.35" font-size="29" letter-spacing="1">c)</text>
<text x="49.00" y="504.05" font-size="29" letter-spacing="1.5">d)</text>
<text x="238.75" y="28.40" font-size="25">10611</text>
<text x="239.60" y="180.65" font-size="25" letter-spacing="0.3">10616</text>
<text x="223.00" y="335.80" font-size="25">10513</text>
<text x="214.35" y="487.65" font-size="25" letter-spacing="0.45">10446</text>
<text x="564.10" y="27.65" font-size="25" letter-spacing="0.6">32487</text>
<text x="565.85" y="183.30" font-size="25" letter-spacing="0.2">32545</text>
<text x="559.50" y="335.30" font-size="25" letter-spacing="-0.75">32321</text>
<text x="560.35" y="493.95" font-size="25" letter-spacing="0.45">32393</text>
<text x="609.70" y="111.10" font-size="25">BSA<tspan font-size="17" dy="-7.2" dx="0">2+</tspan></text>
<text x="813.45" y="55.10" font-size="24.5">proteinA<tspan font-size="19" dy="-7.1" dx="-0.7">+</tspan></text>
<text x="30.75" y="658.10" font-size="20" stroke-width="0" text-anchor="middle">9000</text>
<text x="182.30" y="658.50" font-size="20" stroke-width="0" text-anchor="middle">10000</text>
<text x="330.00" y="658.50" font-size="20" letter-spacing="-0.4" stroke-width="0" text-anchor="middle">11000</text>
<text x="477.95" y="658.70" font-size="20" stroke-width="0" text-anchor="middle">12000</text>
<text x="630.90" y="655.35" font-size="20" letter-spacing="-0.3" stroke-width="0" text-anchor="middle">34000</text>
<text x="810.55" y="654.75" font-size="20" stroke-width="0" text-anchor="middle">42000</text>
<text x="990.90" y="656.00" font-size="20" letter-spacing="-0.3" stroke-width="0" text-anchor="middle">50000</text>
<text x="523.35" y="686.30" font-size="18.6" letter-spacing="0.4" font-style="italic" stroke-width="0">m/z</text>
</svg>
</body></html>
